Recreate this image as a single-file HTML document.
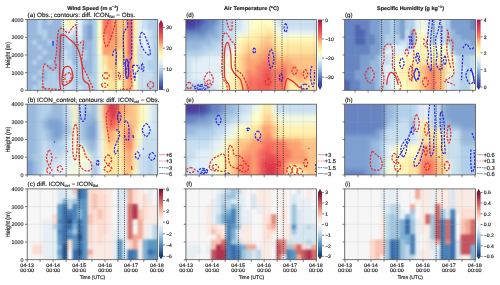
<!DOCTYPE html><html><head><meta charset="utf-8"><style>html,body{margin:0;padding:0;background:#fff;width:500px;height:285px;overflow:hidden}svg{position:absolute;left:0;top:0;font-family:"Liberation Sans",sans-serif}text{stroke:#222;stroke-width:0.16}svg{will-change:transform}text{text-rendering:geometricPrecision}</style></head><body>
<svg width="500" height="285" viewBox="0 0 500 285">
<defs>
<clipPath id="c00"><rect x="27.20" y="19.60" width="130.50" height="70.70"/></clipPath>
<clipPath id="c01"><rect x="27.20" y="104.20" width="130.50" height="70.70"/></clipPath>
<clipPath id="c02"><rect x="27.20" y="188.90" width="130.50" height="70.80"/></clipPath>
<clipPath id="c10"><rect x="185.90" y="19.60" width="130.60" height="70.70"/></clipPath>
<clipPath id="c11"><rect x="185.90" y="104.20" width="130.60" height="70.70"/></clipPath>
<clipPath id="c12"><rect x="185.90" y="188.90" width="130.60" height="70.80"/></clipPath>
<clipPath id="c20"><rect x="344.70" y="19.60" width="130.80" height="70.70"/></clipPath>
<clipPath id="c21"><rect x="344.70" y="104.20" width="130.80" height="70.70"/></clipPath>
<clipPath id="c22"><rect x="344.70" y="188.90" width="130.80" height="70.80"/></clipPath>
<linearGradient id="gRY" x1="0" y1="1" x2="0" y2="0"><stop offset="0.000" stop-color="#493b95"/><stop offset="0.050" stop-color="#4549a4"/><stop offset="0.100" stop-color="#5066b3"/><stop offset="0.150" stop-color="#6683c2"/><stop offset="0.200" stop-color="#7da0d1"/><stop offset="0.250" stop-color="#98b8dd"/><stop offset="0.300" stop-color="#b0cfe9"/><stop offset="0.350" stop-color="#c9dff0"/><stop offset="0.400" stop-color="#e2eff8"/><stop offset="0.450" stop-color="#f1f9de"/><stop offset="0.500" stop-color="#fffec5"/><stop offset="0.550" stop-color="#fff1b1"/><stop offset="0.600" stop-color="#fee39b"/><stop offset="0.650" stop-color="#fdc485"/><stop offset="0.700" stop-color="#fda170"/><stop offset="0.750" stop-color="#f87862"/><stop offset="0.800" stop-color="#f45b55"/><stop offset="0.850" stop-color="#e5464f"/><stop offset="0.900" stop-color="#d63851"/><stop offset="0.950" stop-color="#bd2753"/><stop offset="1.000" stop-color="#a51050"/></linearGradient>
<linearGradient id="gRB" x1="0" y1="1" x2="0" y2="0"><stop offset="0.000" stop-color="#163561"/><stop offset="0.050" stop-color="#274f84"/><stop offset="0.100" stop-color="#396cab"/><stop offset="0.150" stop-color="#4a81b7"/><stop offset="0.200" stop-color="#5a96c3"/><stop offset="0.250" stop-color="#7eafd1"/><stop offset="0.300" stop-color="#9ec5dd"/><stop offset="0.350" stop-color="#bbd6e7"/><stop offset="0.400" stop-color="#d7e6f0"/><stop offset="0.450" stop-color="#e7eff4"/><stop offset="0.500" stop-color="#f7f6f6"/><stop offset="0.550" stop-color="#faeae4"/><stop offset="0.600" stop-color="#fdddd1"/><stop offset="0.650" stop-color="#f8c3b3"/><stop offset="0.700" stop-color="#f3a996"/><stop offset="0.750" stop-color="#e4887d"/><stop offset="0.800" stop-color="#d66a66"/><stop offset="0.850" stop-color="#c4545f"/><stop offset="0.900" stop-color="#b1334f"/><stop offset="0.950" stop-color="#8a2241"/><stop offset="1.000" stop-color="#671334"/></linearGradient>
</defs>
<defs><filter id="bla" x="-10%" y="-10%" width="120%" height="120%" filterUnits="objectBoundingBox" color-interpolation-filters="sRGB"><feGaussianBlur stdDeviation="0.90"/></filter><filter id="blb" x="-10%" y="-10%" width="120%" height="120%" filterUnits="objectBoundingBox" color-interpolation-filters="sRGB"><feGaussianBlur stdDeviation="2.20"/></filter><filter id="blc" x="-10%" y="-10%" width="120%" height="120%" filterUnits="objectBoundingBox" color-interpolation-filters="sRGB"><feGaussianBlur stdDeviation="0.90"/></filter><filter id="bld" x="-10%" y="-10%" width="120%" height="120%" filterUnits="objectBoundingBox" color-interpolation-filters="sRGB"><feGaussianBlur stdDeviation="2.20"/></filter><filter id="ble" x="-10%" y="-10%" width="120%" height="120%" filterUnits="objectBoundingBox" color-interpolation-filters="sRGB"><feGaussianBlur stdDeviation="2.20"/></filter><filter id="blf" x="-10%" y="-10%" width="120%" height="120%" filterUnits="objectBoundingBox" color-interpolation-filters="sRGB"><feGaussianBlur stdDeviation="0.90"/></filter><filter id="blg" x="-10%" y="-10%" width="120%" height="120%" filterUnits="objectBoundingBox" color-interpolation-filters="sRGB"><feGaussianBlur stdDeviation="1.20"/></filter><filter id="blh" x="-10%" y="-10%" width="120%" height="120%" filterUnits="objectBoundingBox" color-interpolation-filters="sRGB"><feGaussianBlur stdDeviation="2.20"/></filter><filter id="bli" x="-10%" y="-10%" width="120%" height="120%" filterUnits="objectBoundingBox" color-interpolation-filters="sRGB"><feGaussianBlur stdDeviation="0.90"/></filter></defs>
<g clip-path="url(#c00)"><g filter="url(#bla)"><g transform="translate(27.20,19.60) scale(5.0192,5.0500)">
<rect x="-1" y="-1" width="3.10" height="1.1" fill="#98b8dd"/>
<rect x="2" y="-1" width="1.10" height="1.1" fill="#b0cfe9"/>
<rect x="3" y="-1" width="1.10" height="1.1" fill="#98b8dd"/>
<rect x="4" y="-1" width="1.10" height="1.1" fill="#b0cfe9"/>
<rect x="5" y="-1" width="2.10" height="1.1" fill="#98b8dd"/>
<rect x="7" y="-1" width="1.10" height="1.1" fill="#f1f9de"/>
<rect x="8" y="-1" width="1.10" height="1.1" fill="#fff1b1"/>
<rect x="9" y="-1" width="1.10" height="1.1" fill="#f1f9de"/>
<rect x="10" y="-1" width="1.10" height="1.1" fill="#e2eff8"/>
<rect x="11" y="-1" width="1.10" height="1.1" fill="#b0cfe9"/>
<rect x="12" y="-1" width="1.10" height="1.1" fill="#98b8dd"/>
<rect x="13" y="-1" width="1.10" height="1.1" fill="#b0cfe9"/>
<rect x="14" y="-1" width="1.10" height="1.1" fill="#fffec5"/>
<rect x="15" y="-1" width="2.10" height="1.1" fill="#f87862"/>
<rect x="17" y="-1" width="1.10" height="1.1" fill="#fda170"/>
<rect x="18" y="-1" width="2.10" height="1.1" fill="#fdc485"/>
<rect x="20" y="-1" width="1.10" height="1.1" fill="#f45b55"/>
<rect x="21" y="-1" width="1.10" height="1.1" fill="#fff1b1"/>
<rect x="22" y="-1" width="1.10" height="1.1" fill="#e2eff8"/>
<rect x="23" y="-1" width="1.10" height="1.1" fill="#c9dff0"/>
<rect x="24" y="-1" width="3.10" height="1.1" fill="#b0cfe9"/>
<rect x="-1" y="0" width="3.10" height="1.1" fill="#98b8dd"/>
<rect x="2" y="0" width="1.10" height="1.1" fill="#b0cfe9"/>
<rect x="3" y="0" width="1.10" height="1.1" fill="#98b8dd"/>
<rect x="4" y="0" width="1.10" height="1.1" fill="#b0cfe9"/>
<rect x="5" y="0" width="2.10" height="1.1" fill="#98b8dd"/>
<rect x="7" y="0" width="1.10" height="1.1" fill="#f1f9de"/>
<rect x="8" y="0" width="1.10" height="1.1" fill="#fff1b1"/>
<rect x="9" y="0" width="1.10" height="1.1" fill="#f1f9de"/>
<rect x="10" y="0" width="1.10" height="1.1" fill="#e2eff8"/>
<rect x="11" y="0" width="1.10" height="1.1" fill="#b0cfe9"/>
<rect x="12" y="0" width="1.10" height="1.1" fill="#98b8dd"/>
<rect x="13" y="0" width="1.10" height="1.1" fill="#b0cfe9"/>
<rect x="14" y="0" width="1.10" height="1.1" fill="#fffec5"/>
<rect x="15" y="0" width="2.10" height="1.1" fill="#f87862"/>
<rect x="17" y="0" width="1.10" height="1.1" fill="#fda170"/>
<rect x="18" y="0" width="2.10" height="1.1" fill="#fdc485"/>
<rect x="20" y="0" width="1.10" height="1.1" fill="#f45b55"/>
<rect x="21" y="0" width="1.10" height="1.1" fill="#fff1b1"/>
<rect x="22" y="0" width="1.10" height="1.1" fill="#e2eff8"/>
<rect x="23" y="0" width="1.10" height="1.1" fill="#c9dff0"/>
<rect x="24" y="0" width="3.10" height="1.1" fill="#b0cfe9"/>
<rect x="-1" y="1" width="3.10" height="1.1" fill="#98b8dd"/>
<rect x="2" y="1" width="1.10" height="1.1" fill="#b0cfe9"/>
<rect x="3" y="1" width="4.10" height="1.1" fill="#98b8dd"/>
<rect x="7" y="1" width="1.10" height="1.1" fill="#f1f9de"/>
<rect x="8" y="1" width="1.10" height="1.1" fill="#fffec5"/>
<rect x="9" y="1" width="2.10" height="1.1" fill="#e2eff8"/>
<rect x="11" y="1" width="1.10" height="1.1" fill="#98b8dd"/>
<rect x="12" y="1" width="1.10" height="1.1" fill="#7da0d1"/>
<rect x="13" y="1" width="1.10" height="1.1" fill="#b0cfe9"/>
<rect x="14" y="1" width="1.10" height="1.1" fill="#fffec5"/>
<rect x="15" y="1" width="2.10" height="1.1" fill="#f87862"/>
<rect x="17" y="1" width="1.10" height="1.1" fill="#fda170"/>
<rect x="18" y="1" width="2.10" height="1.1" fill="#fdc485"/>
<rect x="20" y="1" width="1.10" height="1.1" fill="#f45b55"/>
<rect x="21" y="1" width="1.10" height="1.1" fill="#fff1b1"/>
<rect x="22" y="1" width="1.10" height="1.1" fill="#e2eff8"/>
<rect x="23" y="1" width="1.10" height="1.1" fill="#c9dff0"/>
<rect x="24" y="1" width="3.10" height="1.1" fill="#b0cfe9"/>
<rect x="-1" y="2" width="3.10" height="1.1" fill="#98b8dd"/>
<rect x="2" y="2" width="2.10" height="1.1" fill="#b0cfe9"/>
<rect x="4" y="2" width="3.10" height="1.1" fill="#98b8dd"/>
<rect x="7" y="2" width="1.10" height="1.1" fill="#c9dff0"/>
<rect x="8" y="2" width="1.10" height="1.1" fill="#e2eff8"/>
<rect x="9" y="2" width="1.10" height="1.1" fill="#c9dff0"/>
<rect x="10" y="2" width="1.10" height="1.1" fill="#e2eff8"/>
<rect x="11" y="2" width="1.10" height="1.1" fill="#98b8dd"/>
<rect x="12" y="2" width="1.10" height="1.1" fill="#7da0d1"/>
<rect x="13" y="2" width="1.10" height="1.1" fill="#b0cfe9"/>
<rect x="14" y="2" width="1.10" height="1.1" fill="#fffec5"/>
<rect x="15" y="2" width="2.10" height="1.1" fill="#f87862"/>
<rect x="17" y="2" width="1.10" height="1.1" fill="#fda170"/>
<rect x="18" y="2" width="2.10" height="1.1" fill="#fdc485"/>
<rect x="20" y="2" width="1.10" height="1.1" fill="#f45b55"/>
<rect x="21" y="2" width="1.10" height="1.1" fill="#fff1b1"/>
<rect x="22" y="2" width="2.10" height="1.1" fill="#e2eff8"/>
<rect x="24" y="2" width="1.10" height="1.1" fill="#c9dff0"/>
<rect x="25" y="2" width="2.10" height="1.1" fill="#b0cfe9"/>
<rect x="-1" y="3" width="4.10" height="1.1" fill="#98b8dd"/>
<rect x="3" y="3" width="1.10" height="1.1" fill="#b0cfe9"/>
<rect x="4" y="3" width="2.10" height="1.1" fill="#98b8dd"/>
<rect x="6" y="3" width="1.10" height="1.1" fill="#7da0d1"/>
<rect x="7" y="3" width="1.10" height="1.1" fill="#b0cfe9"/>
<rect x="8" y="3" width="1.10" height="1.1" fill="#c9dff0"/>
<rect x="9" y="3" width="1.10" height="1.1" fill="#b0cfe9"/>
<rect x="10" y="3" width="1.10" height="1.1" fill="#e2eff8"/>
<rect x="11" y="3" width="1.10" height="1.1" fill="#98b8dd"/>
<rect x="12" y="3" width="1.10" height="1.1" fill="#7da0d1"/>
<rect x="13" y="3" width="1.10" height="1.1" fill="#b0cfe9"/>
<rect x="14" y="3" width="1.10" height="1.1" fill="#fffec5"/>
<rect x="15" y="3" width="1.10" height="1.1" fill="#fda170"/>
<rect x="16" y="3" width="1.10" height="1.1" fill="#f87862"/>
<rect x="17" y="3" width="1.10" height="1.1" fill="#fda170"/>
<rect x="18" y="3" width="2.10" height="1.1" fill="#fdc485"/>
<rect x="20" y="3" width="1.10" height="1.1" fill="#f45b55"/>
<rect x="21" y="3" width="1.10" height="1.1" fill="#fff1b1"/>
<rect x="22" y="3" width="2.10" height="1.1" fill="#e2eff8"/>
<rect x="24" y="3" width="1.10" height="1.1" fill="#c9dff0"/>
<rect x="25" y="3" width="2.10" height="1.1" fill="#b0cfe9"/>
<rect x="-1" y="4" width="2.10" height="1.1" fill="#98b8dd"/>
<rect x="1" y="4" width="1.10" height="1.1" fill="#b0cfe9"/>
<rect x="2" y="4" width="2.10" height="1.1" fill="#98b8dd"/>
<rect x="4" y="4" width="1.10" height="1.1" fill="#b0cfe9"/>
<rect x="5" y="4" width="1.10" height="1.1" fill="#98b8dd"/>
<rect x="6" y="4" width="1.10" height="1.1" fill="#7da0d1"/>
<rect x="7" y="4" width="1.10" height="1.1" fill="#b0cfe9"/>
<rect x="8" y="4" width="1.10" height="1.1" fill="#c9dff0"/>
<rect x="9" y="4" width="1.10" height="1.1" fill="#98b8dd"/>
<rect x="10" y="4" width="1.10" height="1.1" fill="#c9dff0"/>
<rect x="11" y="4" width="2.10" height="1.1" fill="#98b8dd"/>
<rect x="13" y="4" width="1.10" height="1.1" fill="#b0cfe9"/>
<rect x="14" y="4" width="1.10" height="1.1" fill="#fffec5"/>
<rect x="15" y="4" width="3.10" height="1.1" fill="#fda170"/>
<rect x="18" y="4" width="2.10" height="1.1" fill="#fdc485"/>
<rect x="20" y="4" width="1.10" height="1.1" fill="#f45b55"/>
<rect x="21" y="4" width="1.10" height="1.1" fill="#fff1b1"/>
<rect x="22" y="4" width="2.10" height="1.1" fill="#e2eff8"/>
<rect x="24" y="4" width="1.10" height="1.1" fill="#c9dff0"/>
<rect x="25" y="4" width="2.10" height="1.1" fill="#b0cfe9"/>
<rect x="-1" y="5" width="3.10" height="1.1" fill="#98b8dd"/>
<rect x="2" y="5" width="1.10" height="1.1" fill="#b0cfe9"/>
<rect x="3" y="5" width="3.10" height="1.1" fill="#98b8dd"/>
<rect x="6" y="5" width="1.10" height="1.1" fill="#7da0d1"/>
<rect x="7" y="5" width="2.10" height="1.1" fill="#b0cfe9"/>
<rect x="9" y="5" width="1.10" height="1.1" fill="#98b8dd"/>
<rect x="10" y="5" width="1.10" height="1.1" fill="#b0cfe9"/>
<rect x="11" y="5" width="2.10" height="1.1" fill="#98b8dd"/>
<rect x="13" y="5" width="1.10" height="1.1" fill="#b0cfe9"/>
<rect x="14" y="5" width="1.10" height="1.1" fill="#fffec5"/>
<rect x="15" y="5" width="3.10" height="1.1" fill="#fda170"/>
<rect x="18" y="5" width="2.10" height="1.1" fill="#fdc485"/>
<rect x="20" y="5" width="1.10" height="1.1" fill="#f45b55"/>
<rect x="21" y="5" width="1.10" height="1.1" fill="#fff1b1"/>
<rect x="22" y="5" width="1.10" height="1.1" fill="#c9dff0"/>
<rect x="23" y="5" width="1.10" height="1.1" fill="#e2eff8"/>
<rect x="24" y="5" width="1.10" height="1.1" fill="#c9dff0"/>
<rect x="25" y="5" width="2.10" height="1.1" fill="#b0cfe9"/>
<rect x="-1" y="6" width="4.10" height="1.1" fill="#98b8dd"/>
<rect x="3" y="6" width="1.10" height="1.1" fill="#b0cfe9"/>
<rect x="4" y="6" width="2.10" height="1.1" fill="#98b8dd"/>
<rect x="6" y="6" width="1.10" height="1.1" fill="#7da0d1"/>
<rect x="7" y="6" width="1.10" height="1.1" fill="#c9dff0"/>
<rect x="8" y="6" width="1.10" height="1.1" fill="#b0cfe9"/>
<rect x="9" y="6" width="1.10" height="1.1" fill="#98b8dd"/>
<rect x="10" y="6" width="2.10" height="1.1" fill="#b0cfe9"/>
<rect x="12" y="6" width="1.10" height="1.1" fill="#98b8dd"/>
<rect x="13" y="6" width="1.10" height="1.1" fill="#b0cfe9"/>
<rect x="14" y="6" width="1.10" height="1.1" fill="#fffec5"/>
<rect x="15" y="6" width="2.10" height="1.1" fill="#fda170"/>
<rect x="17" y="6" width="1.10" height="1.1" fill="#fdc485"/>
<rect x="18" y="6" width="1.10" height="1.1" fill="#fee39b"/>
<rect x="19" y="6" width="1.10" height="1.1" fill="#fdc485"/>
<rect x="20" y="6" width="1.10" height="1.1" fill="#f45b55"/>
<rect x="21" y="6" width="1.10" height="1.1" fill="#fff1b1"/>
<rect x="22" y="6" width="1.10" height="1.1" fill="#c9dff0"/>
<rect x="23" y="6" width="1.10" height="1.1" fill="#e2eff8"/>
<rect x="24" y="6" width="1.10" height="1.1" fill="#c9dff0"/>
<rect x="25" y="6" width="2.10" height="1.1" fill="#b0cfe9"/>
<rect x="-1" y="7" width="3.10" height="1.1" fill="#98b8dd"/>
<rect x="2" y="7" width="1.10" height="1.1" fill="#b0cfe9"/>
<rect x="3" y="7" width="3.10" height="1.1" fill="#98b8dd"/>
<rect x="6" y="7" width="1.10" height="1.1" fill="#7da0d1"/>
<rect x="7" y="7" width="1.10" height="1.1" fill="#c9dff0"/>
<rect x="8" y="7" width="1.10" height="1.1" fill="#b0cfe9"/>
<rect x="9" y="7" width="1.10" height="1.1" fill="#98b8dd"/>
<rect x="10" y="7" width="2.10" height="1.1" fill="#b0cfe9"/>
<rect x="12" y="7" width="1.10" height="1.1" fill="#98b8dd"/>
<rect x="13" y="7" width="1.10" height="1.1" fill="#b0cfe9"/>
<rect x="14" y="7" width="1.10" height="1.1" fill="#f1f9de"/>
<rect x="15" y="7" width="1.10" height="1.1" fill="#fee39b"/>
<rect x="16" y="7" width="2.10" height="1.1" fill="#fdc485"/>
<rect x="18" y="7" width="1.10" height="1.1" fill="#fee39b"/>
<rect x="19" y="7" width="1.10" height="1.1" fill="#fdc485"/>
<rect x="20" y="7" width="1.10" height="1.1" fill="#f87862"/>
<rect x="21" y="7" width="1.10" height="1.1" fill="#fff1b1"/>
<rect x="22" y="7" width="3.10" height="1.1" fill="#c9dff0"/>
<rect x="25" y="7" width="2.10" height="1.1" fill="#b0cfe9"/>
<rect x="-1" y="8" width="2.10" height="1.1" fill="#98b8dd"/>
<rect x="1" y="8" width="1.10" height="1.1" fill="#b0cfe9"/>
<rect x="2" y="8" width="2.10" height="1.1" fill="#98b8dd"/>
<rect x="4" y="8" width="1.10" height="1.1" fill="#b0cfe9"/>
<rect x="5" y="8" width="2.10" height="1.1" fill="#98b8dd"/>
<rect x="7" y="8" width="2.10" height="1.1" fill="#c9dff0"/>
<rect x="9" y="8" width="1.10" height="1.1" fill="#98b8dd"/>
<rect x="10" y="8" width="1.10" height="1.1" fill="#b0cfe9"/>
<rect x="11" y="8" width="2.10" height="1.1" fill="#98b8dd"/>
<rect x="13" y="8" width="1.10" height="1.1" fill="#b0cfe9"/>
<rect x="14" y="8" width="1.10" height="1.1" fill="#f1f9de"/>
<rect x="15" y="8" width="1.10" height="1.1" fill="#fee39b"/>
<rect x="16" y="8" width="2.10" height="1.1" fill="#fdc485"/>
<rect x="18" y="8" width="1.10" height="1.1" fill="#fff1b1"/>
<rect x="19" y="8" width="1.10" height="1.1" fill="#fdc485"/>
<rect x="20" y="8" width="1.10" height="1.1" fill="#f87862"/>
<rect x="21" y="8" width="1.10" height="1.1" fill="#fff1b1"/>
<rect x="22" y="8" width="2.10" height="1.1" fill="#c9dff0"/>
<rect x="24" y="8" width="3.10" height="1.1" fill="#b0cfe9"/>
<rect x="-1" y="9" width="4.10" height="1.1" fill="#98b8dd"/>
<rect x="3" y="9" width="1.10" height="1.1" fill="#b0cfe9"/>
<rect x="4" y="9" width="3.10" height="1.1" fill="#98b8dd"/>
<rect x="7" y="9" width="2.10" height="1.1" fill="#c9dff0"/>
<rect x="9" y="9" width="2.10" height="1.1" fill="#b0cfe9"/>
<rect x="11" y="9" width="2.10" height="1.1" fill="#98b8dd"/>
<rect x="13" y="9" width="1.10" height="1.1" fill="#b0cfe9"/>
<rect x="14" y="9" width="1.10" height="1.1" fill="#f1f9de"/>
<rect x="15" y="9" width="1.10" height="1.1" fill="#fff1b1"/>
<rect x="16" y="9" width="2.10" height="1.1" fill="#fdc485"/>
<rect x="18" y="9" width="1.10" height="1.1" fill="#fff1b1"/>
<rect x="19" y="9" width="1.10" height="1.1" fill="#fdc485"/>
<rect x="20" y="9" width="1.10" height="1.1" fill="#f87862"/>
<rect x="21" y="9" width="1.10" height="1.1" fill="#fff1b1"/>
<rect x="22" y="9" width="2.10" height="1.1" fill="#c9dff0"/>
<rect x="24" y="9" width="3.10" height="1.1" fill="#b0cfe9"/>
<rect x="-1" y="10" width="3.10" height="1.1" fill="#98b8dd"/>
<rect x="2" y="10" width="1.10" height="1.1" fill="#b0cfe9"/>
<rect x="3" y="10" width="1.10" height="1.1" fill="#98b8dd"/>
<rect x="4" y="10" width="2.10" height="1.1" fill="#b0cfe9"/>
<rect x="6" y="10" width="1.10" height="1.1" fill="#98b8dd"/>
<rect x="7" y="10" width="2.10" height="1.1" fill="#c9dff0"/>
<rect x="9" y="10" width="3.10" height="1.1" fill="#b0cfe9"/>
<rect x="12" y="10" width="1.10" height="1.1" fill="#98b8dd"/>
<rect x="13" y="10" width="1.10" height="1.1" fill="#b0cfe9"/>
<rect x="14" y="10" width="1.10" height="1.1" fill="#f1f9de"/>
<rect x="15" y="10" width="1.10" height="1.1" fill="#fff1b1"/>
<rect x="16" y="10" width="1.10" height="1.1" fill="#fee39b"/>
<rect x="17" y="10" width="1.10" height="1.1" fill="#fdc485"/>
<rect x="18" y="10" width="1.10" height="1.1" fill="#fff1b1"/>
<rect x="19" y="10" width="1.10" height="1.1" fill="#fdc485"/>
<rect x="20" y="10" width="1.10" height="1.1" fill="#f87862"/>
<rect x="21" y="10" width="1.10" height="1.1" fill="#fffec5"/>
<rect x="22" y="10" width="3.10" height="1.1" fill="#c9dff0"/>
<rect x="25" y="10" width="2.10" height="1.1" fill="#b0cfe9"/>
<rect x="-1" y="11" width="2.10" height="1.1" fill="#98b8dd"/>
<rect x="1" y="11" width="1.10" height="1.1" fill="#b0cfe9"/>
<rect x="2" y="11" width="2.10" height="1.1" fill="#98b8dd"/>
<rect x="4" y="11" width="2.10" height="1.1" fill="#b0cfe9"/>
<rect x="6" y="11" width="1.10" height="1.1" fill="#98b8dd"/>
<rect x="7" y="11" width="2.10" height="1.1" fill="#c9dff0"/>
<rect x="9" y="11" width="5.10" height="1.1" fill="#b0cfe9"/>
<rect x="14" y="11" width="1.10" height="1.1" fill="#f1f9de"/>
<rect x="15" y="11" width="1.10" height="1.1" fill="#fff1b1"/>
<rect x="16" y="11" width="1.10" height="1.1" fill="#fee39b"/>
<rect x="17" y="11" width="1.10" height="1.1" fill="#fdc485"/>
<rect x="18" y="11" width="1.10" height="1.1" fill="#fff1b1"/>
<rect x="19" y="11" width="1.10" height="1.1" fill="#fdc485"/>
<rect x="20" y="11" width="1.10" height="1.1" fill="#f87862"/>
<rect x="21" y="11" width="1.10" height="1.1" fill="#fffec5"/>
<rect x="22" y="11" width="3.10" height="1.1" fill="#c9dff0"/>
<rect x="25" y="11" width="2.10" height="1.1" fill="#b0cfe9"/>
<rect x="-1" y="12" width="3.10" height="1.1" fill="#98b8dd"/>
<rect x="2" y="12" width="5.10" height="1.1" fill="#b0cfe9"/>
<rect x="7" y="12" width="2.10" height="1.1" fill="#c9dff0"/>
<rect x="9" y="12" width="5.10" height="1.1" fill="#b0cfe9"/>
<rect x="14" y="12" width="1.10" height="1.1" fill="#f1f9de"/>
<rect x="15" y="12" width="1.10" height="1.1" fill="#fffec5"/>
<rect x="16" y="12" width="2.10" height="1.1" fill="#fee39b"/>
<rect x="18" y="12" width="1.10" height="1.1" fill="#fffec5"/>
<rect x="19" y="12" width="1.10" height="1.1" fill="#fdc485"/>
<rect x="20" y="12" width="1.10" height="1.1" fill="#fda170"/>
<rect x="21" y="12" width="1.10" height="1.1" fill="#fffec5"/>
<rect x="22" y="12" width="2.10" height="1.1" fill="#c9dff0"/>
<rect x="24" y="12" width="3.10" height="1.1" fill="#b0cfe9"/>
<rect x="-1" y="13" width="2.10" height="1.1" fill="#98b8dd"/>
<rect x="1" y="13" width="6.10" height="1.1" fill="#b0cfe9"/>
<rect x="7" y="13" width="2.10" height="1.1" fill="#c9dff0"/>
<rect x="9" y="13" width="1.10" height="1.1" fill="#b0cfe9"/>
<rect x="10" y="13" width="1.10" height="1.1" fill="#c9dff0"/>
<rect x="11" y="13" width="3.10" height="1.1" fill="#b0cfe9"/>
<rect x="14" y="13" width="1.10" height="1.1" fill="#f1f9de"/>
<rect x="15" y="13" width="1.10" height="1.1" fill="#fffec5"/>
<rect x="16" y="13" width="2.10" height="1.1" fill="#fee39b"/>
<rect x="18" y="13" width="1.10" height="1.1" fill="#fffec5"/>
<rect x="19" y="13" width="1.10" height="1.1" fill="#fdc485"/>
<rect x="20" y="13" width="1.10" height="1.1" fill="#fda170"/>
<rect x="21" y="13" width="1.10" height="1.1" fill="#fffec5"/>
<rect x="22" y="13" width="2.10" height="1.1" fill="#c9dff0"/>
<rect x="24" y="13" width="3.10" height="1.1" fill="#b0cfe9"/>
<rect x="-1" y="14" width="2.10" height="1.1" fill="#98b8dd"/>
<rect x="1" y="14" width="6.10" height="1.1" fill="#b0cfe9"/>
<rect x="7" y="14" width="2.10" height="1.1" fill="#c9dff0"/>
<rect x="9" y="14" width="1.10" height="1.1" fill="#b0cfe9"/>
<rect x="10" y="14" width="1.10" height="1.1" fill="#c9dff0"/>
<rect x="11" y="14" width="3.10" height="1.1" fill="#b0cfe9"/>
<rect x="14" y="14" width="1.10" height="1.1" fill="#f1f9de"/>
<rect x="15" y="14" width="1.10" height="1.1" fill="#fffec5"/>
<rect x="16" y="14" width="2.10" height="1.1" fill="#fee39b"/>
<rect x="18" y="14" width="1.10" height="1.1" fill="#fffec5"/>
<rect x="19" y="14" width="1.10" height="1.1" fill="#fdc485"/>
<rect x="20" y="14" width="1.10" height="1.1" fill="#fda170"/>
<rect x="21" y="14" width="1.10" height="1.1" fill="#fffec5"/>
<rect x="22" y="14" width="2.10" height="1.1" fill="#c9dff0"/>
<rect x="24" y="14" width="3.10" height="1.1" fill="#b0cfe9"/>
</g></g></g>
<g stroke="#a8a8a8" stroke-width="0.45" opacity="0.4">
<line x1="37.70" y1="19.60" x2="37.70" y2="90.30"/>
<line x1="50.79" y1="19.60" x2="50.79" y2="90.30"/>
<line x1="63.88" y1="19.60" x2="63.88" y2="90.30"/>
<line x1="76.97" y1="19.60" x2="76.97" y2="90.30"/>
<line x1="90.06" y1="19.60" x2="90.06" y2="90.30"/>
<line x1="103.14" y1="19.60" x2="103.14" y2="90.30"/>
<line x1="116.23" y1="19.60" x2="116.23" y2="90.30"/>
<line x1="129.32" y1="19.60" x2="129.32" y2="90.30"/>
<line x1="142.41" y1="19.60" x2="142.41" y2="90.30"/>
<line x1="155.50" y1="19.60" x2="155.50" y2="90.30"/>
<line x1="27.20" y1="72.62" x2="157.70" y2="72.62"/>
<line x1="27.20" y1="54.95" x2="157.70" y2="54.95"/>
<line x1="27.20" y1="37.28" x2="157.70" y2="37.28"/>
</g>
<g clip-path="url(#c00)" fill="none" stroke-width="1.25">
<path d="M44.00,88.40 C43.78,87.30 42.70,85.73 42.70,81.80 C42.70,77.87 42.90,67.20 44.00,64.80 C45.10,62.40 47.77,66.53 49.30,67.40 C50.83,68.27 52.03,70.23 53.20,70.00 C54.37,69.77 56.00,67.37 56.30,66.00 C56.60,64.63 55.00,63.80 55.00,61.80 C55.00,59.80 55.98,56.80 56.30,54.00 C56.62,51.20 56.58,48.67 56.90,45.00 C57.22,41.33 57.65,34.70 58.20,32.00 C58.75,29.30 59.43,29.40 60.20,28.80 C60.97,28.20 62.05,28.08 62.80,28.40 C63.55,28.72 63.73,29.98 64.70,30.70 C65.67,31.42 67.40,33.13 68.60,32.70 C69.80,32.27 70.82,29.40 71.90,28.10 C72.98,26.80 74.38,25.12 75.10,24.90 C75.82,24.68 75.98,25.18 76.20,26.80 C76.42,28.42 76.25,32.00 76.40,34.60 C76.55,37.20 76.77,40.67 77.10,42.40 C77.43,44.13 77.65,45.10 78.40,45.00 C79.15,44.90 80.73,42.33 81.60,41.80 C82.47,41.27 83.38,40.62 83.60,41.80 C83.82,42.98 83.17,45.28 82.90,48.90 C82.63,52.52 81.27,59.10 82.00,63.50 C82.73,67.90 85.98,72.25 87.30,75.30 C88.62,78.35 89.03,79.85 89.90,81.80 C90.77,83.75 91.98,85.47 92.50,87.00 C93.02,88.53 92.92,90.33 93.00,91.00" stroke="#e5322d" stroke-dasharray="2.2,1.2"/>
<path d="M61.10,91.00 C60.87,89.03 59.80,87.95 59.70,79.20 C59.60,70.45 60.10,45.82 60.50,38.50 C60.90,31.18 61.40,35.83 62.10,35.30 C62.80,34.77 63.62,34.77 64.70,35.30 C65.78,35.83 67.30,37.42 68.60,38.50 C69.90,39.58 71.20,40.50 72.50,41.80 C73.80,43.10 75.32,44.68 76.40,46.30 C77.48,47.92 78.07,48.42 79.00,51.50 C79.93,54.58 81.28,60.18 82.00,64.80 C82.72,69.42 82.20,75.93 83.30,79.20 C84.40,82.47 87.50,82.43 88.60,84.40 C89.70,86.37 89.68,89.90 89.90,91.00" stroke="#e5322d"/>
<path d="M62.40,84.40 C61.53,82.00 62.40,71.53 63.70,68.70 C65.00,65.87 68.68,66.08 70.20,67.40 C71.72,68.72 73.02,73.98 72.80,76.60 C72.58,79.22 70.63,81.80 68.90,83.10 C67.17,84.40 63.27,86.80 62.40,84.40 Z" stroke="#e5322d"/>
<path d="M65.00,75.30 C65.65,73.78 69.20,72.05 70.20,72.70 C71.20,73.35 71.65,77.68 71.00,79.20 C70.35,80.72 67.30,82.45 66.30,81.80 C65.30,81.15 64.35,76.82 65.00,75.30 Z" stroke="#e5322d" stroke-dasharray="2.2,1.2"/>
<path d="M42.00,86.50 C42.32,86.83 42.07,88.07 43.90,88.50 C45.73,88.93 50.18,88.88 53.00,89.10 C55.82,89.32 59.50,89.68 60.80,89.80" stroke="#e5322d" stroke-dasharray="2.2,1.2"/>
<path d="M53.00,41.00 L53.00,45.70" stroke="#2a2ae6"/>
<path d="M109.50,19.00 C108.67,21.00 105.42,27.50 104.50,31.00 C103.58,34.50 103.67,37.33 104.00,40.00 C104.33,42.67 105.50,47.00 106.50,47.00 C107.50,47.00 108.75,43.17 110.00,40.00 C111.25,36.83 113.08,31.50 114.00,28.00 C114.92,24.50 115.25,20.50 115.50,19.00" stroke="#e5322d" stroke-dasharray="2.2,1.2"/>
<path d="M127.00,19.00 C127.10,20.33 128.15,24.58 127.60,27.00 C127.05,29.42 124.35,28.67 123.70,33.50 C123.05,38.33 123.60,50.58 123.70,56.00 C123.80,61.42 124.20,64.33 124.30,66.00" stroke="#2a2ae6" stroke-dasharray="2.2,1.2"/>
<path d="M131.60,19.00 C131.60,25.17 131.82,49.28 131.60,56.00 C131.38,62.72 130.97,57.65 130.30,59.30 C129.63,60.95 128.38,63.27 127.60,65.90 C126.82,68.53 125.93,73.57 125.60,75.10" stroke="#2a2ae6" stroke-dasharray="2.2,1.2"/>
<path d="M126.00,60.00 C126.42,58.67 127.58,59.50 128.00,62.00 C128.42,64.50 128.75,72.33 128.50,75.00 C128.25,77.67 127.00,78.83 126.50,78.00 C126.00,77.17 125.58,73.00 125.50,70.00 C125.42,67.00 125.58,61.33 126.00,60.00 Z" stroke="#2a2ae6"/>
<path d="M140.80,33.50 C141.47,32.50 142.55,31.58 144.00,34.00 C145.45,36.42 148.50,44.50 149.50,48.00 C150.50,51.50 150.58,54.17 150.00,55.00 C149.42,55.83 147.42,54.50 146.00,53.00 C144.58,51.50 142.50,48.17 141.50,46.00 C140.50,43.83 140.12,42.08 140.00,40.00 C139.88,37.92 140.13,34.50 140.80,33.50 Z" stroke="#2a2ae6" stroke-dasharray="2.2,1.2"/>
<path d="M112.50,56.00 C112.75,55.00 113.35,50.67 114.00,50.00 C114.65,49.33 116.12,49.35 116.40,52.00 C116.68,54.65 115.82,63.58 115.70,65.90" stroke="#2a2ae6" stroke-dasharray="2.2,1.2"/>
<path d="M132.90,65.90 C133.67,64.58 137.22,65.25 138.20,65.90 C139.18,66.55 139.25,68.48 138.80,69.80 C138.35,71.12 136.15,72.03 135.50,73.80 C134.85,75.57 135.22,80.40 134.90,80.40 C134.58,80.40 133.93,76.22 133.60,73.80 C133.27,71.38 132.13,67.22 132.90,65.90 Z" stroke="#2a2ae6" stroke-dasharray="2.2,1.2"/>
<path d="M142.10,63.20 C142.53,63.42 143.98,67.18 144.10,68.50 C144.22,69.82 143.23,71.32 142.80,71.10 C142.37,70.88 141.62,68.52 141.50,67.20 C141.38,65.88 141.67,62.98 142.10,63.20 Z" stroke="#2a2ae6" stroke-dasharray="2.2,1.2"/>
<path d="M105.90,72.50 C107.00,72.50 109.20,74.70 109.20,75.80 C109.20,76.90 107.00,79.10 105.90,79.10 C104.80,79.10 102.60,76.90 102.60,75.80 C102.60,74.70 104.80,72.50 105.90,72.50 Z" stroke="#e5322d" stroke-dasharray="2.2,1.2"/>
<path d="M101.20,85.00 C101.20,84.25 103.40,83.00 104.50,83.00 C105.60,83.00 107.80,84.25 107.80,85.00 C107.80,85.75 105.60,87.50 104.50,87.50 C103.40,87.50 101.20,85.75 101.20,85.00 Z" stroke="#e5322d" stroke-dasharray="2.2,1.2"/>
<path d="M130.30,71.10 C130.52,72.58 131.38,77.35 131.60,80.00 C131.82,82.65 132.20,85.50 131.60,87.00 C131.00,88.50 129.93,88.58 128.00,89.00 C126.07,89.42 121.33,89.42 120.00,89.50" stroke="#e5322d" stroke-dasharray="2.2,1.2"/>
<path d="M147.40,85.00 C147.40,83.90 149.60,81.70 150.70,81.70 C151.80,81.70 154.00,83.90 154.00,85.00 C154.00,86.10 151.80,88.30 150.70,88.30 C149.60,88.30 147.40,86.10 147.40,85.00 Z" stroke="#e5322d" stroke-dasharray="2.2,1.2"/>
<path d="M118.40,72.50 C118.70,72.17 120.13,73.92 120.40,75.00 C120.67,76.08 120.30,78.67 120.00,79.00 C119.70,79.33 118.87,78.08 118.60,77.00 C118.33,75.92 118.10,72.83 118.40,72.50 Z" stroke="#e5322d" stroke-dasharray="2.2,1.2"/>
</g>
<line x1="63.40" y1="19.60" x2="63.40" y2="90.30" stroke="#222" stroke-width="0.7" stroke-dasharray="1.2,1"/>
<line x1="76.80" y1="19.60" x2="76.80" y2="90.30" stroke="#222" stroke-width="0.7" stroke-dasharray="1.2,1"/>
<line x1="116.00" y1="19.60" x2="116.00" y2="90.30" stroke="#222" stroke-width="0.7" stroke-dasharray="1.2,1"/>
<line x1="123.30" y1="19.60" x2="123.30" y2="90.30" stroke="#222" stroke-width="0.7" stroke-dasharray="1.2,1"/>
<rect x="27.20" y="19.60" width="130.50" height="70.70" fill="none" stroke="#555" stroke-width="0.8"/>
<line x1="37.70" y1="90.30" x2="37.70" y2="92.50" stroke="#444" stroke-width="0.7"/>
<line x1="50.79" y1="90.30" x2="50.79" y2="92.50" stroke="#444" stroke-width="0.7"/>
<line x1="63.88" y1="90.30" x2="63.88" y2="92.50" stroke="#444" stroke-width="0.7"/>
<line x1="76.97" y1="90.30" x2="76.97" y2="92.50" stroke="#444" stroke-width="0.7"/>
<line x1="90.06" y1="90.30" x2="90.06" y2="92.50" stroke="#444" stroke-width="0.7"/>
<line x1="103.14" y1="90.30" x2="103.14" y2="92.50" stroke="#444" stroke-width="0.7"/>
<line x1="116.23" y1="90.30" x2="116.23" y2="92.50" stroke="#444" stroke-width="0.7"/>
<line x1="129.32" y1="90.30" x2="129.32" y2="92.50" stroke="#444" stroke-width="0.7"/>
<line x1="142.41" y1="90.30" x2="142.41" y2="92.50" stroke="#444" stroke-width="0.7"/>
<line x1="155.50" y1="90.30" x2="155.50" y2="92.50" stroke="#444" stroke-width="0.7"/>
<line x1="25.00" y1="90.30" x2="27.20" y2="90.30" stroke="#444" stroke-width="0.7"/>
<text x="23.60" y="92.20" font-size="5.4" fill="#333" text-anchor="end">0</text>
<line x1="25.00" y1="72.62" x2="27.20" y2="72.62" stroke="#444" stroke-width="0.7"/>
<text x="23.60" y="74.53" font-size="5.4" fill="#333" text-anchor="end">1000</text>
<line x1="25.00" y1="54.95" x2="27.20" y2="54.95" stroke="#444" stroke-width="0.7"/>
<text x="23.60" y="56.85" font-size="5.4" fill="#333" text-anchor="end">2000</text>
<line x1="25.00" y1="37.28" x2="27.20" y2="37.28" stroke="#444" stroke-width="0.7"/>
<text x="23.60" y="39.18" font-size="5.4" fill="#333" text-anchor="end">3000</text>
<line x1="25.00" y1="19.60" x2="27.20" y2="19.60" stroke="#444" stroke-width="0.7"/>
<text x="23.60" y="21.50" font-size="5.4" fill="#333" text-anchor="end">4000</text>
<g clip-path="url(#c01)"><g filter="url(#blb)"><g transform="translate(27.20,104.20) scale(5.0192,5.0500)">
<rect x="-1" y="-1" width="3.10" height="1.1" fill="#98b8dd"/>
<rect x="2" y="-1" width="3.10" height="1.1" fill="#b0cfe9"/>
<rect x="5" y="-1" width="2.10" height="1.1" fill="#98b8dd"/>
<rect x="7" y="-1" width="1.10" height="1.1" fill="#b0cfe9"/>
<rect x="8" y="-1" width="1.10" height="1.1" fill="#e2eff8"/>
<rect x="9" y="-1" width="1.10" height="1.1" fill="#fff1b1"/>
<rect x="10" y="-1" width="1.10" height="1.1" fill="#c9dff0"/>
<rect x="11" y="-1" width="2.10" height="1.1" fill="#b0cfe9"/>
<rect x="13" y="-1" width="1.10" height="1.1" fill="#98b8dd"/>
<rect x="14" y="-1" width="1.10" height="1.1" fill="#f1f9de"/>
<rect x="15" y="-1" width="1.10" height="1.1" fill="#fda170"/>
<rect x="16" y="-1" width="2.10" height="1.1" fill="#d63851"/>
<rect x="18" y="-1" width="2.10" height="1.1" fill="#fda170"/>
<rect x="20" y="-1" width="2.10" height="1.1" fill="#fdc485"/>
<rect x="22" y="-1" width="1.10" height="1.1" fill="#fff1b1"/>
<rect x="23" y="-1" width="1.10" height="1.1" fill="#fffec5"/>
<rect x="24" y="-1" width="1.10" height="1.1" fill="#e2eff8"/>
<rect x="25" y="-1" width="2.10" height="1.1" fill="#c9dff0"/>
<rect x="-1" y="0" width="3.10" height="1.1" fill="#98b8dd"/>
<rect x="2" y="0" width="3.10" height="1.1" fill="#b0cfe9"/>
<rect x="5" y="0" width="2.10" height="1.1" fill="#98b8dd"/>
<rect x="7" y="0" width="1.10" height="1.1" fill="#b0cfe9"/>
<rect x="8" y="0" width="1.10" height="1.1" fill="#e2eff8"/>
<rect x="9" y="0" width="1.10" height="1.1" fill="#fff1b1"/>
<rect x="10" y="0" width="1.10" height="1.1" fill="#c9dff0"/>
<rect x="11" y="0" width="2.10" height="1.1" fill="#b0cfe9"/>
<rect x="13" y="0" width="1.10" height="1.1" fill="#98b8dd"/>
<rect x="14" y="0" width="1.10" height="1.1" fill="#f1f9de"/>
<rect x="15" y="0" width="1.10" height="1.1" fill="#fda170"/>
<rect x="16" y="0" width="2.10" height="1.1" fill="#d63851"/>
<rect x="18" y="0" width="2.10" height="1.1" fill="#fda170"/>
<rect x="20" y="0" width="2.10" height="1.1" fill="#fdc485"/>
<rect x="22" y="0" width="1.10" height="1.1" fill="#fff1b1"/>
<rect x="23" y="0" width="1.10" height="1.1" fill="#fffec5"/>
<rect x="24" y="0" width="1.10" height="1.1" fill="#e2eff8"/>
<rect x="25" y="0" width="2.10" height="1.1" fill="#c9dff0"/>
<rect x="-1" y="1" width="3.10" height="1.1" fill="#98b8dd"/>
<rect x="2" y="1" width="3.10" height="1.1" fill="#b0cfe9"/>
<rect x="5" y="1" width="2.10" height="1.1" fill="#98b8dd"/>
<rect x="7" y="1" width="1.10" height="1.1" fill="#b0cfe9"/>
<rect x="8" y="1" width="1.10" height="1.1" fill="#c9dff0"/>
<rect x="9" y="1" width="1.10" height="1.1" fill="#fff1b1"/>
<rect x="10" y="1" width="1.10" height="1.1" fill="#c9dff0"/>
<rect x="11" y="1" width="1.10" height="1.1" fill="#98b8dd"/>
<rect x="12" y="1" width="1.10" height="1.1" fill="#b0cfe9"/>
<rect x="13" y="1" width="1.10" height="1.1" fill="#98b8dd"/>
<rect x="14" y="1" width="1.10" height="1.1" fill="#f1f9de"/>
<rect x="15" y="1" width="1.10" height="1.1" fill="#fda170"/>
<rect x="16" y="1" width="2.10" height="1.1" fill="#d63851"/>
<rect x="18" y="1" width="2.10" height="1.1" fill="#fda170"/>
<rect x="20" y="1" width="2.10" height="1.1" fill="#fdc485"/>
<rect x="22" y="1" width="1.10" height="1.1" fill="#fff1b1"/>
<rect x="23" y="1" width="1.10" height="1.1" fill="#fffec5"/>
<rect x="24" y="1" width="1.10" height="1.1" fill="#e2eff8"/>
<rect x="25" y="1" width="2.10" height="1.1" fill="#c9dff0"/>
<rect x="-1" y="2" width="3.10" height="1.1" fill="#98b8dd"/>
<rect x="2" y="2" width="2.10" height="1.1" fill="#b0cfe9"/>
<rect x="4" y="2" width="3.10" height="1.1" fill="#98b8dd"/>
<rect x="7" y="2" width="1.10" height="1.1" fill="#b0cfe9"/>
<rect x="8" y="2" width="1.10" height="1.1" fill="#c9dff0"/>
<rect x="9" y="2" width="1.10" height="1.1" fill="#fff1b1"/>
<rect x="10" y="2" width="1.10" height="1.1" fill="#c9dff0"/>
<rect x="11" y="2" width="3.10" height="1.1" fill="#98b8dd"/>
<rect x="14" y="2" width="1.10" height="1.1" fill="#f1f9de"/>
<rect x="15" y="2" width="1.10" height="1.1" fill="#fda170"/>
<rect x="16" y="2" width="2.10" height="1.1" fill="#e5464f"/>
<rect x="18" y="2" width="1.10" height="1.1" fill="#fda170"/>
<rect x="19" y="2" width="3.10" height="1.1" fill="#fdc485"/>
<rect x="22" y="2" width="1.10" height="1.1" fill="#fff1b1"/>
<rect x="23" y="2" width="1.10" height="1.1" fill="#fffec5"/>
<rect x="24" y="2" width="1.10" height="1.1" fill="#e2eff8"/>
<rect x="25" y="2" width="2.10" height="1.1" fill="#c9dff0"/>
<rect x="-1" y="3" width="3.10" height="1.1" fill="#98b8dd"/>
<rect x="2" y="3" width="1.10" height="1.1" fill="#b0cfe9"/>
<rect x="3" y="3" width="1.10" height="1.1" fill="#98b8dd"/>
<rect x="4" y="3" width="3.10" height="1.1" fill="#7da0d1"/>
<rect x="7" y="3" width="1.10" height="1.1" fill="#b0cfe9"/>
<rect x="8" y="3" width="1.10" height="1.1" fill="#c9dff0"/>
<rect x="9" y="3" width="1.10" height="1.1" fill="#fffec5"/>
<rect x="10" y="3" width="1.10" height="1.1" fill="#b0cfe9"/>
<rect x="11" y="3" width="2.10" height="1.1" fill="#98b8dd"/>
<rect x="13" y="3" width="1.10" height="1.1" fill="#7da0d1"/>
<rect x="14" y="3" width="1.10" height="1.1" fill="#f1f9de"/>
<rect x="15" y="3" width="1.10" height="1.1" fill="#fdc485"/>
<rect x="16" y="3" width="2.10" height="1.1" fill="#f45b55"/>
<rect x="18" y="3" width="1.10" height="1.1" fill="#fda170"/>
<rect x="19" y="3" width="3.10" height="1.1" fill="#fdc485"/>
<rect x="22" y="3" width="1.10" height="1.1" fill="#fff1b1"/>
<rect x="23" y="3" width="1.10" height="1.1" fill="#fffec5"/>
<rect x="24" y="3" width="1.10" height="1.1" fill="#e2eff8"/>
<rect x="25" y="3" width="2.10" height="1.1" fill="#c9dff0"/>
<rect x="-1" y="4" width="3.10" height="1.1" fill="#98b8dd"/>
<rect x="2" y="4" width="1.10" height="1.1" fill="#b0cfe9"/>
<rect x="3" y="4" width="1.10" height="1.1" fill="#98b8dd"/>
<rect x="4" y="4" width="3.10" height="1.1" fill="#7da0d1"/>
<rect x="7" y="4" width="1.10" height="1.1" fill="#98b8dd"/>
<rect x="8" y="4" width="1.10" height="1.1" fill="#b0cfe9"/>
<rect x="9" y="4" width="1.10" height="1.1" fill="#fffec5"/>
<rect x="10" y="4" width="1.10" height="1.1" fill="#b0cfe9"/>
<rect x="11" y="4" width="1.10" height="1.1" fill="#98b8dd"/>
<rect x="12" y="4" width="2.10" height="1.1" fill="#7da0d1"/>
<rect x="14" y="4" width="1.10" height="1.1" fill="#e2eff8"/>
<rect x="15" y="4" width="1.10" height="1.1" fill="#fdc485"/>
<rect x="16" y="4" width="1.10" height="1.1" fill="#f45b55"/>
<rect x="17" y="4" width="1.10" height="1.1" fill="#f87862"/>
<rect x="18" y="4" width="2.10" height="1.1" fill="#fdc485"/>
<rect x="20" y="4" width="1.10" height="1.1" fill="#fda170"/>
<rect x="21" y="4" width="1.10" height="1.1" fill="#fdc485"/>
<rect x="22" y="4" width="1.10" height="1.1" fill="#fffec5"/>
<rect x="23" y="4" width="1.10" height="1.1" fill="#f1f9de"/>
<rect x="24" y="4" width="1.10" height="1.1" fill="#e2eff8"/>
<rect x="25" y="4" width="2.10" height="1.1" fill="#c9dff0"/>
<rect x="-1" y="5" width="3.10" height="1.1" fill="#98b8dd"/>
<rect x="2" y="5" width="2.10" height="1.1" fill="#b0cfe9"/>
<rect x="4" y="5" width="1.10" height="1.1" fill="#98b8dd"/>
<rect x="5" y="5" width="2.10" height="1.1" fill="#7da0d1"/>
<rect x="7" y="5" width="1.10" height="1.1" fill="#98b8dd"/>
<rect x="8" y="5" width="1.10" height="1.1" fill="#b0cfe9"/>
<rect x="9" y="5" width="1.10" height="1.1" fill="#fffec5"/>
<rect x="10" y="5" width="1.10" height="1.1" fill="#b0cfe9"/>
<rect x="11" y="5" width="1.10" height="1.1" fill="#98b8dd"/>
<rect x="12" y="5" width="2.10" height="1.1" fill="#7da0d1"/>
<rect x="14" y="5" width="1.10" height="1.1" fill="#e2eff8"/>
<rect x="15" y="5" width="1.10" height="1.1" fill="#fee39b"/>
<rect x="16" y="5" width="1.10" height="1.1" fill="#fda170"/>
<rect x="17" y="5" width="1.10" height="1.1" fill="#fdc485"/>
<rect x="18" y="5" width="1.10" height="1.1" fill="#fee39b"/>
<rect x="19" y="5" width="1.10" height="1.1" fill="#fda170"/>
<rect x="20" y="5" width="1.10" height="1.1" fill="#f87862"/>
<rect x="21" y="5" width="1.10" height="1.1" fill="#fee39b"/>
<rect x="22" y="5" width="1.10" height="1.1" fill="#fffec5"/>
<rect x="23" y="5" width="4.10" height="1.1" fill="#c9dff0"/>
<rect x="-1" y="6" width="3.10" height="1.1" fill="#98b8dd"/>
<rect x="2" y="6" width="2.10" height="1.1" fill="#b0cfe9"/>
<rect x="4" y="6" width="1.10" height="1.1" fill="#98b8dd"/>
<rect x="5" y="6" width="2.10" height="1.1" fill="#7da0d1"/>
<rect x="7" y="6" width="1.10" height="1.1" fill="#b0cfe9"/>
<rect x="8" y="6" width="1.10" height="1.1" fill="#c9dff0"/>
<rect x="9" y="6" width="1.10" height="1.1" fill="#fffec5"/>
<rect x="10" y="6" width="1.10" height="1.1" fill="#b0cfe9"/>
<rect x="11" y="6" width="1.10" height="1.1" fill="#98b8dd"/>
<rect x="12" y="6" width="2.10" height="1.1" fill="#7da0d1"/>
<rect x="14" y="6" width="1.10" height="1.1" fill="#e2eff8"/>
<rect x="15" y="6" width="1.10" height="1.1" fill="#fee39b"/>
<rect x="16" y="6" width="1.10" height="1.1" fill="#fda170"/>
<rect x="17" y="6" width="1.10" height="1.1" fill="#fdc485"/>
<rect x="18" y="6" width="1.10" height="1.1" fill="#fee39b"/>
<rect x="19" y="6" width="1.10" height="1.1" fill="#fda170"/>
<rect x="20" y="6" width="1.10" height="1.1" fill="#f87862"/>
<rect x="21" y="6" width="1.10" height="1.1" fill="#fee39b"/>
<rect x="22" y="6" width="1.10" height="1.1" fill="#fffec5"/>
<rect x="23" y="6" width="4.10" height="1.1" fill="#c9dff0"/>
<rect x="-1" y="7" width="3.10" height="1.1" fill="#98b8dd"/>
<rect x="2" y="7" width="1.10" height="1.1" fill="#b0cfe9"/>
<rect x="3" y="7" width="1.10" height="1.1" fill="#c9dff0"/>
<rect x="4" y="7" width="1.10" height="1.1" fill="#b0cfe9"/>
<rect x="5" y="7" width="1.10" height="1.1" fill="#98b8dd"/>
<rect x="6" y="7" width="1.10" height="1.1" fill="#b0cfe9"/>
<rect x="7" y="7" width="1.10" height="1.1" fill="#c9dff0"/>
<rect x="8" y="7" width="1.10" height="1.1" fill="#e2eff8"/>
<rect x="9" y="7" width="1.10" height="1.1" fill="#f1f9de"/>
<rect x="10" y="7" width="1.10" height="1.1" fill="#c9dff0"/>
<rect x="11" y="7" width="1.10" height="1.1" fill="#b0cfe9"/>
<rect x="12" y="7" width="2.10" height="1.1" fill="#98b8dd"/>
<rect x="14" y="7" width="1.10" height="1.1" fill="#e2eff8"/>
<rect x="15" y="7" width="1.10" height="1.1" fill="#fff1b1"/>
<rect x="16" y="7" width="2.10" height="1.1" fill="#fdc485"/>
<rect x="18" y="7" width="1.10" height="1.1" fill="#fff1b1"/>
<rect x="19" y="7" width="1.10" height="1.1" fill="#fda170"/>
<rect x="20" y="7" width="1.10" height="1.1" fill="#f87862"/>
<rect x="21" y="7" width="1.10" height="1.1" fill="#fee39b"/>
<rect x="22" y="7" width="1.10" height="1.1" fill="#f1f9de"/>
<rect x="23" y="7" width="4.10" height="1.1" fill="#c9dff0"/>
<rect x="-1" y="8" width="3.10" height="1.1" fill="#98b8dd"/>
<rect x="2" y="8" width="1.10" height="1.1" fill="#b0cfe9"/>
<rect x="3" y="8" width="1.10" height="1.1" fill="#c9dff0"/>
<rect x="4" y="8" width="4.10" height="1.1" fill="#b0cfe9"/>
<rect x="8" y="8" width="1.10" height="1.1" fill="#e2eff8"/>
<rect x="9" y="8" width="1.10" height="1.1" fill="#f1f9de"/>
<rect x="10" y="8" width="1.10" height="1.1" fill="#fffec5"/>
<rect x="11" y="8" width="1.10" height="1.1" fill="#c9dff0"/>
<rect x="12" y="8" width="2.10" height="1.1" fill="#98b8dd"/>
<rect x="14" y="8" width="1.10" height="1.1" fill="#e2eff8"/>
<rect x="15" y="8" width="1.10" height="1.1" fill="#fff1b1"/>
<rect x="16" y="8" width="1.10" height="1.1" fill="#fdc485"/>
<rect x="17" y="8" width="1.10" height="1.1" fill="#fee39b"/>
<rect x="18" y="8" width="1.10" height="1.1" fill="#fff1b1"/>
<rect x="19" y="8" width="1.10" height="1.1" fill="#fda170"/>
<rect x="20" y="8" width="1.10" height="1.1" fill="#f87862"/>
<rect x="21" y="8" width="1.10" height="1.1" fill="#fee39b"/>
<rect x="22" y="8" width="1.10" height="1.1" fill="#e2eff8"/>
<rect x="23" y="8" width="4.10" height="1.1" fill="#c9dff0"/>
<rect x="-1" y="9" width="3.10" height="1.1" fill="#98b8dd"/>
<rect x="2" y="9" width="1.10" height="1.1" fill="#b0cfe9"/>
<rect x="3" y="9" width="2.10" height="1.1" fill="#c9dff0"/>
<rect x="5" y="9" width="2.10" height="1.1" fill="#b0cfe9"/>
<rect x="7" y="9" width="1.10" height="1.1" fill="#c9dff0"/>
<rect x="8" y="9" width="1.10" height="1.1" fill="#e2eff8"/>
<rect x="9" y="9" width="2.10" height="1.1" fill="#f1f9de"/>
<rect x="11" y="9" width="1.10" height="1.1" fill="#fffec5"/>
<rect x="12" y="9" width="2.10" height="1.1" fill="#b0cfe9"/>
<rect x="14" y="9" width="1.10" height="1.1" fill="#e2eff8"/>
<rect x="15" y="9" width="1.10" height="1.1" fill="#fff1b1"/>
<rect x="16" y="9" width="2.10" height="1.1" fill="#fee39b"/>
<rect x="18" y="9" width="1.10" height="1.1" fill="#fff1b1"/>
<rect x="19" y="9" width="1.10" height="1.1" fill="#fdc485"/>
<rect x="20" y="9" width="1.10" height="1.1" fill="#fda170"/>
<rect x="21" y="9" width="1.10" height="1.1" fill="#fff1b1"/>
<rect x="22" y="9" width="1.10" height="1.1" fill="#e2eff8"/>
<rect x="23" y="9" width="4.10" height="1.1" fill="#c9dff0"/>
<rect x="-1" y="10" width="2.10" height="1.1" fill="#98b8dd"/>
<rect x="1" y="10" width="2.10" height="1.1" fill="#b0cfe9"/>
<rect x="3" y="10" width="4.10" height="1.1" fill="#c9dff0"/>
<rect x="7" y="10" width="2.10" height="1.1" fill="#e2eff8"/>
<rect x="9" y="10" width="2.10" height="1.1" fill="#f1f9de"/>
<rect x="11" y="10" width="1.10" height="1.1" fill="#fffec5"/>
<rect x="12" y="10" width="1.10" height="1.1" fill="#f1f9de"/>
<rect x="13" y="10" width="1.10" height="1.1" fill="#b0cfe9"/>
<rect x="14" y="10" width="1.10" height="1.1" fill="#e2eff8"/>
<rect x="15" y="10" width="1.10" height="1.1" fill="#fff1b1"/>
<rect x="16" y="10" width="2.10" height="1.1" fill="#fee39b"/>
<rect x="18" y="10" width="1.10" height="1.1" fill="#fff1b1"/>
<rect x="19" y="10" width="1.10" height="1.1" fill="#fdc485"/>
<rect x="20" y="10" width="1.10" height="1.1" fill="#fda170"/>
<rect x="21" y="10" width="1.10" height="1.1" fill="#fff1b1"/>
<rect x="22" y="10" width="2.10" height="1.1" fill="#c9dff0"/>
<rect x="24" y="10" width="1.10" height="1.1" fill="#b0cfe9"/>
<rect x="25" y="10" width="2.10" height="1.1" fill="#c9dff0"/>
<rect x="-1" y="11" width="2.10" height="1.1" fill="#7da0d1"/>
<rect x="1" y="11" width="1.10" height="1.1" fill="#98b8dd"/>
<rect x="2" y="11" width="1.10" height="1.1" fill="#b0cfe9"/>
<rect x="3" y="11" width="4.10" height="1.1" fill="#c9dff0"/>
<rect x="7" y="11" width="2.10" height="1.1" fill="#e2eff8"/>
<rect x="9" y="11" width="4.10" height="1.1" fill="#f1f9de"/>
<rect x="13" y="11" width="1.10" height="1.1" fill="#b0cfe9"/>
<rect x="14" y="11" width="1.10" height="1.1" fill="#e2eff8"/>
<rect x="15" y="11" width="1.10" height="1.1" fill="#fff1b1"/>
<rect x="16" y="11" width="2.10" height="1.1" fill="#fee39b"/>
<rect x="18" y="11" width="1.10" height="1.1" fill="#fff1b1"/>
<rect x="19" y="11" width="1.10" height="1.1" fill="#fdc485"/>
<rect x="20" y="11" width="1.10" height="1.1" fill="#fda170"/>
<rect x="21" y="11" width="1.10" height="1.1" fill="#fff1b1"/>
<rect x="22" y="11" width="2.10" height="1.1" fill="#c9dff0"/>
<rect x="24" y="11" width="1.10" height="1.1" fill="#b0cfe9"/>
<rect x="25" y="11" width="2.10" height="1.1" fill="#c9dff0"/>
<rect x="-1" y="12" width="2.10" height="1.1" fill="#7da0d1"/>
<rect x="1" y="12" width="1.10" height="1.1" fill="#98b8dd"/>
<rect x="2" y="12" width="1.10" height="1.1" fill="#b0cfe9"/>
<rect x="3" y="12" width="2.10" height="1.1" fill="#c9dff0"/>
<rect x="5" y="12" width="3.10" height="1.1" fill="#e2eff8"/>
<rect x="8" y="12" width="4.10" height="1.1" fill="#f1f9de"/>
<rect x="12" y="12" width="1.10" height="1.1" fill="#e2eff8"/>
<rect x="13" y="12" width="1.10" height="1.1" fill="#98b8dd"/>
<rect x="14" y="12" width="1.10" height="1.1" fill="#e2eff8"/>
<rect x="15" y="12" width="1.10" height="1.1" fill="#fffec5"/>
<rect x="16" y="12" width="2.10" height="1.1" fill="#fee39b"/>
<rect x="18" y="12" width="1.10" height="1.1" fill="#fff1b1"/>
<rect x="19" y="12" width="2.10" height="1.1" fill="#fdc485"/>
<rect x="21" y="12" width="1.10" height="1.1" fill="#fff1b1"/>
<rect x="22" y="12" width="2.10" height="1.1" fill="#c9dff0"/>
<rect x="24" y="12" width="1.10" height="1.1" fill="#b0cfe9"/>
<rect x="25" y="12" width="2.10" height="1.1" fill="#c9dff0"/>
<rect x="-1" y="13" width="2.10" height="1.1" fill="#7da0d1"/>
<rect x="1" y="13" width="1.10" height="1.1" fill="#98b8dd"/>
<rect x="2" y="13" width="1.10" height="1.1" fill="#b0cfe9"/>
<rect x="3" y="13" width="5.10" height="1.1" fill="#e2eff8"/>
<rect x="8" y="13" width="4.10" height="1.1" fill="#f1f9de"/>
<rect x="12" y="13" width="1.10" height="1.1" fill="#e2eff8"/>
<rect x="13" y="13" width="1.10" height="1.1" fill="#98b8dd"/>
<rect x="14" y="13" width="1.10" height="1.1" fill="#e2eff8"/>
<rect x="15" y="13" width="1.10" height="1.1" fill="#fffec5"/>
<rect x="16" y="13" width="2.10" height="1.1" fill="#fee39b"/>
<rect x="18" y="13" width="1.10" height="1.1" fill="#fffec5"/>
<rect x="19" y="13" width="2.10" height="1.1" fill="#fdc485"/>
<rect x="21" y="13" width="1.10" height="1.1" fill="#fffec5"/>
<rect x="22" y="13" width="2.10" height="1.1" fill="#c9dff0"/>
<rect x="24" y="13" width="1.10" height="1.1" fill="#b0cfe9"/>
<rect x="25" y="13" width="2.10" height="1.1" fill="#c9dff0"/>
<rect x="-1" y="14" width="2.10" height="1.1" fill="#7da0d1"/>
<rect x="1" y="14" width="1.10" height="1.1" fill="#98b8dd"/>
<rect x="2" y="14" width="1.10" height="1.1" fill="#b0cfe9"/>
<rect x="3" y="14" width="5.10" height="1.1" fill="#e2eff8"/>
<rect x="8" y="14" width="4.10" height="1.1" fill="#f1f9de"/>
<rect x="12" y="14" width="1.10" height="1.1" fill="#e2eff8"/>
<rect x="13" y="14" width="1.10" height="1.1" fill="#98b8dd"/>
<rect x="14" y="14" width="1.10" height="1.1" fill="#e2eff8"/>
<rect x="15" y="14" width="1.10" height="1.1" fill="#fffec5"/>
<rect x="16" y="14" width="2.10" height="1.1" fill="#fee39b"/>
<rect x="18" y="14" width="1.10" height="1.1" fill="#fffec5"/>
<rect x="19" y="14" width="2.10" height="1.1" fill="#fdc485"/>
<rect x="21" y="14" width="1.10" height="1.1" fill="#fffec5"/>
<rect x="22" y="14" width="2.10" height="1.1" fill="#c9dff0"/>
<rect x="24" y="14" width="1.10" height="1.1" fill="#b0cfe9"/>
<rect x="25" y="14" width="2.10" height="1.1" fill="#c9dff0"/>
</g></g></g>
<g stroke="#a8a8a8" stroke-width="0.45" opacity="0.4">
<line x1="40.15" y1="104.20" x2="40.15" y2="174.90"/>
<line x1="53.10" y1="104.20" x2="53.10" y2="174.90"/>
<line x1="66.05" y1="104.20" x2="66.05" y2="174.90"/>
<line x1="79.00" y1="104.20" x2="79.00" y2="174.90"/>
<line x1="91.95" y1="104.20" x2="91.95" y2="174.90"/>
<line x1="104.90" y1="104.20" x2="104.90" y2="174.90"/>
<line x1="117.85" y1="104.20" x2="117.85" y2="174.90"/>
<line x1="130.80" y1="104.20" x2="130.80" y2="174.90"/>
<line x1="143.75" y1="104.20" x2="143.75" y2="174.90"/>
<line x1="156.70" y1="104.20" x2="156.70" y2="174.90"/>
<line x1="27.20" y1="157.22" x2="157.70" y2="157.22"/>
<line x1="27.20" y1="139.55" x2="157.70" y2="139.55"/>
<line x1="27.20" y1="121.88" x2="157.70" y2="121.88"/>
</g>
<g clip-path="url(#c01)" fill="none" stroke-width="1.25">
<path d="M79.60,104.00 C79.78,106.18 80.15,114.22 80.70,117.10 C81.25,119.98 82.15,121.32 82.90,121.30 C83.65,121.28 84.77,119.88 85.20,117.00 C85.63,114.12 85.45,106.17 85.50,104.00" stroke="#2a2ae6" stroke-dasharray="2.2,1.2"/>
<path d="M75.50,124.40 C76.20,123.97 77.00,127.05 77.30,130.20 C77.60,133.35 77.47,138.93 77.30,143.30 C77.13,147.67 76.73,153.57 76.30,156.40 C75.87,159.23 75.28,161.17 74.70,160.30 C74.12,159.43 73.07,155.78 72.80,151.20 C72.53,146.62 72.65,137.27 73.10,132.80 C73.55,128.33 74.80,124.83 75.50,124.40 Z" stroke="#e5322d" stroke-dasharray="2.2,1.2"/>
<path d="M79.40,145.90 C80.05,144.15 82.22,146.75 83.30,148.50 C84.38,150.25 84.58,154.00 85.90,156.40 C87.22,158.80 90.32,160.72 91.20,162.90 C92.08,165.08 92.08,168.18 91.20,169.50 C90.32,170.82 87.65,171.23 85.90,170.80 C84.15,170.37 81.78,168.87 80.70,166.90 C79.62,164.93 79.62,162.50 79.40,159.00 C79.18,155.50 78.75,147.65 79.40,145.90 Z" stroke="#e5322d" stroke-dasharray="2.2,1.2"/>
<path d="M49.20,149.80 C50.08,149.80 51.90,155.08 51.90,157.70 C51.90,160.32 50.08,165.50 49.20,165.50 C48.32,165.50 46.60,160.32 46.60,157.70 C46.60,155.08 48.32,149.80 49.20,149.80 Z" stroke="#e5322d" stroke-dasharray="2.2,1.2"/>
<path d="M49.20,166.90 C50.08,166.90 51.90,169.12 51.90,170.20 C51.90,171.28 50.08,173.40 49.20,173.40 C48.32,173.40 46.60,171.28 46.60,170.20 C46.60,169.12 48.32,166.90 49.20,166.90 Z" stroke="#e5322d" stroke-dasharray="2.2,1.2"/>
<path d="M59.80,165.60 C60.68,165.60 62.40,167.72 62.40,168.80 C62.40,169.88 60.68,172.10 59.80,172.10 C58.92,172.10 57.10,169.88 57.10,168.80 C57.10,167.72 58.92,165.60 59.80,165.60 Z" stroke="#e5322d" stroke-dasharray="2.2,1.2"/>
<path d="M67.20,151.00 L68.00,151.80" stroke="#e5322d"/>
<path d="M55.50,157.50 L56.20,158.00" stroke="#e5322d"/>
<path d="M111.80,104.00 C111.43,104.92 110.43,107.98 109.60,109.50 C108.77,111.02 107.33,111.28 106.80,113.10 C106.27,114.92 106.32,117.82 106.40,120.40 C106.48,122.98 106.93,125.82 107.30,128.60 C107.67,131.38 108.30,134.70 108.60,137.10 C108.90,139.50 109.02,142.02 109.10,143.00" stroke="#e5322d" stroke-dasharray="2.2,1.2"/>
<path d="M116.90,104.00 C116.58,105.52 115.92,110.52 115.00,113.10 C114.08,115.68 112.00,117.52 111.40,119.50 C110.80,121.48 111.40,124.08 111.40,125.00" stroke="#e5322d" stroke-dasharray="2.2,1.2"/>
<path d="M108.20,154.80 C109.42,154.80 111.80,158.08 111.80,159.70 C111.80,161.32 109.42,164.50 108.20,164.50 C106.98,164.50 104.50,161.32 104.50,159.70 C104.50,158.08 106.98,154.80 108.20,154.80 Z" stroke="#e5322d" stroke-dasharray="2.2,1.2"/>
<path d="M107.80,165.40 C109.12,165.40 111.80,167.60 111.80,168.70 C111.80,169.80 109.12,172.00 107.80,172.00 C106.48,172.00 103.90,169.80 103.90,168.70 C103.90,167.60 106.48,165.40 107.80,165.40 Z" stroke="#e5322d" stroke-dasharray="2.2,1.2"/>
<path d="M119.20,112.20 C119.82,112.20 121.00,115.53 121.00,117.20 C121.00,118.87 119.82,122.20 119.20,122.20 C118.58,122.20 117.30,118.87 117.30,117.20 C117.30,115.53 118.58,112.20 119.20,112.20 Z" stroke="#2a2ae6" stroke-dasharray="2.2,1.2"/>
<path d="M124.60,122.20 C124.92,122.00 125.82,120.37 126.50,121.00 C127.18,121.63 128.33,123.00 128.70,126.00 C129.07,129.00 129.07,136.67 128.70,139.00 C128.33,141.33 127.25,140.67 126.50,140.00 C125.75,139.33 124.58,135.83 124.20,135.00" stroke="#2a2ae6" stroke-dasharray="2.2,1.2"/>
<path d="M116.00,129.80 C116.45,129.92 118.10,129.47 118.70,130.50 C119.30,131.53 119.78,134.42 119.60,136.00 C119.42,137.58 118.43,138.00 117.60,140.00 C116.77,142.00 115.03,145.67 114.60,148.00 C114.17,150.33 114.43,153.67 115.00,154.00 C115.57,154.33 117.50,150.67 118.00,150.00" stroke="#2a2ae6" stroke-dasharray="2.2,1.2"/>
<path d="M146.20,123.60 C147.50,123.60 150.10,127.92 150.10,130.10 C150.10,132.28 147.50,136.70 146.20,136.70 C144.90,136.70 142.30,132.28 142.30,130.10 C142.30,127.92 144.90,123.60 146.20,123.60 Z" stroke="#2a2ae6" stroke-dasharray="2.2,1.2"/>
<path d="M137.40,151.80 C138.17,151.80 139.70,154.18 139.70,155.40 C139.70,156.62 138.17,159.10 137.40,159.10 C136.63,159.10 135.10,156.62 135.10,155.40 C135.10,154.18 136.63,151.80 137.40,151.80 Z" stroke="#2a2ae6" stroke-dasharray="2.2,1.2"/>
<path d="M152.10,152.50 C153.20,152.50 155.40,155.10 155.40,156.40 C155.40,157.70 153.20,160.30 152.10,160.30 C151.00,160.30 148.80,157.70 148.80,156.40 C148.80,155.10 151.00,152.50 152.10,152.50 Z" stroke="#2a2ae6" stroke-dasharray="2.2,1.2"/>
<path d="M97.70,160.30 C98.13,160.30 99.00,162.02 99.00,162.90 C99.00,163.78 98.13,165.60 97.70,165.60 C97.27,165.60 96.40,163.78 96.40,162.90 C96.40,162.02 97.27,160.30 97.70,160.30 Z" stroke="#2a2ae6" stroke-dasharray="2.2,1.2"/>
<path d="M132.80,134.80 L133.60,138.00" stroke="#2a2ae6"/>
<path d="M143.00,148.60 L143.60,149.40" stroke="#2a2ae6"/>
<path d="M54.20,141.60 L54.80,142.40" stroke="#2a2ae6"/>
<path d="M131.50,166.00 L132.00,170.00" stroke="#e5322d"/>
<path d="M124.00,174.50 L128.00,174.00" stroke="#e5322d" stroke-dasharray="2.2,1.2"/>
</g>
<line x1="66.20" y1="104.20" x2="66.20" y2="174.90" stroke="#222" stroke-width="0.7" stroke-dasharray="1.2,1"/>
<line x1="79.20" y1="104.20" x2="79.20" y2="174.90" stroke="#222" stroke-width="0.7" stroke-dasharray="1.2,1"/>
<line x1="118.30" y1="104.20" x2="118.30" y2="174.90" stroke="#222" stroke-width="0.7" stroke-dasharray="1.2,1"/>
<line x1="124.50" y1="104.20" x2="124.50" y2="174.90" stroke="#222" stroke-width="0.7" stroke-dasharray="1.2,1"/>
<rect x="27.20" y="104.20" width="130.50" height="70.70" fill="none" stroke="#555" stroke-width="0.8"/>
<line x1="27.20" y1="174.90" x2="27.20" y2="177.10" stroke="#444" stroke-width="0.7"/>
<line x1="40.15" y1="174.90" x2="40.15" y2="177.10" stroke="#444" stroke-width="0.7"/>
<line x1="53.10" y1="174.90" x2="53.10" y2="177.10" stroke="#444" stroke-width="0.7"/>
<line x1="66.05" y1="174.90" x2="66.05" y2="177.10" stroke="#444" stroke-width="0.7"/>
<line x1="79.00" y1="174.90" x2="79.00" y2="177.10" stroke="#444" stroke-width="0.7"/>
<line x1="91.95" y1="174.90" x2="91.95" y2="177.10" stroke="#444" stroke-width="0.7"/>
<line x1="104.90" y1="174.90" x2="104.90" y2="177.10" stroke="#444" stroke-width="0.7"/>
<line x1="117.85" y1="174.90" x2="117.85" y2="177.10" stroke="#444" stroke-width="0.7"/>
<line x1="130.80" y1="174.90" x2="130.80" y2="177.10" stroke="#444" stroke-width="0.7"/>
<line x1="143.75" y1="174.90" x2="143.75" y2="177.10" stroke="#444" stroke-width="0.7"/>
<line x1="156.70" y1="174.90" x2="156.70" y2="177.10" stroke="#444" stroke-width="0.7"/>
<line x1="25.00" y1="174.90" x2="27.20" y2="174.90" stroke="#444" stroke-width="0.7"/>
<text x="23.60" y="176.80" font-size="5.4" fill="#333" text-anchor="end">0</text>
<line x1="25.00" y1="157.22" x2="27.20" y2="157.22" stroke="#444" stroke-width="0.7"/>
<text x="23.60" y="159.12" font-size="5.4" fill="#333" text-anchor="end">1000</text>
<line x1="25.00" y1="139.55" x2="27.20" y2="139.55" stroke="#444" stroke-width="0.7"/>
<text x="23.60" y="141.45" font-size="5.4" fill="#333" text-anchor="end">2000</text>
<line x1="25.00" y1="121.88" x2="27.20" y2="121.88" stroke="#444" stroke-width="0.7"/>
<text x="23.60" y="123.78" font-size="5.4" fill="#333" text-anchor="end">3000</text>
<line x1="25.00" y1="104.20" x2="27.20" y2="104.20" stroke="#444" stroke-width="0.7"/>
<text x="23.60" y="106.10" font-size="5.4" fill="#333" text-anchor="end">4000</text>
<g clip-path="url(#c02)"><g filter="url(#blc)"><g transform="translate(27.20,188.90) scale(5.0192,5.0571)">
<rect x="-1" y="-1" width="7.10" height="1.1" fill="#f7f6f6"/>
<rect x="6" y="-1" width="2.10" height="1.1" fill="#d7e6f0"/>
<rect x="8" y="-1" width="1.10" height="1.1" fill="#e7eff4"/>
<rect x="9" y="-1" width="1.10" height="1.1" fill="#f8c3b3"/>
<rect x="10" y="-1" width="1.10" height="1.1" fill="#396cab"/>
<rect x="11" y="-1" width="1.10" height="1.1" fill="#4a81b7"/>
<rect x="12" y="-1" width="3.10" height="1.1" fill="#fdddd1"/>
<rect x="15" y="-1" width="2.10" height="1.1" fill="#faeae4"/>
<rect x="17" y="-1" width="1.10" height="1.1" fill="#f7f6f6"/>
<rect x="18" y="-1" width="2.10" height="1.1" fill="#d7e6f0"/>
<rect x="20" y="-1" width="1.10" height="1.1" fill="#f3a996"/>
<rect x="21" y="-1" width="1.10" height="1.1" fill="#fdddd1"/>
<rect x="22" y="-1" width="1.10" height="1.1" fill="#faeae4"/>
<rect x="23" y="-1" width="1.10" height="1.1" fill="#f7f6f6"/>
<rect x="24" y="-1" width="1.10" height="1.1" fill="#e7eff4"/>
<rect x="25" y="-1" width="2.10" height="1.1" fill="#f7f6f6"/>
<rect x="-1" y="0" width="7.10" height="1.1" fill="#f7f6f6"/>
<rect x="6" y="0" width="2.10" height="1.1" fill="#d7e6f0"/>
<rect x="8" y="0" width="1.10" height="1.1" fill="#e7eff4"/>
<rect x="9" y="0" width="1.10" height="1.1" fill="#f8c3b3"/>
<rect x="10" y="0" width="1.10" height="1.1" fill="#396cab"/>
<rect x="11" y="0" width="1.10" height="1.1" fill="#4a81b7"/>
<rect x="12" y="0" width="3.10" height="1.1" fill="#fdddd1"/>
<rect x="15" y="0" width="2.10" height="1.1" fill="#faeae4"/>
<rect x="17" y="0" width="1.10" height="1.1" fill="#f7f6f6"/>
<rect x="18" y="0" width="2.10" height="1.1" fill="#d7e6f0"/>
<rect x="20" y="0" width="1.10" height="1.1" fill="#f3a996"/>
<rect x="21" y="0" width="1.10" height="1.1" fill="#fdddd1"/>
<rect x="22" y="0" width="1.10" height="1.1" fill="#faeae4"/>
<rect x="23" y="0" width="1.10" height="1.1" fill="#f7f6f6"/>
<rect x="24" y="0" width="1.10" height="1.1" fill="#e7eff4"/>
<rect x="25" y="0" width="2.10" height="1.1" fill="#f7f6f6"/>
<rect x="-1" y="1" width="7.10" height="1.1" fill="#f7f6f6"/>
<rect x="6" y="1" width="2.10" height="1.1" fill="#d7e6f0"/>
<rect x="8" y="1" width="1.10" height="1.1" fill="#e7eff4"/>
<rect x="9" y="1" width="1.10" height="1.1" fill="#d7e6f0"/>
<rect x="10" y="1" width="1.10" height="1.1" fill="#396cab"/>
<rect x="11" y="1" width="1.10" height="1.1" fill="#4a81b7"/>
<rect x="12" y="1" width="1.10" height="1.1" fill="#fdddd1"/>
<rect x="13" y="1" width="1.10" height="1.1" fill="#f8c3b3"/>
<rect x="14" y="1" width="2.10" height="1.1" fill="#fdddd1"/>
<rect x="16" y="1" width="1.10" height="1.1" fill="#faeae4"/>
<rect x="17" y="1" width="1.10" height="1.1" fill="#f7f6f6"/>
<rect x="18" y="1" width="2.10" height="1.1" fill="#d7e6f0"/>
<rect x="20" y="1" width="1.10" height="1.1" fill="#f3a996"/>
<rect x="21" y="1" width="1.10" height="1.1" fill="#fdddd1"/>
<rect x="22" y="1" width="1.10" height="1.1" fill="#faeae4"/>
<rect x="23" y="1" width="1.10" height="1.1" fill="#fdddd1"/>
<rect x="24" y="1" width="1.10" height="1.1" fill="#e7eff4"/>
<rect x="25" y="1" width="2.10" height="1.1" fill="#f7f6f6"/>
<rect x="-1" y="2" width="7.10" height="1.1" fill="#f7f6f6"/>
<rect x="6" y="2" width="1.10" height="1.1" fill="#d7e6f0"/>
<rect x="7" y="2" width="1.10" height="1.1" fill="#7eafd1"/>
<rect x="8" y="2" width="1.10" height="1.1" fill="#bbd6e7"/>
<rect x="9" y="2" width="1.10" height="1.1" fill="#9ec5dd"/>
<rect x="10" y="2" width="2.10" height="1.1" fill="#5a96c3"/>
<rect x="12" y="2" width="1.10" height="1.1" fill="#fdddd1"/>
<rect x="13" y="2" width="1.10" height="1.1" fill="#f8c3b3"/>
<rect x="14" y="2" width="2.10" height="1.1" fill="#fdddd1"/>
<rect x="16" y="2" width="1.10" height="1.1" fill="#faeae4"/>
<rect x="17" y="2" width="1.10" height="1.1" fill="#f7f6f6"/>
<rect x="18" y="2" width="1.10" height="1.1" fill="#d7e6f0"/>
<rect x="19" y="2" width="1.10" height="1.1" fill="#e7eff4"/>
<rect x="20" y="2" width="1.10" height="1.1" fill="#f3a996"/>
<rect x="21" y="2" width="1.10" height="1.1" fill="#fdddd1"/>
<rect x="22" y="2" width="1.10" height="1.1" fill="#faeae4"/>
<rect x="23" y="2" width="1.10" height="1.1" fill="#fdddd1"/>
<rect x="24" y="2" width="1.10" height="1.1" fill="#e7eff4"/>
<rect x="25" y="2" width="2.10" height="1.1" fill="#f7f6f6"/>
<rect x="-1" y="3" width="7.10" height="1.1" fill="#f7f6f6"/>
<rect x="6" y="3" width="1.10" height="1.1" fill="#5a96c3"/>
<rect x="7" y="3" width="1.10" height="1.1" fill="#396cab"/>
<rect x="8" y="3" width="1.10" height="1.1" fill="#bbd6e7"/>
<rect x="9" y="3" width="1.10" height="1.1" fill="#4a81b7"/>
<rect x="10" y="3" width="2.10" height="1.1" fill="#5a96c3"/>
<rect x="12" y="3" width="1.10" height="1.1" fill="#fdddd1"/>
<rect x="13" y="3" width="1.10" height="1.1" fill="#f8c3b3"/>
<rect x="14" y="3" width="2.10" height="1.1" fill="#fdddd1"/>
<rect x="16" y="3" width="1.10" height="1.1" fill="#faeae4"/>
<rect x="17" y="3" width="1.10" height="1.1" fill="#f7f6f6"/>
<rect x="18" y="3" width="1.10" height="1.1" fill="#d7e6f0"/>
<rect x="19" y="3" width="1.10" height="1.1" fill="#e7eff4"/>
<rect x="20" y="3" width="1.10" height="1.1" fill="#d66a66"/>
<rect x="21" y="3" width="1.10" height="1.1" fill="#b1334f"/>
<rect x="22" y="3" width="1.10" height="1.1" fill="#faeae4"/>
<rect x="23" y="3" width="1.10" height="1.1" fill="#fdddd1"/>
<rect x="24" y="3" width="3.10" height="1.1" fill="#faeae4"/>
<rect x="-1" y="4" width="7.10" height="1.1" fill="#f7f6f6"/>
<rect x="6" y="4" width="1.10" height="1.1" fill="#5a96c3"/>
<rect x="7" y="4" width="1.10" height="1.1" fill="#396cab"/>
<rect x="8" y="4" width="2.10" height="1.1" fill="#4a81b7"/>
<rect x="10" y="4" width="1.10" height="1.1" fill="#7eafd1"/>
<rect x="11" y="4" width="1.10" height="1.1" fill="#5a96c3"/>
<rect x="12" y="4" width="2.10" height="1.1" fill="#fdddd1"/>
<rect x="14" y="4" width="1.10" height="1.1" fill="#f8c3b3"/>
<rect x="15" y="4" width="1.10" height="1.1" fill="#fdddd1"/>
<rect x="16" y="4" width="1.10" height="1.1" fill="#faeae4"/>
<rect x="17" y="4" width="1.10" height="1.1" fill="#f7f6f6"/>
<rect x="18" y="4" width="1.10" height="1.1" fill="#d7e6f0"/>
<rect x="19" y="4" width="1.10" height="1.1" fill="#e7eff4"/>
<rect x="20" y="4" width="1.10" height="1.1" fill="#d66a66"/>
<rect x="21" y="4" width="1.10" height="1.1" fill="#b1334f"/>
<rect x="22" y="4" width="1.10" height="1.1" fill="#f8c3b3"/>
<rect x="23" y="4" width="1.10" height="1.1" fill="#fdddd1"/>
<rect x="24" y="4" width="3.10" height="1.1" fill="#faeae4"/>
<rect x="-1" y="5" width="6.10" height="1.1" fill="#f7f6f6"/>
<rect x="5" y="5" width="1.10" height="1.1" fill="#fdddd1"/>
<rect x="6" y="5" width="1.10" height="1.1" fill="#5a96c3"/>
<rect x="7" y="5" width="2.10" height="1.1" fill="#396cab"/>
<rect x="9" y="5" width="1.10" height="1.1" fill="#4a81b7"/>
<rect x="10" y="5" width="1.10" height="1.1" fill="#7eafd1"/>
<rect x="11" y="5" width="1.10" height="1.1" fill="#5a96c3"/>
<rect x="12" y="5" width="1.10" height="1.1" fill="#f8c3b3"/>
<rect x="13" y="5" width="1.10" height="1.1" fill="#fdddd1"/>
<rect x="14" y="5" width="1.10" height="1.1" fill="#f8c3b3"/>
<rect x="15" y="5" width="1.10" height="1.1" fill="#fdddd1"/>
<rect x="16" y="5" width="1.10" height="1.1" fill="#faeae4"/>
<rect x="17" y="5" width="1.10" height="1.1" fill="#f7f6f6"/>
<rect x="18" y="5" width="1.10" height="1.1" fill="#d7e6f0"/>
<rect x="19" y="5" width="1.10" height="1.1" fill="#e7eff4"/>
<rect x="20" y="5" width="1.10" height="1.1" fill="#d66a66"/>
<rect x="21" y="5" width="1.10" height="1.1" fill="#b1334f"/>
<rect x="22" y="5" width="1.10" height="1.1" fill="#f8c3b3"/>
<rect x="23" y="5" width="1.10" height="1.1" fill="#fdddd1"/>
<rect x="24" y="5" width="3.10" height="1.1" fill="#faeae4"/>
<rect x="-1" y="6" width="4.10" height="1.1" fill="#f7f6f6"/>
<rect x="3" y="6" width="2.10" height="1.1" fill="#e7eff4"/>
<rect x="5" y="6" width="1.10" height="1.1" fill="#fdddd1"/>
<rect x="6" y="6" width="1.10" height="1.1" fill="#4a81b7"/>
<rect x="7" y="6" width="1.10" height="1.1" fill="#396cab"/>
<rect x="8" y="6" width="1.10" height="1.1" fill="#274f84"/>
<rect x="9" y="6" width="1.10" height="1.1" fill="#5a96c3"/>
<rect x="10" y="6" width="1.10" height="1.1" fill="#396cab"/>
<rect x="11" y="6" width="1.10" height="1.1" fill="#5a96c3"/>
<rect x="12" y="6" width="1.10" height="1.1" fill="#f8c3b3"/>
<rect x="13" y="6" width="3.10" height="1.1" fill="#fdddd1"/>
<rect x="16" y="6" width="1.10" height="1.1" fill="#faeae4"/>
<rect x="17" y="6" width="1.10" height="1.1" fill="#f7f6f6"/>
<rect x="18" y="6" width="1.10" height="1.1" fill="#d7e6f0"/>
<rect x="19" y="6" width="1.10" height="1.1" fill="#e7eff4"/>
<rect x="20" y="6" width="1.10" height="1.1" fill="#d66a66"/>
<rect x="21" y="6" width="1.10" height="1.1" fill="#f7f6f6"/>
<rect x="22" y="6" width="1.10" height="1.1" fill="#f3a996"/>
<rect x="23" y="6" width="4.10" height="1.1" fill="#faeae4"/>
<rect x="-1" y="7" width="4.10" height="1.1" fill="#f7f6f6"/>
<rect x="3" y="7" width="2.10" height="1.1" fill="#e7eff4"/>
<rect x="5" y="7" width="1.10" height="1.1" fill="#bbd6e7"/>
<rect x="6" y="7" width="1.10" height="1.1" fill="#5a96c3"/>
<rect x="7" y="7" width="2.10" height="1.1" fill="#396cab"/>
<rect x="9" y="7" width="1.10" height="1.1" fill="#7eafd1"/>
<rect x="10" y="7" width="1.10" height="1.1" fill="#396cab"/>
<rect x="11" y="7" width="1.10" height="1.1" fill="#5a96c3"/>
<rect x="12" y="7" width="1.10" height="1.1" fill="#fdddd1"/>
<rect x="13" y="7" width="1.10" height="1.1" fill="#faeae4"/>
<rect x="14" y="7" width="2.10" height="1.1" fill="#fdddd1"/>
<rect x="16" y="7" width="1.10" height="1.1" fill="#faeae4"/>
<rect x="17" y="7" width="1.10" height="1.1" fill="#f7f6f6"/>
<rect x="18" y="7" width="1.10" height="1.1" fill="#d7e6f0"/>
<rect x="19" y="7" width="1.10" height="1.1" fill="#e7eff4"/>
<rect x="20" y="7" width="1.10" height="1.1" fill="#d66a66"/>
<rect x="21" y="7" width="1.10" height="1.1" fill="#f7f6f6"/>
<rect x="22" y="7" width="1.10" height="1.1" fill="#f3a996"/>
<rect x="23" y="7" width="1.10" height="1.1" fill="#faeae4"/>
<rect x="24" y="7" width="1.10" height="1.1" fill="#e7eff4"/>
<rect x="25" y="7" width="2.10" height="1.1" fill="#bbd6e7"/>
<rect x="-1" y="8" width="4.10" height="1.1" fill="#f7f6f6"/>
<rect x="3" y="8" width="3.10" height="1.1" fill="#e7eff4"/>
<rect x="6" y="8" width="1.10" height="1.1" fill="#4a81b7"/>
<rect x="7" y="8" width="1.10" height="1.1" fill="#396cab"/>
<rect x="8" y="8" width="1.10" height="1.1" fill="#5a96c3"/>
<rect x="9" y="8" width="1.10" height="1.1" fill="#9ec5dd"/>
<rect x="10" y="8" width="1.10" height="1.1" fill="#396cab"/>
<rect x="11" y="8" width="1.10" height="1.1" fill="#5a96c3"/>
<rect x="12" y="8" width="1.10" height="1.1" fill="#fdddd1"/>
<rect x="13" y="8" width="1.10" height="1.1" fill="#faeae4"/>
<rect x="14" y="8" width="2.10" height="1.1" fill="#fdddd1"/>
<rect x="16" y="8" width="1.10" height="1.1" fill="#faeae4"/>
<rect x="17" y="8" width="1.10" height="1.1" fill="#e7eff4"/>
<rect x="18" y="8" width="1.10" height="1.1" fill="#d7e6f0"/>
<rect x="19" y="8" width="1.10" height="1.1" fill="#e7eff4"/>
<rect x="20" y="8" width="1.10" height="1.1" fill="#d66a66"/>
<rect x="21" y="8" width="1.10" height="1.1" fill="#f7f6f6"/>
<rect x="22" y="8" width="1.10" height="1.1" fill="#f3a996"/>
<rect x="23" y="8" width="1.10" height="1.1" fill="#faeae4"/>
<rect x="24" y="8" width="1.10" height="1.1" fill="#e7eff4"/>
<rect x="25" y="8" width="2.10" height="1.1" fill="#bbd6e7"/>
<rect x="-1" y="9" width="4.10" height="1.1" fill="#f7f6f6"/>
<rect x="3" y="9" width="3.10" height="1.1" fill="#e7eff4"/>
<rect x="6" y="9" width="1.10" height="1.1" fill="#5a96c3"/>
<rect x="7" y="9" width="1.10" height="1.1" fill="#396cab"/>
<rect x="8" y="9" width="1.10" height="1.1" fill="#4a81b7"/>
<rect x="9" y="9" width="1.10" height="1.1" fill="#5a96c3"/>
<rect x="10" y="9" width="1.10" height="1.1" fill="#274f84"/>
<rect x="11" y="9" width="1.10" height="1.1" fill="#5a96c3"/>
<rect x="12" y="9" width="1.10" height="1.1" fill="#fdddd1"/>
<rect x="13" y="9" width="1.10" height="1.1" fill="#faeae4"/>
<rect x="14" y="9" width="1.10" height="1.1" fill="#fdddd1"/>
<rect x="15" y="9" width="2.10" height="1.1" fill="#faeae4"/>
<rect x="17" y="9" width="1.10" height="1.1" fill="#e7eff4"/>
<rect x="18" y="9" width="1.10" height="1.1" fill="#d7e6f0"/>
<rect x="19" y="9" width="1.10" height="1.1" fill="#e7eff4"/>
<rect x="20" y="9" width="1.10" height="1.1" fill="#d66a66"/>
<rect x="21" y="9" width="2.10" height="1.1" fill="#f3a996"/>
<rect x="23" y="9" width="1.10" height="1.1" fill="#faeae4"/>
<rect x="24" y="9" width="1.10" height="1.1" fill="#e7eff4"/>
<rect x="25" y="9" width="2.10" height="1.1" fill="#bbd6e7"/>
<rect x="-1" y="10" width="4.10" height="1.1" fill="#f7f6f6"/>
<rect x="3" y="10" width="3.10" height="1.1" fill="#e7eff4"/>
<rect x="6" y="10" width="1.10" height="1.1" fill="#5a96c3"/>
<rect x="7" y="10" width="1.10" height="1.1" fill="#396cab"/>
<rect x="8" y="10" width="1.10" height="1.1" fill="#fdddd1"/>
<rect x="9" y="10" width="1.10" height="1.1" fill="#5a96c3"/>
<rect x="10" y="10" width="1.10" height="1.1" fill="#396cab"/>
<rect x="11" y="10" width="1.10" height="1.1" fill="#5a96c3"/>
<rect x="12" y="10" width="1.10" height="1.1" fill="#fdddd1"/>
<rect x="13" y="10" width="1.10" height="1.1" fill="#faeae4"/>
<rect x="14" y="10" width="1.10" height="1.1" fill="#fdddd1"/>
<rect x="15" y="10" width="2.10" height="1.1" fill="#faeae4"/>
<rect x="17" y="10" width="1.10" height="1.1" fill="#e7eff4"/>
<rect x="18" y="10" width="1.10" height="1.1" fill="#5a96c3"/>
<rect x="19" y="10" width="1.10" height="1.1" fill="#e7eff4"/>
<rect x="20" y="10" width="1.10" height="1.1" fill="#fdddd1"/>
<rect x="21" y="10" width="1.10" height="1.1" fill="#f3a996"/>
<rect x="22" y="10" width="1.10" height="1.1" fill="#faeae4"/>
<rect x="23" y="10" width="1.10" height="1.1" fill="#7eafd1"/>
<rect x="24" y="10" width="3.10" height="1.1" fill="#5a96c3"/>
<rect x="-1" y="11" width="2.10" height="1.1" fill="#f7f6f6"/>
<rect x="1" y="11" width="2.10" height="1.1" fill="#fdddd1"/>
<rect x="3" y="11" width="3.10" height="1.1" fill="#e7eff4"/>
<rect x="6" y="11" width="1.10" height="1.1" fill="#7eafd1"/>
<rect x="7" y="11" width="1.10" height="1.1" fill="#274f84"/>
<rect x="8" y="11" width="1.10" height="1.1" fill="#fdddd1"/>
<rect x="9" y="11" width="1.10" height="1.1" fill="#5a96c3"/>
<rect x="10" y="11" width="1.10" height="1.1" fill="#396cab"/>
<rect x="11" y="11" width="1.10" height="1.1" fill="#5a96c3"/>
<rect x="12" y="11" width="5.10" height="1.1" fill="#faeae4"/>
<rect x="17" y="11" width="1.10" height="1.1" fill="#e7eff4"/>
<rect x="18" y="11" width="1.10" height="1.1" fill="#5a96c3"/>
<rect x="19" y="11" width="1.10" height="1.1" fill="#e7eff4"/>
<rect x="20" y="11" width="1.10" height="1.1" fill="#fdddd1"/>
<rect x="21" y="11" width="1.10" height="1.1" fill="#f3a996"/>
<rect x="22" y="11" width="1.10" height="1.1" fill="#faeae4"/>
<rect x="23" y="11" width="1.10" height="1.1" fill="#7eafd1"/>
<rect x="24" y="11" width="3.10" height="1.1" fill="#5a96c3"/>
<rect x="-1" y="12" width="2.10" height="1.1" fill="#f7f6f6"/>
<rect x="1" y="12" width="2.10" height="1.1" fill="#fdddd1"/>
<rect x="3" y="12" width="3.10" height="1.1" fill="#e7eff4"/>
<rect x="6" y="12" width="1.10" height="1.1" fill="#5a96c3"/>
<rect x="7" y="12" width="1.10" height="1.1" fill="#274f84"/>
<rect x="8" y="12" width="1.10" height="1.1" fill="#f7f6f6"/>
<rect x="9" y="12" width="1.10" height="1.1" fill="#396cab"/>
<rect x="10" y="12" width="1.10" height="1.1" fill="#274f84"/>
<rect x="11" y="12" width="1.10" height="1.1" fill="#5a96c3"/>
<rect x="12" y="12" width="1.10" height="1.1" fill="#f3a996"/>
<rect x="13" y="12" width="4.10" height="1.1" fill="#faeae4"/>
<rect x="17" y="12" width="1.10" height="1.1" fill="#e7eff4"/>
<rect x="18" y="12" width="1.10" height="1.1" fill="#5a96c3"/>
<rect x="19" y="12" width="1.10" height="1.1" fill="#d7e6f0"/>
<rect x="20" y="12" width="1.10" height="1.1" fill="#396cab"/>
<rect x="21" y="12" width="1.10" height="1.1" fill="#4a81b7"/>
<rect x="22" y="12" width="1.10" height="1.1" fill="#faeae4"/>
<rect x="23" y="12" width="1.10" height="1.1" fill="#7eafd1"/>
<rect x="24" y="12" width="1.10" height="1.1" fill="#396cab"/>
<rect x="25" y="12" width="2.10" height="1.1" fill="#4a81b7"/>
<rect x="-1" y="13" width="4.10" height="1.1" fill="#f7f6f6"/>
<rect x="3" y="13" width="3.10" height="1.1" fill="#e7eff4"/>
<rect x="6" y="13" width="1.10" height="1.1" fill="#7eafd1"/>
<rect x="7" y="13" width="1.10" height="1.1" fill="#274f84"/>
<rect x="8" y="13" width="1.10" height="1.1" fill="#f7f6f6"/>
<rect x="9" y="13" width="2.10" height="1.1" fill="#396cab"/>
<rect x="11" y="13" width="1.10" height="1.1" fill="#5a96c3"/>
<rect x="12" y="13" width="1.10" height="1.1" fill="#fdddd1"/>
<rect x="13" y="13" width="4.10" height="1.1" fill="#faeae4"/>
<rect x="17" y="13" width="1.10" height="1.1" fill="#e7eff4"/>
<rect x="18" y="13" width="1.10" height="1.1" fill="#5a96c3"/>
<rect x="19" y="13" width="1.10" height="1.1" fill="#d7e6f0"/>
<rect x="20" y="13" width="1.10" height="1.1" fill="#396cab"/>
<rect x="21" y="13" width="1.10" height="1.1" fill="#4a81b7"/>
<rect x="22" y="13" width="1.10" height="1.1" fill="#faeae4"/>
<rect x="23" y="13" width="1.10" height="1.1" fill="#7eafd1"/>
<rect x="24" y="13" width="3.10" height="1.1" fill="#5a96c3"/>
<rect x="-1" y="14" width="4.10" height="1.1" fill="#f7f6f6"/>
<rect x="3" y="14" width="3.10" height="1.1" fill="#e7eff4"/>
<rect x="6" y="14" width="1.10" height="1.1" fill="#7eafd1"/>
<rect x="7" y="14" width="1.10" height="1.1" fill="#274f84"/>
<rect x="8" y="14" width="1.10" height="1.1" fill="#f7f6f6"/>
<rect x="9" y="14" width="2.10" height="1.1" fill="#396cab"/>
<rect x="11" y="14" width="1.10" height="1.1" fill="#5a96c3"/>
<rect x="12" y="14" width="1.10" height="1.1" fill="#fdddd1"/>
<rect x="13" y="14" width="4.10" height="1.1" fill="#faeae4"/>
<rect x="17" y="14" width="1.10" height="1.1" fill="#e7eff4"/>
<rect x="18" y="14" width="1.10" height="1.1" fill="#5a96c3"/>
<rect x="19" y="14" width="1.10" height="1.1" fill="#d7e6f0"/>
<rect x="20" y="14" width="1.10" height="1.1" fill="#396cab"/>
<rect x="21" y="14" width="1.10" height="1.1" fill="#4a81b7"/>
<rect x="22" y="14" width="1.10" height="1.1" fill="#faeae4"/>
<rect x="23" y="14" width="1.10" height="1.1" fill="#7eafd1"/>
<rect x="24" y="14" width="3.10" height="1.1" fill="#5a96c3"/>
</g></g></g>
<g stroke="#a8a8a8" stroke-width="0.45" opacity="0.4">
<line x1="40.15" y1="188.90" x2="40.15" y2="259.70"/>
<line x1="53.10" y1="188.90" x2="53.10" y2="259.70"/>
<line x1="66.05" y1="188.90" x2="66.05" y2="259.70"/>
<line x1="79.00" y1="188.90" x2="79.00" y2="259.70"/>
<line x1="91.95" y1="188.90" x2="91.95" y2="259.70"/>
<line x1="104.90" y1="188.90" x2="104.90" y2="259.70"/>
<line x1="117.85" y1="188.90" x2="117.85" y2="259.70"/>
<line x1="130.80" y1="188.90" x2="130.80" y2="259.70"/>
<line x1="143.75" y1="188.90" x2="143.75" y2="259.70"/>
<line x1="156.70" y1="188.90" x2="156.70" y2="259.70"/>
<line x1="27.20" y1="242.00" x2="157.70" y2="242.00"/>
<line x1="27.20" y1="224.30" x2="157.70" y2="224.30"/>
<line x1="27.20" y1="206.60" x2="157.70" y2="206.60"/>
</g>
<g clip-path="url(#c02)" fill="none" stroke-width="1.25">
</g>
<line x1="66.20" y1="188.90" x2="66.20" y2="259.70" stroke="#222" stroke-width="0.7" stroke-dasharray="1.2,1"/>
<line x1="79.20" y1="188.90" x2="79.20" y2="259.70" stroke="#222" stroke-width="0.7" stroke-dasharray="1.2,1"/>
<line x1="118.30" y1="188.90" x2="118.30" y2="259.70" stroke="#222" stroke-width="0.7" stroke-dasharray="1.2,1"/>
<line x1="124.50" y1="188.90" x2="124.50" y2="259.70" stroke="#222" stroke-width="0.7" stroke-dasharray="1.2,1"/>
<rect x="27.20" y="188.90" width="130.50" height="70.80" fill="none" stroke="#555" stroke-width="0.8"/>
<line x1="27.20" y1="259.70" x2="27.20" y2="261.90" stroke="#444" stroke-width="0.7"/>
<line x1="40.15" y1="259.70" x2="40.15" y2="261.90" stroke="#444" stroke-width="0.7"/>
<line x1="53.10" y1="259.70" x2="53.10" y2="261.90" stroke="#444" stroke-width="0.7"/>
<line x1="66.05" y1="259.70" x2="66.05" y2="261.90" stroke="#444" stroke-width="0.7"/>
<line x1="79.00" y1="259.70" x2="79.00" y2="261.90" stroke="#444" stroke-width="0.7"/>
<line x1="91.95" y1="259.70" x2="91.95" y2="261.90" stroke="#444" stroke-width="0.7"/>
<line x1="104.90" y1="259.70" x2="104.90" y2="261.90" stroke="#444" stroke-width="0.7"/>
<line x1="117.85" y1="259.70" x2="117.85" y2="261.90" stroke="#444" stroke-width="0.7"/>
<line x1="130.80" y1="259.70" x2="130.80" y2="261.90" stroke="#444" stroke-width="0.7"/>
<line x1="143.75" y1="259.70" x2="143.75" y2="261.90" stroke="#444" stroke-width="0.7"/>
<line x1="156.70" y1="259.70" x2="156.70" y2="261.90" stroke="#444" stroke-width="0.7"/>
<line x1="25.00" y1="259.70" x2="27.20" y2="259.70" stroke="#444" stroke-width="0.7"/>
<text x="23.60" y="261.60" font-size="5.4" fill="#333" text-anchor="end">0</text>
<line x1="25.00" y1="242.00" x2="27.20" y2="242.00" stroke="#444" stroke-width="0.7"/>
<text x="23.60" y="243.90" font-size="5.4" fill="#333" text-anchor="end">1000</text>
<line x1="25.00" y1="224.30" x2="27.20" y2="224.30" stroke="#444" stroke-width="0.7"/>
<text x="23.60" y="226.20" font-size="5.4" fill="#333" text-anchor="end">2000</text>
<line x1="25.00" y1="206.60" x2="27.20" y2="206.60" stroke="#444" stroke-width="0.7"/>
<text x="23.60" y="208.50" font-size="5.4" fill="#333" text-anchor="end">3000</text>
<line x1="25.00" y1="188.90" x2="27.20" y2="188.90" stroke="#444" stroke-width="0.7"/>
<text x="23.60" y="190.80" font-size="5.4" fill="#333" text-anchor="end">4000</text>
<g clip-path="url(#c10)"><g filter="url(#bld)"><g transform="translate(185.90,19.60) scale(5.0231,5.0500)">
<rect x="-1" y="-1" width="3.10" height="1.1" fill="#493b95"/>
<rect x="2" y="-1" width="1.10" height="1.1" fill="#4549a4"/>
<rect x="3" y="-1" width="1.10" height="1.1" fill="#5066b3"/>
<rect x="4" y="-1" width="2.10" height="1.1" fill="#6683c2"/>
<rect x="6" y="-1" width="1.10" height="1.1" fill="#7da0d1"/>
<rect x="7" y="-1" width="2.10" height="1.1" fill="#b0cfe9"/>
<rect x="9" y="-1" width="2.10" height="1.1" fill="#c9dff0"/>
<rect x="11" y="-1" width="1.10" height="1.1" fill="#e2eff8"/>
<rect x="12" y="-1" width="1.10" height="1.1" fill="#f1f9de"/>
<rect x="13" y="-1" width="4.10" height="1.1" fill="#fffec5"/>
<rect x="17" y="-1" width="1.10" height="1.1" fill="#f1f9de"/>
<rect x="18" y="-1" width="9.10" height="1.1" fill="#c9dff0"/>
<rect x="-1" y="0" width="3.10" height="1.1" fill="#493b95"/>
<rect x="2" y="0" width="1.10" height="1.1" fill="#4549a4"/>
<rect x="3" y="0" width="1.10" height="1.1" fill="#5066b3"/>
<rect x="4" y="0" width="2.10" height="1.1" fill="#6683c2"/>
<rect x="6" y="0" width="1.10" height="1.1" fill="#7da0d1"/>
<rect x="7" y="0" width="2.10" height="1.1" fill="#b0cfe9"/>
<rect x="9" y="0" width="2.10" height="1.1" fill="#c9dff0"/>
<rect x="11" y="0" width="1.10" height="1.1" fill="#e2eff8"/>
<rect x="12" y="0" width="1.10" height="1.1" fill="#f1f9de"/>
<rect x="13" y="0" width="4.10" height="1.1" fill="#fffec5"/>
<rect x="17" y="0" width="1.10" height="1.1" fill="#f1f9de"/>
<rect x="18" y="0" width="9.10" height="1.1" fill="#c9dff0"/>
<rect x="-1" y="1" width="3.10" height="1.1" fill="#4549a4"/>
<rect x="2" y="1" width="1.10" height="1.1" fill="#5066b3"/>
<rect x="3" y="1" width="2.10" height="1.1" fill="#6683c2"/>
<rect x="5" y="1" width="1.10" height="1.1" fill="#7da0d1"/>
<rect x="6" y="1" width="1.10" height="1.1" fill="#98b8dd"/>
<rect x="7" y="1" width="2.10" height="1.1" fill="#b0cfe9"/>
<rect x="9" y="1" width="2.10" height="1.1" fill="#c9dff0"/>
<rect x="11" y="1" width="1.10" height="1.1" fill="#e2eff8"/>
<rect x="12" y="1" width="1.10" height="1.1" fill="#f1f9de"/>
<rect x="13" y="1" width="2.10" height="1.1" fill="#fffec5"/>
<rect x="15" y="1" width="2.10" height="1.1" fill="#fff1b1"/>
<rect x="17" y="1" width="1.10" height="1.1" fill="#fffec5"/>
<rect x="18" y="1" width="1.10" height="1.1" fill="#e2eff8"/>
<rect x="19" y="1" width="8.10" height="1.1" fill="#c9dff0"/>
<rect x="-1" y="2" width="5.10" height="1.1" fill="#6683c2"/>
<rect x="4" y="2" width="2.10" height="1.1" fill="#7da0d1"/>
<rect x="6" y="2" width="1.10" height="1.1" fill="#98b8dd"/>
<rect x="7" y="2" width="1.10" height="1.1" fill="#b0cfe9"/>
<rect x="8" y="2" width="2.10" height="1.1" fill="#c9dff0"/>
<rect x="10" y="2" width="2.10" height="1.1" fill="#e2eff8"/>
<rect x="12" y="2" width="1.10" height="1.1" fill="#f1f9de"/>
<rect x="13" y="2" width="3.10" height="1.1" fill="#fff1b1"/>
<rect x="16" y="2" width="1.10" height="1.1" fill="#fee39b"/>
<rect x="17" y="2" width="1.10" height="1.1" fill="#fff1b1"/>
<rect x="18" y="2" width="1.10" height="1.1" fill="#f1f9de"/>
<rect x="19" y="2" width="8.10" height="1.1" fill="#e2eff8"/>
<rect x="-1" y="3" width="5.10" height="1.1" fill="#7da0d1"/>
<rect x="4" y="3" width="3.10" height="1.1" fill="#98b8dd"/>
<rect x="7" y="3" width="3.10" height="1.1" fill="#c9dff0"/>
<rect x="10" y="3" width="1.10" height="1.1" fill="#fffec5"/>
<rect x="11" y="3" width="3.10" height="1.1" fill="#fff1b1"/>
<rect x="14" y="3" width="2.10" height="1.1" fill="#fee39b"/>
<rect x="16" y="3" width="1.10" height="1.1" fill="#fdc485"/>
<rect x="17" y="3" width="1.10" height="1.1" fill="#fee39b"/>
<rect x="18" y="3" width="1.10" height="1.1" fill="#fffec5"/>
<rect x="19" y="3" width="1.10" height="1.1" fill="#f1f9de"/>
<rect x="20" y="3" width="7.10" height="1.1" fill="#fffec5"/>
<rect x="-1" y="4" width="6.10" height="1.1" fill="#98b8dd"/>
<rect x="5" y="4" width="2.10" height="1.1" fill="#b0cfe9"/>
<rect x="7" y="4" width="3.10" height="1.1" fill="#c9dff0"/>
<rect x="10" y="4" width="1.10" height="1.1" fill="#fffec5"/>
<rect x="11" y="4" width="1.10" height="1.1" fill="#fff1b1"/>
<rect x="12" y="4" width="3.10" height="1.1" fill="#fee39b"/>
<rect x="15" y="4" width="2.10" height="1.1" fill="#fdc485"/>
<rect x="17" y="4" width="1.10" height="1.1" fill="#fee39b"/>
<rect x="18" y="4" width="9.10" height="1.1" fill="#fff1b1"/>
<rect x="-1" y="5" width="4.10" height="1.1" fill="#98b8dd"/>
<rect x="3" y="5" width="3.10" height="1.1" fill="#b0cfe9"/>
<rect x="6" y="5" width="3.10" height="1.1" fill="#c9dff0"/>
<rect x="9" y="5" width="1.10" height="1.1" fill="#e2eff8"/>
<rect x="10" y="5" width="1.10" height="1.1" fill="#fff1b1"/>
<rect x="11" y="5" width="1.10" height="1.1" fill="#fee39b"/>
<rect x="12" y="5" width="1.10" height="1.1" fill="#fdc485"/>
<rect x="13" y="5" width="1.10" height="1.1" fill="#fee39b"/>
<rect x="14" y="5" width="2.10" height="1.1" fill="#fdc485"/>
<rect x="16" y="5" width="1.10" height="1.1" fill="#fda170"/>
<rect x="17" y="5" width="1.10" height="1.1" fill="#fdc485"/>
<rect x="18" y="5" width="1.10" height="1.1" fill="#fff1b1"/>
<rect x="19" y="5" width="8.10" height="1.1" fill="#fee39b"/>
<rect x="-1" y="6" width="5.10" height="1.1" fill="#b0cfe9"/>
<rect x="4" y="6" width="4.10" height="1.1" fill="#c9dff0"/>
<rect x="8" y="6" width="1.10" height="1.1" fill="#e2eff8"/>
<rect x="9" y="6" width="1.10" height="1.1" fill="#f1f9de"/>
<rect x="10" y="6" width="1.10" height="1.1" fill="#fff1b1"/>
<rect x="11" y="6" width="1.10" height="1.1" fill="#fee39b"/>
<rect x="12" y="6" width="3.10" height="1.1" fill="#fdc485"/>
<rect x="15" y="6" width="2.10" height="1.1" fill="#fda170"/>
<rect x="17" y="6" width="1.10" height="1.1" fill="#fdc485"/>
<rect x="18" y="6" width="9.10" height="1.1" fill="#fee39b"/>
<rect x="-1" y="7" width="4.10" height="1.1" fill="#c9dff0"/>
<rect x="3" y="7" width="4.10" height="1.1" fill="#e2eff8"/>
<rect x="7" y="7" width="2.10" height="1.1" fill="#f1f9de"/>
<rect x="9" y="7" width="1.10" height="1.1" fill="#fffec5"/>
<rect x="10" y="7" width="1.10" height="1.1" fill="#fee39b"/>
<rect x="11" y="7" width="1.10" height="1.1" fill="#fdc485"/>
<rect x="12" y="7" width="1.10" height="1.1" fill="#fda170"/>
<rect x="13" y="7" width="1.10" height="1.1" fill="#fdc485"/>
<rect x="14" y="7" width="2.10" height="1.1" fill="#fda170"/>
<rect x="16" y="7" width="1.10" height="1.1" fill="#f87862"/>
<rect x="17" y="7" width="1.10" height="1.1" fill="#fda170"/>
<rect x="18" y="7" width="9.10" height="1.1" fill="#fdc485"/>
<rect x="-1" y="8" width="2.10" height="1.1" fill="#c9dff0"/>
<rect x="1" y="8" width="6.10" height="1.1" fill="#e2eff8"/>
<rect x="7" y="8" width="2.10" height="1.1" fill="#f1f9de"/>
<rect x="9" y="8" width="1.10" height="1.1" fill="#fff1b1"/>
<rect x="10" y="8" width="1.10" height="1.1" fill="#fee39b"/>
<rect x="11" y="8" width="1.10" height="1.1" fill="#fdc485"/>
<rect x="12" y="8" width="3.10" height="1.1" fill="#fda170"/>
<rect x="15" y="8" width="2.10" height="1.1" fill="#f87862"/>
<rect x="17" y="8" width="4.10" height="1.1" fill="#fda170"/>
<rect x="21" y="8" width="6.10" height="1.1" fill="#fdc485"/>
<rect x="-1" y="9" width="2.10" height="1.1" fill="#c9dff0"/>
<rect x="1" y="9" width="6.10" height="1.1" fill="#e2eff8"/>
<rect x="7" y="9" width="2.10" height="1.1" fill="#f1f9de"/>
<rect x="9" y="9" width="1.10" height="1.1" fill="#fff1b1"/>
<rect x="10" y="9" width="1.10" height="1.1" fill="#fee39b"/>
<rect x="11" y="9" width="1.10" height="1.1" fill="#fdc485"/>
<rect x="12" y="9" width="2.10" height="1.1" fill="#fda170"/>
<rect x="14" y="9" width="2.10" height="1.1" fill="#f87862"/>
<rect x="16" y="9" width="1.10" height="1.1" fill="#f45b55"/>
<rect x="17" y="9" width="2.10" height="1.1" fill="#fda170"/>
<rect x="19" y="9" width="1.10" height="1.1" fill="#f87862"/>
<rect x="20" y="9" width="2.10" height="1.1" fill="#fda170"/>
<rect x="22" y="9" width="5.10" height="1.1" fill="#fdc485"/>
<rect x="-1" y="10" width="2.10" height="1.1" fill="#c9dff0"/>
<rect x="1" y="10" width="6.10" height="1.1" fill="#e2eff8"/>
<rect x="7" y="10" width="2.10" height="1.1" fill="#f1f9de"/>
<rect x="9" y="10" width="1.10" height="1.1" fill="#fff1b1"/>
<rect x="10" y="10" width="1.10" height="1.1" fill="#fee39b"/>
<rect x="11" y="10" width="1.10" height="1.1" fill="#fdc485"/>
<rect x="12" y="10" width="1.10" height="1.1" fill="#f87862"/>
<rect x="13" y="10" width="1.10" height="1.1" fill="#fda170"/>
<rect x="14" y="10" width="1.10" height="1.1" fill="#f87862"/>
<rect x="15" y="10" width="1.10" height="1.1" fill="#f45b55"/>
<rect x="16" y="10" width="1.10" height="1.1" fill="#e5464f"/>
<rect x="17" y="10" width="2.10" height="1.1" fill="#f87862"/>
<rect x="19" y="10" width="1.10" height="1.1" fill="#f45b55"/>
<rect x="20" y="10" width="4.10" height="1.1" fill="#fda170"/>
<rect x="24" y="10" width="3.10" height="1.1" fill="#fdc485"/>
<rect x="-1" y="11" width="2.10" height="1.1" fill="#c9dff0"/>
<rect x="1" y="11" width="6.10" height="1.1" fill="#e2eff8"/>
<rect x="7" y="11" width="2.10" height="1.1" fill="#f1f9de"/>
<rect x="9" y="11" width="1.10" height="1.1" fill="#fff1b1"/>
<rect x="10" y="11" width="1.10" height="1.1" fill="#fee39b"/>
<rect x="11" y="11" width="1.10" height="1.1" fill="#fdc485"/>
<rect x="12" y="11" width="3.10" height="1.1" fill="#f87862"/>
<rect x="15" y="11" width="1.10" height="1.1" fill="#f45b55"/>
<rect x="16" y="11" width="1.10" height="1.1" fill="#e5464f"/>
<rect x="17" y="11" width="2.10" height="1.1" fill="#f87862"/>
<rect x="19" y="11" width="1.10" height="1.1" fill="#f45b55"/>
<rect x="20" y="11" width="2.10" height="1.1" fill="#fdc485"/>
<rect x="22" y="11" width="1.10" height="1.1" fill="#fda170"/>
<rect x="23" y="11" width="4.10" height="1.1" fill="#fdc485"/>
<rect x="-1" y="12" width="5.10" height="1.1" fill="#c9dff0"/>
<rect x="4" y="12" width="3.10" height="1.1" fill="#e2eff8"/>
<rect x="7" y="12" width="1.10" height="1.1" fill="#fffec5"/>
<rect x="8" y="12" width="2.10" height="1.1" fill="#fff1b1"/>
<rect x="10" y="12" width="1.10" height="1.1" fill="#fee39b"/>
<rect x="11" y="12" width="1.10" height="1.1" fill="#fdc485"/>
<rect x="12" y="12" width="1.10" height="1.1" fill="#f45b55"/>
<rect x="13" y="12" width="1.10" height="1.1" fill="#f87862"/>
<rect x="14" y="12" width="2.10" height="1.1" fill="#f45b55"/>
<rect x="16" y="12" width="1.10" height="1.1" fill="#e5464f"/>
<rect x="17" y="12" width="2.10" height="1.1" fill="#f87862"/>
<rect x="19" y="12" width="1.10" height="1.1" fill="#f45b55"/>
<rect x="20" y="12" width="2.10" height="1.1" fill="#fee39b"/>
<rect x="22" y="12" width="2.10" height="1.1" fill="#fdc485"/>
<rect x="24" y="12" width="3.10" height="1.1" fill="#fee39b"/>
<rect x="-1" y="13" width="5.10" height="1.1" fill="#b0cfe9"/>
<rect x="4" y="13" width="2.10" height="1.1" fill="#c9dff0"/>
<rect x="6" y="13" width="1.10" height="1.1" fill="#e2eff8"/>
<rect x="7" y="13" width="1.10" height="1.1" fill="#fffec5"/>
<rect x="8" y="13" width="2.10" height="1.1" fill="#fff1b1"/>
<rect x="10" y="13" width="1.10" height="1.1" fill="#fee39b"/>
<rect x="11" y="13" width="1.10" height="1.1" fill="#fdc485"/>
<rect x="12" y="13" width="1.10" height="1.1" fill="#f45b55"/>
<rect x="13" y="13" width="1.10" height="1.1" fill="#f87862"/>
<rect x="14" y="13" width="3.10" height="1.1" fill="#f45b55"/>
<rect x="17" y="13" width="3.10" height="1.1" fill="#f87862"/>
<rect x="20" y="13" width="1.10" height="1.1" fill="#fee39b"/>
<rect x="21" y="13" width="2.10" height="1.1" fill="#fff1b1"/>
<rect x="23" y="13" width="4.10" height="1.1" fill="#fee39b"/>
<rect x="-1" y="14" width="5.10" height="1.1" fill="#b0cfe9"/>
<rect x="4" y="14" width="2.10" height="1.1" fill="#c9dff0"/>
<rect x="6" y="14" width="1.10" height="1.1" fill="#e2eff8"/>
<rect x="7" y="14" width="1.10" height="1.1" fill="#fffec5"/>
<rect x="8" y="14" width="2.10" height="1.1" fill="#fff1b1"/>
<rect x="10" y="14" width="1.10" height="1.1" fill="#fee39b"/>
<rect x="11" y="14" width="1.10" height="1.1" fill="#fdc485"/>
<rect x="12" y="14" width="1.10" height="1.1" fill="#f45b55"/>
<rect x="13" y="14" width="1.10" height="1.1" fill="#f87862"/>
<rect x="14" y="14" width="3.10" height="1.1" fill="#f45b55"/>
<rect x="17" y="14" width="3.10" height="1.1" fill="#f87862"/>
<rect x="20" y="14" width="1.10" height="1.1" fill="#fee39b"/>
<rect x="21" y="14" width="2.10" height="1.1" fill="#fff1b1"/>
<rect x="23" y="14" width="4.10" height="1.1" fill="#fee39b"/>
</g></g></g>
<g stroke="#a8a8a8" stroke-width="0.45" opacity="0.4">
<line x1="196.20" y1="19.60" x2="196.20" y2="90.30"/>
<line x1="209.29" y1="19.60" x2="209.29" y2="90.30"/>
<line x1="222.38" y1="19.60" x2="222.38" y2="90.30"/>
<line x1="235.47" y1="19.60" x2="235.47" y2="90.30"/>
<line x1="248.56" y1="19.60" x2="248.56" y2="90.30"/>
<line x1="261.64" y1="19.60" x2="261.64" y2="90.30"/>
<line x1="274.73" y1="19.60" x2="274.73" y2="90.30"/>
<line x1="287.82" y1="19.60" x2="287.82" y2="90.30"/>
<line x1="300.91" y1="19.60" x2="300.91" y2="90.30"/>
<line x1="314.00" y1="19.60" x2="314.00" y2="90.30"/>
<line x1="185.90" y1="72.62" x2="316.50" y2="72.62"/>
<line x1="185.90" y1="54.95" x2="316.50" y2="54.95"/>
<line x1="185.90" y1="37.28" x2="316.50" y2="37.28"/>
</g>
<g clip-path="url(#c10)" fill="none" stroke-width="1.25">
<path d="M226.30,19.00 C226.63,20.30 227.43,24.85 228.30,26.80 C229.17,28.75 230.85,31.67 231.50,30.70 C232.15,29.73 232.12,22.95 232.20,21.00 C232.28,19.05 232.03,19.33 232.00,19.00" stroke="#e5322d" stroke-dasharray="2.2,1.2"/>
<path d="M227.60,91.00 C227.38,89.77 227.05,85.70 226.30,83.60 C225.55,81.50 223.85,81.00 223.10,78.40 C222.35,75.80 221.92,72.73 221.80,68.00 C221.68,63.27 222.30,54.92 222.40,50.00 C222.50,45.08 221.97,41.38 222.40,38.50 C222.83,35.62 224.13,33.35 225.00,32.70 C225.87,32.05 226.52,33.20 227.60,34.60 C228.68,36.00 230.30,39.37 231.50,41.10 C232.70,42.83 234.15,42.68 234.80,45.00 C235.45,47.32 235.30,51.17 235.40,55.00 C235.50,58.83 234.32,64.75 235.40,68.00 C236.48,71.25 239.95,71.68 241.90,74.50 C243.85,77.32 246.02,82.15 247.10,84.90 C248.18,87.65 248.18,89.98 248.40,91.00" stroke="#e5322d" stroke-dasharray="2.2,1.2"/>
<path d="M229.60,91.00 C229.48,89.98 229.67,87.00 228.90,84.90 C228.13,82.80 225.75,81.22 225.00,78.40 C224.25,75.58 224.50,71.90 224.40,68.00 C224.30,64.10 224.30,58.33 224.40,55.00 C224.50,51.67 224.57,50.10 225.00,48.00 C225.43,45.90 226.33,42.90 227.00,42.40 C227.67,41.90 228.35,42.90 229.00,45.00 C229.65,47.10 230.48,51.17 230.90,55.00 C231.32,58.83 230.75,64.75 231.50,68.00 C232.25,71.25 233.88,72.55 235.40,74.50 C236.92,76.45 239.30,76.95 240.60,79.70 C241.90,82.45 242.77,89.12 243.20,91.00" stroke="#e5322d"/>
<path d="M208.80,71.90 C210.32,71.90 213.30,77.10 213.30,79.70 C213.30,82.30 210.32,87.50 208.80,87.50 C207.28,87.50 204.20,82.30 204.20,79.70 C204.20,77.10 207.28,71.90 208.80,71.90 Z" stroke="#e5322d" stroke-dasharray="2.2,1.2"/>
<path d="M208.80,79.70 C209.45,79.70 210.70,81.43 210.70,82.30 C210.70,83.17 209.45,84.90 208.80,84.90 C208.15,84.90 206.80,83.17 206.80,82.30 C206.80,81.43 208.15,79.70 208.80,79.70 Z" stroke="#e5322d" stroke-dasharray="2.2,1.2"/>
<path d="M189.20,82.30 C190.28,82.30 192.50,84.42 192.50,85.50 C192.50,86.58 190.28,88.80 189.20,88.80 C188.12,88.80 186.00,86.58 186.00,85.50 C186.00,84.42 188.12,82.30 189.20,82.30 Z" stroke="#e5322d" stroke-dasharray="2.2,1.2"/>
<path d="M200.90,84.60 C203.28,84.60 208.10,86.38 208.10,87.30 C208.10,88.22 203.28,90.10 200.90,90.10 C198.52,90.10 193.80,88.22 193.80,87.30 C193.80,86.38 198.52,84.60 200.90,84.60 Z" stroke="#2a2ae6" stroke-dasharray="2.2,1.2"/>
<path d="M200.50,86.00 C201.67,86.00 204.00,87.00 204.00,87.50 C204.00,88.00 201.67,89.00 200.50,89.00 C199.33,89.00 197.00,88.00 197.00,87.50 C197.00,87.00 199.33,86.00 200.50,86.00 Z" stroke="#2a2ae6" stroke-dasharray="2.2,1.2"/>
<path d="M271.10,49.10 C271.98,49.10 273.80,55.63 273.80,58.90 C273.80,62.17 271.98,68.70 271.10,68.70 C270.22,68.70 268.50,62.17 268.50,58.90 C268.50,55.63 270.22,49.10 271.10,49.10 Z" stroke="#2a2ae6" stroke-dasharray="2.2,1.2"/>
<path d="M254.20,48.00 C254.67,48.00 255.60,49.72 255.60,50.60 C255.60,51.48 254.67,53.30 254.20,53.30 C253.73,53.30 252.80,51.48 252.80,50.60 C252.80,49.72 253.73,48.00 254.20,48.00 Z" stroke="#2a2ae6" stroke-dasharray="2.2,1.2"/>
<path d="M285.60,23.60 C286.15,23.60 287.30,26.47 287.30,27.90 C287.30,29.33 286.15,32.20 285.60,32.20 C285.05,32.20 284.00,29.33 284.00,27.90 C284.00,26.47 285.05,23.60 285.60,23.60 Z" stroke="#2a2ae6" stroke-dasharray="2.2,1.2"/>
<path d="M267.90,78.70 C268.88,78.70 270.80,80.90 270.80,82.00 C270.80,83.10 268.88,85.30 267.90,85.30 C266.92,85.30 264.90,83.10 264.90,82.00 C264.90,80.90 266.92,78.70 267.90,78.70 Z" stroke="#e5322d" stroke-dasharray="2.2,1.2"/>
<path d="M281.00,73.50 C281.55,73.50 282.70,76.18 282.70,77.50 C282.70,78.82 281.55,81.40 281.00,81.40 C280.45,81.40 279.40,78.82 279.40,77.50 C279.40,76.18 280.45,73.50 281.00,73.50 Z" stroke="#2a2ae6" stroke-dasharray="2.2,1.2"/>
<path d="M282.00,91.00 C282.33,90.93 283.23,92.53 284.00,90.60 C284.77,88.67 285.72,81.27 286.60,79.40 C287.48,77.53 287.98,78.85 289.30,79.40 C290.62,79.95 292.97,81.48 294.50,82.70 C296.03,83.92 297.40,85.82 298.50,86.70 C299.60,87.58 300.35,87.28 301.10,88.00 C301.85,88.72 302.68,90.50 303.00,91.00" stroke="#e5322d"/>
<path d="M294.50,66.90 C295.38,66.90 297.20,69.48 297.20,70.80 C297.20,72.12 295.38,74.80 294.50,74.80 C293.62,74.80 291.90,72.12 291.90,70.80 C291.90,69.48 293.62,66.90 294.50,66.90 Z" stroke="#e5322d" stroke-dasharray="2.2,1.2"/>
<path d="M305.40,69.50 C306.17,69.50 307.70,72.57 307.70,74.10 C307.70,75.63 306.17,78.70 305.40,78.70 C304.63,78.70 303.10,75.63 303.10,74.10 C303.10,72.57 304.63,69.50 305.40,69.50 Z" stroke="#e5322d" stroke-dasharray="2.2,1.2"/>
<path d="M312.00,66.00 C311.73,67.00 310.57,69.67 310.40,72.00 C310.23,74.33 310.57,77.55 311.00,80.00 C311.43,82.45 312.45,86.70 313.00,86.70 C313.55,86.70 314.05,82.78 314.30,80.00 C314.55,77.22 314.47,71.67 314.50,70.00" stroke="#2a2ae6" stroke-dasharray="2.2,1.2"/>
<path d="M305.10,84.00 C306.42,84.00 309.00,85.82 309.00,86.70 C309.00,87.58 306.42,89.30 305.10,89.30 C303.78,89.30 301.10,87.58 301.10,86.70 C301.10,85.82 303.78,84.00 305.10,84.00 Z" stroke="#2a2ae6" stroke-dasharray="2.2,1.2"/>
</g>
<line x1="222.80" y1="19.60" x2="222.80" y2="90.30" stroke="#222" stroke-width="0.7" stroke-dasharray="1.2,1"/>
<line x1="235.60" y1="19.60" x2="235.60" y2="90.30" stroke="#222" stroke-width="0.7" stroke-dasharray="1.2,1"/>
<line x1="275.10" y1="19.60" x2="275.10" y2="90.30" stroke="#222" stroke-width="0.7" stroke-dasharray="1.2,1"/>
<line x1="282.00" y1="19.60" x2="282.00" y2="90.30" stroke="#222" stroke-width="0.7" stroke-dasharray="1.2,1"/>
<rect x="185.90" y="19.60" width="130.60" height="70.70" fill="none" stroke="#555" stroke-width="0.8"/>
<line x1="196.20" y1="90.30" x2="196.20" y2="92.50" stroke="#444" stroke-width="0.7"/>
<line x1="209.29" y1="90.30" x2="209.29" y2="92.50" stroke="#444" stroke-width="0.7"/>
<line x1="222.38" y1="90.30" x2="222.38" y2="92.50" stroke="#444" stroke-width="0.7"/>
<line x1="235.47" y1="90.30" x2="235.47" y2="92.50" stroke="#444" stroke-width="0.7"/>
<line x1="248.56" y1="90.30" x2="248.56" y2="92.50" stroke="#444" stroke-width="0.7"/>
<line x1="261.64" y1="90.30" x2="261.64" y2="92.50" stroke="#444" stroke-width="0.7"/>
<line x1="274.73" y1="90.30" x2="274.73" y2="92.50" stroke="#444" stroke-width="0.7"/>
<line x1="287.82" y1="90.30" x2="287.82" y2="92.50" stroke="#444" stroke-width="0.7"/>
<line x1="300.91" y1="90.30" x2="300.91" y2="92.50" stroke="#444" stroke-width="0.7"/>
<line x1="314.00" y1="90.30" x2="314.00" y2="92.50" stroke="#444" stroke-width="0.7"/>
<line x1="183.70" y1="90.30" x2="185.90" y2="90.30" stroke="#444" stroke-width="0.7"/>
<line x1="183.70" y1="72.62" x2="185.90" y2="72.62" stroke="#444" stroke-width="0.7"/>
<line x1="183.70" y1="54.95" x2="185.90" y2="54.95" stroke="#444" stroke-width="0.7"/>
<line x1="183.70" y1="37.28" x2="185.90" y2="37.28" stroke="#444" stroke-width="0.7"/>
<line x1="183.70" y1="19.60" x2="185.90" y2="19.60" stroke="#444" stroke-width="0.7"/>
<g clip-path="url(#c11)"><g filter="url(#ble)"><g transform="translate(185.90,104.20) scale(5.0231,5.0500)">
<rect x="-1" y="-1" width="4.10" height="1.1" fill="#493b95"/>
<rect x="3" y="-1" width="1.10" height="1.1" fill="#4549a4"/>
<rect x="4" y="-1" width="1.10" height="1.1" fill="#5066b3"/>
<rect x="5" y="-1" width="2.10" height="1.1" fill="#6683c2"/>
<rect x="7" y="-1" width="1.10" height="1.1" fill="#7da0d1"/>
<rect x="8" y="-1" width="2.10" height="1.1" fill="#98b8dd"/>
<rect x="10" y="-1" width="1.10" height="1.1" fill="#b0cfe9"/>
<rect x="11" y="-1" width="2.10" height="1.1" fill="#c9dff0"/>
<rect x="13" y="-1" width="1.10" height="1.1" fill="#e2eff8"/>
<rect x="14" y="-1" width="1.10" height="1.1" fill="#f1f9de"/>
<rect x="15" y="-1" width="1.10" height="1.1" fill="#fff1b1"/>
<rect x="16" y="-1" width="1.10" height="1.1" fill="#fee39b"/>
<rect x="17" y="-1" width="1.10" height="1.1" fill="#f1f9de"/>
<rect x="18" y="-1" width="9.10" height="1.1" fill="#c9dff0"/>
<rect x="-1" y="0" width="4.10" height="1.1" fill="#493b95"/>
<rect x="3" y="0" width="1.10" height="1.1" fill="#4549a4"/>
<rect x="4" y="0" width="1.10" height="1.1" fill="#5066b3"/>
<rect x="5" y="0" width="2.10" height="1.1" fill="#6683c2"/>
<rect x="7" y="0" width="1.10" height="1.1" fill="#7da0d1"/>
<rect x="8" y="0" width="2.10" height="1.1" fill="#98b8dd"/>
<rect x="10" y="0" width="1.10" height="1.1" fill="#b0cfe9"/>
<rect x="11" y="0" width="2.10" height="1.1" fill="#c9dff0"/>
<rect x="13" y="0" width="1.10" height="1.1" fill="#e2eff8"/>
<rect x="14" y="0" width="1.10" height="1.1" fill="#f1f9de"/>
<rect x="15" y="0" width="1.10" height="1.1" fill="#fff1b1"/>
<rect x="16" y="0" width="1.10" height="1.1" fill="#fee39b"/>
<rect x="17" y="0" width="1.10" height="1.1" fill="#f1f9de"/>
<rect x="18" y="0" width="9.10" height="1.1" fill="#c9dff0"/>
<rect x="-1" y="1" width="3.10" height="1.1" fill="#493b95"/>
<rect x="2" y="1" width="2.10" height="1.1" fill="#4549a4"/>
<rect x="4" y="1" width="1.10" height="1.1" fill="#5066b3"/>
<rect x="5" y="1" width="2.10" height="1.1" fill="#6683c2"/>
<rect x="7" y="1" width="1.10" height="1.1" fill="#7da0d1"/>
<rect x="8" y="1" width="2.10" height="1.1" fill="#98b8dd"/>
<rect x="10" y="1" width="1.10" height="1.1" fill="#b0cfe9"/>
<rect x="11" y="1" width="2.10" height="1.1" fill="#c9dff0"/>
<rect x="13" y="1" width="2.10" height="1.1" fill="#f1f9de"/>
<rect x="15" y="1" width="1.10" height="1.1" fill="#fff1b1"/>
<rect x="16" y="1" width="1.10" height="1.1" fill="#fee39b"/>
<rect x="17" y="1" width="1.10" height="1.1" fill="#f1f9de"/>
<rect x="18" y="1" width="9.10" height="1.1" fill="#c9dff0"/>
<rect x="-1" y="2" width="5.10" height="1.1" fill="#6683c2"/>
<rect x="4" y="2" width="2.10" height="1.1" fill="#7da0d1"/>
<rect x="6" y="2" width="2.10" height="1.1" fill="#98b8dd"/>
<rect x="8" y="2" width="2.10" height="1.1" fill="#b0cfe9"/>
<rect x="10" y="2" width="1.10" height="1.1" fill="#c9dff0"/>
<rect x="11" y="2" width="2.10" height="1.1" fill="#e2eff8"/>
<rect x="13" y="2" width="2.10" height="1.1" fill="#fffec5"/>
<rect x="15" y="2" width="1.10" height="1.1" fill="#fee39b"/>
<rect x="16" y="2" width="1.10" height="1.1" fill="#fdc485"/>
<rect x="17" y="2" width="1.10" height="1.1" fill="#fff1b1"/>
<rect x="18" y="2" width="9.10" height="1.1" fill="#f1f9de"/>
<rect x="-1" y="3" width="3.10" height="1.1" fill="#6683c2"/>
<rect x="2" y="3" width="3.10" height="1.1" fill="#7da0d1"/>
<rect x="5" y="3" width="3.10" height="1.1" fill="#98b8dd"/>
<rect x="8" y="3" width="1.10" height="1.1" fill="#b0cfe9"/>
<rect x="9" y="3" width="2.10" height="1.1" fill="#c9dff0"/>
<rect x="11" y="3" width="2.10" height="1.1" fill="#e2eff8"/>
<rect x="13" y="3" width="2.10" height="1.1" fill="#fffec5"/>
<rect x="15" y="3" width="1.10" height="1.1" fill="#fee39b"/>
<rect x="16" y="3" width="1.10" height="1.1" fill="#fdc485"/>
<rect x="17" y="3" width="1.10" height="1.1" fill="#fff1b1"/>
<rect x="18" y="3" width="9.10" height="1.1" fill="#f1f9de"/>
<rect x="-1" y="4" width="6.10" height="1.1" fill="#98b8dd"/>
<rect x="5" y="4" width="2.10" height="1.1" fill="#b0cfe9"/>
<rect x="7" y="4" width="1.10" height="1.1" fill="#c9dff0"/>
<rect x="8" y="4" width="2.10" height="1.1" fill="#e2eff8"/>
<rect x="10" y="4" width="2.10" height="1.1" fill="#fffec5"/>
<rect x="12" y="4" width="1.10" height="1.1" fill="#fff1b1"/>
<rect x="13" y="4" width="2.10" height="1.1" fill="#fee39b"/>
<rect x="15" y="4" width="2.10" height="1.1" fill="#fda170"/>
<rect x="17" y="4" width="1.10" height="1.1" fill="#fdc485"/>
<rect x="18" y="4" width="1.10" height="1.1" fill="#fee39b"/>
<rect x="19" y="4" width="8.10" height="1.1" fill="#fff1b1"/>
<rect x="-1" y="5" width="3.10" height="1.1" fill="#98b8dd"/>
<rect x="2" y="5" width="4.10" height="1.1" fill="#b0cfe9"/>
<rect x="6" y="5" width="2.10" height="1.1" fill="#c9dff0"/>
<rect x="8" y="5" width="1.10" height="1.1" fill="#e2eff8"/>
<rect x="9" y="5" width="1.10" height="1.1" fill="#f1f9de"/>
<rect x="10" y="5" width="1.10" height="1.1" fill="#fffec5"/>
<rect x="11" y="5" width="2.10" height="1.1" fill="#fff1b1"/>
<rect x="13" y="5" width="2.10" height="1.1" fill="#fee39b"/>
<rect x="15" y="5" width="2.10" height="1.1" fill="#fda170"/>
<rect x="17" y="5" width="1.10" height="1.1" fill="#fdc485"/>
<rect x="18" y="5" width="1.10" height="1.1" fill="#fee39b"/>
<rect x="19" y="5" width="8.10" height="1.1" fill="#fff1b1"/>
<rect x="-1" y="6" width="6.10" height="1.1" fill="#b0cfe9"/>
<rect x="5" y="6" width="2.10" height="1.1" fill="#c9dff0"/>
<rect x="7" y="6" width="1.10" height="1.1" fill="#e2eff8"/>
<rect x="8" y="6" width="2.10" height="1.1" fill="#f1f9de"/>
<rect x="10" y="6" width="2.10" height="1.1" fill="#fff1b1"/>
<rect x="12" y="6" width="1.10" height="1.1" fill="#fee39b"/>
<rect x="13" y="6" width="2.10" height="1.1" fill="#fdc485"/>
<rect x="15" y="6" width="1.10" height="1.1" fill="#fda170"/>
<rect x="16" y="6" width="1.10" height="1.1" fill="#f87862"/>
<rect x="17" y="6" width="1.10" height="1.1" fill="#fdc485"/>
<rect x="18" y="6" width="9.10" height="1.1" fill="#fee39b"/>
<rect x="-1" y="7" width="6.10" height="1.1" fill="#c9dff0"/>
<rect x="5" y="7" width="2.10" height="1.1" fill="#e2eff8"/>
<rect x="7" y="7" width="1.10" height="1.1" fill="#f1f9de"/>
<rect x="8" y="7" width="2.10" height="1.1" fill="#fff1b1"/>
<rect x="10" y="7" width="3.10" height="1.1" fill="#fdc485"/>
<rect x="13" y="7" width="2.10" height="1.1" fill="#fda170"/>
<rect x="15" y="7" width="5.10" height="1.1" fill="#f87862"/>
<rect x="20" y="7" width="3.10" height="1.1" fill="#fda170"/>
<rect x="23" y="7" width="4.10" height="1.1" fill="#fdc485"/>
<rect x="-1" y="8" width="6.10" height="1.1" fill="#c9dff0"/>
<rect x="5" y="8" width="2.10" height="1.1" fill="#e2eff8"/>
<rect x="7" y="8" width="1.10" height="1.1" fill="#f1f9de"/>
<rect x="8" y="8" width="1.10" height="1.1" fill="#fff1b1"/>
<rect x="9" y="8" width="1.10" height="1.1" fill="#fee39b"/>
<rect x="10" y="8" width="2.10" height="1.1" fill="#fdc485"/>
<rect x="12" y="8" width="3.10" height="1.1" fill="#fda170"/>
<rect x="15" y="8" width="1.10" height="1.1" fill="#f87862"/>
<rect x="16" y="8" width="1.10" height="1.1" fill="#f45b55"/>
<rect x="17" y="8" width="3.10" height="1.1" fill="#f87862"/>
<rect x="20" y="8" width="3.10" height="1.1" fill="#fda170"/>
<rect x="23" y="8" width="4.10" height="1.1" fill="#fdc485"/>
<rect x="-1" y="9" width="3.10" height="1.1" fill="#c9dff0"/>
<rect x="2" y="9" width="4.10" height="1.1" fill="#e2eff8"/>
<rect x="6" y="9" width="1.10" height="1.1" fill="#f1f9de"/>
<rect x="7" y="9" width="1.10" height="1.1" fill="#fffec5"/>
<rect x="8" y="9" width="1.10" height="1.1" fill="#fff1b1"/>
<rect x="9" y="9" width="1.10" height="1.1" fill="#fee39b"/>
<rect x="10" y="9" width="1.10" height="1.1" fill="#fdc485"/>
<rect x="11" y="9" width="3.10" height="1.1" fill="#fda170"/>
<rect x="14" y="9" width="1.10" height="1.1" fill="#f87862"/>
<rect x="15" y="9" width="2.10" height="1.1" fill="#f45b55"/>
<rect x="17" y="9" width="4.10" height="1.1" fill="#f87862"/>
<rect x="21" y="9" width="3.10" height="1.1" fill="#fda170"/>
<rect x="24" y="9" width="3.10" height="1.1" fill="#fdc485"/>
<rect x="-1" y="10" width="3.10" height="1.1" fill="#c9dff0"/>
<rect x="2" y="10" width="3.10" height="1.1" fill="#e2eff8"/>
<rect x="5" y="10" width="1.10" height="1.1" fill="#f1f9de"/>
<rect x="6" y="10" width="2.10" height="1.1" fill="#fffec5"/>
<rect x="8" y="10" width="2.10" height="1.1" fill="#fee39b"/>
<rect x="10" y="10" width="2.10" height="1.1" fill="#fda170"/>
<rect x="12" y="10" width="1.10" height="1.1" fill="#f87862"/>
<rect x="13" y="10" width="1.10" height="1.1" fill="#fda170"/>
<rect x="14" y="10" width="1.10" height="1.1" fill="#f87862"/>
<rect x="15" y="10" width="1.10" height="1.1" fill="#f45b55"/>
<rect x="16" y="10" width="2.10" height="1.1" fill="#e5464f"/>
<rect x="18" y="10" width="1.10" height="1.1" fill="#f45b55"/>
<rect x="19" y="10" width="2.10" height="1.1" fill="#f87862"/>
<rect x="21" y="10" width="3.10" height="1.1" fill="#fda170"/>
<rect x="24" y="10" width="3.10" height="1.1" fill="#fdc485"/>
<rect x="-1" y="11" width="2.10" height="1.1" fill="#c9dff0"/>
<rect x="1" y="11" width="4.10" height="1.1" fill="#e2eff8"/>
<rect x="5" y="11" width="1.10" height="1.1" fill="#f1f9de"/>
<rect x="6" y="11" width="1.10" height="1.1" fill="#fffec5"/>
<rect x="7" y="11" width="1.10" height="1.1" fill="#fff1b1"/>
<rect x="8" y="11" width="2.10" height="1.1" fill="#fee39b"/>
<rect x="10" y="11" width="1.10" height="1.1" fill="#fda170"/>
<rect x="11" y="11" width="2.10" height="1.1" fill="#f87862"/>
<rect x="13" y="11" width="1.10" height="1.1" fill="#fda170"/>
<rect x="14" y="11" width="1.10" height="1.1" fill="#f87862"/>
<rect x="15" y="11" width="3.10" height="1.1" fill="#e5464f"/>
<rect x="18" y="11" width="1.10" height="1.1" fill="#f45b55"/>
<rect x="19" y="11" width="1.10" height="1.1" fill="#f87862"/>
<rect x="20" y="11" width="4.10" height="1.1" fill="#fda170"/>
<rect x="24" y="11" width="3.10" height="1.1" fill="#fdc485"/>
<rect x="-1" y="12" width="2.10" height="1.1" fill="#c9dff0"/>
<rect x="1" y="12" width="4.10" height="1.1" fill="#e2eff8"/>
<rect x="5" y="12" width="1.10" height="1.1" fill="#f1f9de"/>
<rect x="6" y="12" width="1.10" height="1.1" fill="#fffec5"/>
<rect x="7" y="12" width="1.10" height="1.1" fill="#fff1b1"/>
<rect x="8" y="12" width="1.10" height="1.1" fill="#fee39b"/>
<rect x="9" y="12" width="1.10" height="1.1" fill="#fdc485"/>
<rect x="10" y="12" width="1.10" height="1.1" fill="#fda170"/>
<rect x="11" y="12" width="2.10" height="1.1" fill="#f87862"/>
<rect x="13" y="12" width="1.10" height="1.1" fill="#fda170"/>
<rect x="14" y="12" width="1.10" height="1.1" fill="#f87862"/>
<rect x="15" y="12" width="1.10" height="1.1" fill="#e5464f"/>
<rect x="16" y="12" width="2.10" height="1.1" fill="#d63851"/>
<rect x="18" y="12" width="1.10" height="1.1" fill="#f45b55"/>
<rect x="19" y="12" width="1.10" height="1.1" fill="#f87862"/>
<rect x="20" y="12" width="1.10" height="1.1" fill="#fee39b"/>
<rect x="21" y="12" width="2.10" height="1.1" fill="#fff1b1"/>
<rect x="23" y="12" width="4.10" height="1.1" fill="#fdc485"/>
<rect x="-1" y="13" width="5.10" height="1.1" fill="#c9dff0"/>
<rect x="4" y="13" width="1.10" height="1.1" fill="#e2eff8"/>
<rect x="5" y="13" width="1.10" height="1.1" fill="#f1f9de"/>
<rect x="6" y="13" width="1.10" height="1.1" fill="#fffec5"/>
<rect x="7" y="13" width="1.10" height="1.1" fill="#fff1b1"/>
<rect x="8" y="13" width="1.10" height="1.1" fill="#fee39b"/>
<rect x="9" y="13" width="1.10" height="1.1" fill="#fdc485"/>
<rect x="10" y="13" width="1.10" height="1.1" fill="#fda170"/>
<rect x="11" y="13" width="2.10" height="1.1" fill="#f87862"/>
<rect x="13" y="13" width="1.10" height="1.1" fill="#fda170"/>
<rect x="14" y="13" width="1.10" height="1.1" fill="#f87862"/>
<rect x="15" y="13" width="1.10" height="1.1" fill="#e5464f"/>
<rect x="16" y="13" width="2.10" height="1.1" fill="#d63851"/>
<rect x="18" y="13" width="1.10" height="1.1" fill="#f45b55"/>
<rect x="19" y="13" width="1.10" height="1.1" fill="#f87862"/>
<rect x="20" y="13" width="1.10" height="1.1" fill="#fff1b1"/>
<rect x="21" y="13" width="2.10" height="1.1" fill="#fffec5"/>
<rect x="23" y="13" width="1.10" height="1.1" fill="#fee39b"/>
<rect x="24" y="13" width="3.10" height="1.1" fill="#fdc485"/>
<rect x="-1" y="14" width="5.10" height="1.1" fill="#c9dff0"/>
<rect x="4" y="14" width="1.10" height="1.1" fill="#e2eff8"/>
<rect x="5" y="14" width="1.10" height="1.1" fill="#f1f9de"/>
<rect x="6" y="14" width="1.10" height="1.1" fill="#fffec5"/>
<rect x="7" y="14" width="1.10" height="1.1" fill="#fff1b1"/>
<rect x="8" y="14" width="1.10" height="1.1" fill="#fee39b"/>
<rect x="9" y="14" width="1.10" height="1.1" fill="#fdc485"/>
<rect x="10" y="14" width="1.10" height="1.1" fill="#fda170"/>
<rect x="11" y="14" width="2.10" height="1.1" fill="#f87862"/>
<rect x="13" y="14" width="1.10" height="1.1" fill="#fda170"/>
<rect x="14" y="14" width="1.10" height="1.1" fill="#f87862"/>
<rect x="15" y="14" width="1.10" height="1.1" fill="#e5464f"/>
<rect x="16" y="14" width="2.10" height="1.1" fill="#d63851"/>
<rect x="18" y="14" width="1.10" height="1.1" fill="#f45b55"/>
<rect x="19" y="14" width="1.10" height="1.1" fill="#f87862"/>
<rect x="20" y="14" width="1.10" height="1.1" fill="#fff1b1"/>
<rect x="21" y="14" width="2.10" height="1.1" fill="#fffec5"/>
<rect x="23" y="14" width="1.10" height="1.1" fill="#fee39b"/>
<rect x="24" y="14" width="3.10" height="1.1" fill="#fdc485"/>
</g></g></g>
<g stroke="#a8a8a8" stroke-width="0.45" opacity="0.4">
<line x1="186.20" y1="104.20" x2="186.20" y2="174.90"/>
<line x1="199.20" y1="104.20" x2="199.20" y2="174.90"/>
<line x1="212.20" y1="104.20" x2="212.20" y2="174.90"/>
<line x1="225.20" y1="104.20" x2="225.20" y2="174.90"/>
<line x1="238.20" y1="104.20" x2="238.20" y2="174.90"/>
<line x1="251.20" y1="104.20" x2="251.20" y2="174.90"/>
<line x1="264.20" y1="104.20" x2="264.20" y2="174.90"/>
<line x1="277.20" y1="104.20" x2="277.20" y2="174.90"/>
<line x1="290.20" y1="104.20" x2="290.20" y2="174.90"/>
<line x1="303.20" y1="104.20" x2="303.20" y2="174.90"/>
<line x1="316.20" y1="104.20" x2="316.20" y2="174.90"/>
<line x1="185.90" y1="157.22" x2="316.50" y2="157.22"/>
<line x1="185.90" y1="139.55" x2="316.50" y2="139.55"/>
<line x1="185.90" y1="121.88" x2="316.50" y2="121.88"/>
</g>
<g clip-path="url(#c11)" fill="none" stroke-width="1.25">
<path d="M218.50,115.00 C219.37,115.00 221.10,118.27 221.10,119.90 C221.10,121.53 219.37,124.80 218.50,124.80 C217.63,124.80 215.90,121.53 215.90,119.90 C215.90,118.27 217.63,115.00 218.50,115.00 Z" stroke="#2a2ae6" stroke-dasharray="2.2,1.2"/>
<path d="M248.10,128.00 C248.63,128.00 249.70,128.85 249.70,129.30 C249.70,129.75 248.63,130.70 248.10,130.70 C247.57,130.70 246.50,129.75 246.50,129.30 C246.50,128.85 247.57,128.00 248.10,128.00 Z" stroke="#2a2ae6" stroke-dasharray="2.2,1.2"/>
<path d="M257.90,131.00 C258.88,131.00 260.90,134.00 260.90,135.50 C260.90,137.00 258.88,140.00 257.90,140.00 C256.92,140.00 255.00,137.00 255.00,135.50 C255.00,134.00 256.92,131.00 257.90,131.00 Z" stroke="#2a2ae6" stroke-dasharray="2.2,1.2"/>
<path d="M247.30,128.60 L247.90,129.20" stroke="#2a2ae6"/>
<path d="M308.70,148.00 L309.30,148.60" stroke="#2a2ae6"/>
<path d="M209.40,167.00 C209.40,165.27 210.48,161.65 212.00,159.80 C213.52,157.95 216.87,156.87 218.50,155.90 C220.13,154.93 220.72,154.00 221.80,154.00 C222.88,154.00 224.35,154.07 225.00,155.90 C225.65,157.73 225.70,162.50 225.70,165.00 C225.70,167.50 226.20,169.92 225.00,170.90 C223.80,171.88 220.67,171.02 218.50,170.90 C216.33,170.78 213.52,170.85 212.00,170.20 C210.48,169.55 209.40,168.73 209.40,167.00 Z" stroke="#e5322d" stroke-dasharray="2.2,1.2"/>
<path d="M215.20,164.40 C216.28,164.40 218.50,166.13 218.50,167.00 C218.50,167.87 216.28,169.60 215.20,169.60 C214.12,169.60 212.00,167.87 212.00,167.00 C212.00,166.13 214.12,164.40 215.20,164.40 Z" stroke="#e5322d" stroke-dasharray="2.2,1.2"/>
<path d="M228.90,146.80 C229.33,145.72 230.25,145.07 230.90,145.50 C231.55,145.93 232.27,147.88 232.80,149.40 C233.33,150.92 233.23,153.52 234.10,154.60 C234.97,155.68 236.70,155.47 238.00,155.90 C239.30,156.33 240.82,156.12 241.90,157.20 C242.98,158.28 243.42,160.88 244.50,162.40 C245.58,163.92 247.97,164.88 248.40,166.30 C248.83,167.72 248.40,170.03 247.10,170.90 C245.80,171.77 242.12,171.83 240.60,171.50 C239.08,171.17 239.52,169.77 238.00,168.90 C236.48,168.03 233.02,167.60 231.50,166.30 C229.98,165.00 229.43,163.48 228.90,161.10 C228.37,158.72 228.30,154.38 228.30,152.00 C228.30,149.62 228.47,147.88 228.90,146.80 Z" stroke="#e5322d" stroke-dasharray="2.2,1.2"/>
<path d="M240.60,165.00 C241.47,165.00 243.20,166.73 243.20,167.60 C243.20,168.47 241.47,170.20 240.60,170.20 C239.73,170.20 238.00,168.47 238.00,167.60 C238.00,166.73 239.73,165.00 240.60,165.00 Z" stroke="#e5322d" stroke-dasharray="2.2,1.2"/>
<path d="M190.60,167.60 C192.12,167.60 195.10,169.33 195.10,170.20 C195.10,171.07 192.12,172.80 190.60,172.80 C189.08,172.80 186.00,171.07 186.00,170.20 C186.00,169.33 189.08,167.60 190.60,167.60 Z" stroke="#e5322d" stroke-dasharray="2.2,1.2"/>
<path d="M202.90,168.30 C204.63,168.30 208.10,170.23 208.10,171.20 C208.10,172.17 204.63,174.10 202.90,174.10 C201.17,174.10 197.70,172.17 197.70,171.20 C197.70,170.23 201.17,168.30 202.90,168.30 Z" stroke="#2a2ae6" stroke-dasharray="2.2,1.2"/>
<path d="M203.50,170.00 C204.33,170.00 206.00,171.00 206.00,171.50 C206.00,172.00 204.33,173.00 203.50,173.00 C202.67,173.00 201.00,172.00 201.00,171.50 C201.00,171.00 202.67,170.00 203.50,170.00 Z" stroke="#2a2ae6" stroke-dasharray="2.2,1.2"/>
<path d="M227.60,172.80 C228.47,172.80 230.20,174.20 230.20,174.90 C230.20,175.60 228.47,177.00 227.60,177.00 C226.73,177.00 225.00,175.60 225.00,174.90 C225.00,174.20 226.73,172.80 227.60,172.80 Z" stroke="#2a2ae6" stroke-dasharray="2.2,1.2"/>
<path d="M257.60,139.00 C257.83,139.25 258.45,140.07 259.00,140.50 C259.55,140.93 260.58,141.42 260.90,141.60" stroke="#2a2ae6" stroke-dasharray="2.2,1.2"/>
<path d="M270.00,165.00 C268.50,165.00 266.17,163.07 265.50,163.40 C264.83,163.73 265.25,165.90 266.00,167.00 C266.75,168.10 268.55,170.00 270.00,170.00 C271.45,170.00 273.95,168.10 274.70,167.00 C275.45,165.90 275.28,163.73 274.50,163.40 C273.72,163.07 271.50,165.00 270.00,165.00 Z" stroke="#e5322d" stroke-dasharray="2.2,1.2"/>
<path d="M279.40,161.40 C279.85,161.40 280.70,163.22 280.70,164.10 C280.70,164.98 279.85,166.70 279.40,166.70 C278.95,166.70 278.00,164.98 278.00,164.10 C278.00,163.22 278.95,161.40 279.40,161.40 Z" stroke="#e5322d" stroke-dasharray="2.2,1.2"/>
<path d="M289.30,166.00 C290.20,166.00 292.00,168.87 292.00,170.30 C292.00,171.73 290.20,174.60 289.30,174.60 C288.40,174.60 286.60,171.73 286.60,170.30 C286.60,168.87 288.40,166.00 289.30,166.00 Z" stroke="#e5322d" stroke-dasharray="2.2,1.2"/>
<path d="M294.80,165.40 C295.72,165.40 297.50,168.47 297.50,170.00 C297.50,171.53 295.72,174.60 294.80,174.60 C293.88,174.60 292.00,171.53 292.00,170.00 C292.00,168.47 293.88,165.40 294.80,165.40 Z" stroke="#e5322d" stroke-dasharray="2.2,1.2"/>
<path d="M299.80,168.00 C300.72,168.00 302.50,170.33 302.50,171.50 C302.50,172.67 300.72,175.00 299.80,175.00 C298.88,175.00 297.00,172.67 297.00,171.50 C297.00,170.33 298.88,168.00 299.80,168.00 Z" stroke="#e5322d" stroke-dasharray="2.2,1.2"/>
<path d="M305.80,158.80 C306.45,158.80 307.70,161.67 307.70,163.10 C307.70,164.53 306.45,167.40 305.80,167.40 C305.15,167.40 303.80,164.53 303.80,163.10 C303.80,161.67 305.15,158.80 305.80,158.80 Z" stroke="#e5322d" stroke-dasharray="2.2,1.2"/>
<path d="M315.50,164.00 C315.58,164.67 316.00,166.67 316.00,168.00 C316.00,169.33 315.58,171.33 315.50,172.00" stroke="#2a2ae6" stroke-dasharray="2.2,1.2"/>
</g>
<line x1="225.30" y1="104.20" x2="225.30" y2="174.90" stroke="#222" stroke-width="0.7" stroke-dasharray="1.2,1"/>
<line x1="238.40" y1="104.20" x2="238.40" y2="174.90" stroke="#222" stroke-width="0.7" stroke-dasharray="1.2,1"/>
<line x1="277.40" y1="104.20" x2="277.40" y2="174.90" stroke="#222" stroke-width="0.7" stroke-dasharray="1.2,1"/>
<line x1="283.30" y1="104.20" x2="283.30" y2="174.90" stroke="#222" stroke-width="0.7" stroke-dasharray="1.2,1"/>
<rect x="185.90" y="104.20" width="130.60" height="70.70" fill="none" stroke="#555" stroke-width="0.8"/>
<line x1="186.20" y1="174.90" x2="186.20" y2="177.10" stroke="#444" stroke-width="0.7"/>
<line x1="199.20" y1="174.90" x2="199.20" y2="177.10" stroke="#444" stroke-width="0.7"/>
<line x1="212.20" y1="174.90" x2="212.20" y2="177.10" stroke="#444" stroke-width="0.7"/>
<line x1="225.20" y1="174.90" x2="225.20" y2="177.10" stroke="#444" stroke-width="0.7"/>
<line x1="238.20" y1="174.90" x2="238.20" y2="177.10" stroke="#444" stroke-width="0.7"/>
<line x1="251.20" y1="174.90" x2="251.20" y2="177.10" stroke="#444" stroke-width="0.7"/>
<line x1="264.20" y1="174.90" x2="264.20" y2="177.10" stroke="#444" stroke-width="0.7"/>
<line x1="277.20" y1="174.90" x2="277.20" y2="177.10" stroke="#444" stroke-width="0.7"/>
<line x1="290.20" y1="174.90" x2="290.20" y2="177.10" stroke="#444" stroke-width="0.7"/>
<line x1="303.20" y1="174.90" x2="303.20" y2="177.10" stroke="#444" stroke-width="0.7"/>
<line x1="316.20" y1="174.90" x2="316.20" y2="177.10" stroke="#444" stroke-width="0.7"/>
<line x1="183.70" y1="174.90" x2="185.90" y2="174.90" stroke="#444" stroke-width="0.7"/>
<line x1="183.70" y1="157.22" x2="185.90" y2="157.22" stroke="#444" stroke-width="0.7"/>
<line x1="183.70" y1="139.55" x2="185.90" y2="139.55" stroke="#444" stroke-width="0.7"/>
<line x1="183.70" y1="121.88" x2="185.90" y2="121.88" stroke="#444" stroke-width="0.7"/>
<line x1="183.70" y1="104.20" x2="185.90" y2="104.20" stroke="#444" stroke-width="0.7"/>
<g clip-path="url(#c12)"><g filter="url(#blf)"><g transform="translate(185.90,188.90) scale(5.0231,5.0571)">
<rect x="-1" y="-1" width="7.10" height="1.1" fill="#f7f6f6"/>
<rect x="6" y="-1" width="1.10" height="1.1" fill="#e7eff4"/>
<rect x="7" y="-1" width="1.10" height="1.1" fill="#d7e6f0"/>
<rect x="8" y="-1" width="1.10" height="1.1" fill="#bbd6e7"/>
<rect x="9" y="-1" width="1.10" height="1.1" fill="#9ec5dd"/>
<rect x="10" y="-1" width="1.10" height="1.1" fill="#bbd6e7"/>
<rect x="11" y="-1" width="1.10" height="1.1" fill="#faeae4"/>
<rect x="12" y="-1" width="2.10" height="1.1" fill="#f7f6f6"/>
<rect x="14" y="-1" width="3.10" height="1.1" fill="#faeae4"/>
<rect x="17" y="-1" width="2.10" height="1.1" fill="#f7f6f6"/>
<rect x="19" y="-1" width="1.10" height="1.1" fill="#faeae4"/>
<rect x="20" y="-1" width="2.10" height="1.1" fill="#f7f6f6"/>
<rect x="22" y="-1" width="1.10" height="1.1" fill="#d7e6f0"/>
<rect x="23" y="-1" width="1.10" height="1.1" fill="#f7f6f6"/>
<rect x="24" y="-1" width="1.10" height="1.1" fill="#faeae4"/>
<rect x="25" y="-1" width="2.10" height="1.1" fill="#f7f6f6"/>
<rect x="-1" y="0" width="7.10" height="1.1" fill="#f7f6f6"/>
<rect x="6" y="0" width="1.10" height="1.1" fill="#e7eff4"/>
<rect x="7" y="0" width="1.10" height="1.1" fill="#d7e6f0"/>
<rect x="8" y="0" width="1.10" height="1.1" fill="#bbd6e7"/>
<rect x="9" y="0" width="1.10" height="1.1" fill="#9ec5dd"/>
<rect x="10" y="0" width="1.10" height="1.1" fill="#bbd6e7"/>
<rect x="11" y="0" width="1.10" height="1.1" fill="#faeae4"/>
<rect x="12" y="0" width="2.10" height="1.1" fill="#f7f6f6"/>
<rect x="14" y="0" width="3.10" height="1.1" fill="#faeae4"/>
<rect x="17" y="0" width="2.10" height="1.1" fill="#f7f6f6"/>
<rect x="19" y="0" width="1.10" height="1.1" fill="#faeae4"/>
<rect x="20" y="0" width="2.10" height="1.1" fill="#f7f6f6"/>
<rect x="22" y="0" width="1.10" height="1.1" fill="#d7e6f0"/>
<rect x="23" y="0" width="1.10" height="1.1" fill="#f7f6f6"/>
<rect x="24" y="0" width="1.10" height="1.1" fill="#faeae4"/>
<rect x="25" y="0" width="2.10" height="1.1" fill="#f7f6f6"/>
<rect x="-1" y="1" width="7.10" height="1.1" fill="#f7f6f6"/>
<rect x="6" y="1" width="1.10" height="1.1" fill="#d7e6f0"/>
<rect x="7" y="1" width="1.10" height="1.1" fill="#bbd6e7"/>
<rect x="8" y="1" width="2.10" height="1.1" fill="#9ec5dd"/>
<rect x="10" y="1" width="1.10" height="1.1" fill="#d7e6f0"/>
<rect x="11" y="1" width="1.10" height="1.1" fill="#e7eff4"/>
<rect x="12" y="1" width="1.10" height="1.1" fill="#f7f6f6"/>
<rect x="13" y="1" width="1.10" height="1.1" fill="#d7e6f0"/>
<rect x="14" y="1" width="3.10" height="1.1" fill="#faeae4"/>
<rect x="17" y="1" width="2.10" height="1.1" fill="#f7f6f6"/>
<rect x="19" y="1" width="1.10" height="1.1" fill="#faeae4"/>
<rect x="20" y="1" width="1.10" height="1.1" fill="#f7f6f6"/>
<rect x="21" y="1" width="1.10" height="1.1" fill="#d7e6f0"/>
<rect x="22" y="1" width="1.10" height="1.1" fill="#e7eff4"/>
<rect x="23" y="1" width="1.10" height="1.1" fill="#f7f6f6"/>
<rect x="24" y="1" width="1.10" height="1.1" fill="#faeae4"/>
<rect x="25" y="1" width="2.10" height="1.1" fill="#f7f6f6"/>
<rect x="-1" y="2" width="6.10" height="1.1" fill="#f7f6f6"/>
<rect x="5" y="2" width="1.10" height="1.1" fill="#e7eff4"/>
<rect x="6" y="2" width="1.10" height="1.1" fill="#d7e6f0"/>
<rect x="7" y="2" width="2.10" height="1.1" fill="#bbd6e7"/>
<rect x="9" y="2" width="2.10" height="1.1" fill="#d7e6f0"/>
<rect x="11" y="2" width="1.10" height="1.1" fill="#e7eff4"/>
<rect x="12" y="2" width="1.10" height="1.1" fill="#f7f6f6"/>
<rect x="13" y="2" width="1.10" height="1.1" fill="#d7e6f0"/>
<rect x="14" y="2" width="3.10" height="1.1" fill="#faeae4"/>
<rect x="17" y="2" width="2.10" height="1.1" fill="#f7f6f6"/>
<rect x="19" y="2" width="1.10" height="1.1" fill="#faeae4"/>
<rect x="20" y="2" width="1.10" height="1.1" fill="#f7f6f6"/>
<rect x="21" y="2" width="1.10" height="1.1" fill="#d7e6f0"/>
<rect x="22" y="2" width="3.10" height="1.1" fill="#e7eff4"/>
<rect x="25" y="2" width="2.10" height="1.1" fill="#f7f6f6"/>
<rect x="-1" y="3" width="5.10" height="1.1" fill="#f7f6f6"/>
<rect x="4" y="3" width="1.10" height="1.1" fill="#faeae4"/>
<rect x="5" y="3" width="1.10" height="1.1" fill="#e7eff4"/>
<rect x="6" y="3" width="1.10" height="1.1" fill="#d7e6f0"/>
<rect x="7" y="3" width="1.10" height="1.1" fill="#9ec5dd"/>
<rect x="8" y="3" width="1.10" height="1.1" fill="#bbd6e7"/>
<rect x="9" y="3" width="1.10" height="1.1" fill="#7eafd1"/>
<rect x="10" y="3" width="1.10" height="1.1" fill="#bbd6e7"/>
<rect x="11" y="3" width="1.10" height="1.1" fill="#e7eff4"/>
<rect x="12" y="3" width="1.10" height="1.1" fill="#f7f6f6"/>
<rect x="13" y="3" width="1.10" height="1.1" fill="#d7e6f0"/>
<rect x="14" y="3" width="1.10" height="1.1" fill="#e7eff4"/>
<rect x="15" y="3" width="2.10" height="1.1" fill="#faeae4"/>
<rect x="17" y="3" width="2.10" height="1.1" fill="#f7f6f6"/>
<rect x="19" y="3" width="1.10" height="1.1" fill="#faeae4"/>
<rect x="20" y="3" width="1.10" height="1.1" fill="#f7f6f6"/>
<rect x="21" y="3" width="1.10" height="1.1" fill="#9ec5dd"/>
<rect x="22" y="3" width="3.10" height="1.1" fill="#e7eff4"/>
<rect x="25" y="3" width="2.10" height="1.1" fill="#f7f6f6"/>
<rect x="-1" y="4" width="5.10" height="1.1" fill="#f7f6f6"/>
<rect x="4" y="4" width="1.10" height="1.1" fill="#faeae4"/>
<rect x="5" y="4" width="1.10" height="1.1" fill="#e7eff4"/>
<rect x="6" y="4" width="1.10" height="1.1" fill="#d7e6f0"/>
<rect x="7" y="4" width="1.10" height="1.1" fill="#9ec5dd"/>
<rect x="8" y="4" width="1.10" height="1.1" fill="#7eafd1"/>
<rect x="9" y="4" width="1.10" height="1.1" fill="#4a81b7"/>
<rect x="10" y="4" width="1.10" height="1.1" fill="#bbd6e7"/>
<rect x="11" y="4" width="2.10" height="1.1" fill="#e7eff4"/>
<rect x="13" y="4" width="1.10" height="1.1" fill="#f7f6f6"/>
<rect x="14" y="4" width="1.10" height="1.1" fill="#e7eff4"/>
<rect x="15" y="4" width="2.10" height="1.1" fill="#faeae4"/>
<rect x="17" y="4" width="2.10" height="1.1" fill="#f7f6f6"/>
<rect x="19" y="4" width="1.10" height="1.1" fill="#fdddd1"/>
<rect x="20" y="4" width="1.10" height="1.1" fill="#f7f6f6"/>
<rect x="21" y="4" width="1.10" height="1.1" fill="#9ec5dd"/>
<rect x="22" y="4" width="1.10" height="1.1" fill="#d7e6f0"/>
<rect x="23" y="4" width="4.10" height="1.1" fill="#e7eff4"/>
<rect x="-1" y="5" width="5.10" height="1.1" fill="#f7f6f6"/>
<rect x="4" y="5" width="1.10" height="1.1" fill="#faeae4"/>
<rect x="5" y="5" width="1.10" height="1.1" fill="#e7eff4"/>
<rect x="6" y="5" width="1.10" height="1.1" fill="#bbd6e7"/>
<rect x="7" y="5" width="1.10" height="1.1" fill="#7eafd1"/>
<rect x="8" y="5" width="1.10" height="1.1" fill="#5a96c3"/>
<rect x="9" y="5" width="1.10" height="1.1" fill="#4a81b7"/>
<rect x="10" y="5" width="1.10" height="1.1" fill="#bbd6e7"/>
<rect x="11" y="5" width="2.10" height="1.1" fill="#e7eff4"/>
<rect x="13" y="5" width="2.10" height="1.1" fill="#f7f6f6"/>
<rect x="15" y="5" width="1.10" height="1.1" fill="#faeae4"/>
<rect x="16" y="5" width="1.10" height="1.1" fill="#fdddd1"/>
<rect x="17" y="5" width="1.10" height="1.1" fill="#e4887d"/>
<rect x="18" y="5" width="1.10" height="1.1" fill="#f7f6f6"/>
<rect x="19" y="5" width="1.10" height="1.1" fill="#fdddd1"/>
<rect x="20" y="5" width="1.10" height="1.1" fill="#f7f6f6"/>
<rect x="21" y="5" width="1.10" height="1.1" fill="#9ec5dd"/>
<rect x="22" y="5" width="1.10" height="1.1" fill="#d7e6f0"/>
<rect x="23" y="5" width="4.10" height="1.1" fill="#e7eff4"/>
<rect x="-1" y="6" width="5.10" height="1.1" fill="#f7f6f6"/>
<rect x="4" y="6" width="1.10" height="1.1" fill="#faeae4"/>
<rect x="5" y="6" width="1.10" height="1.1" fill="#e7eff4"/>
<rect x="6" y="6" width="1.10" height="1.1" fill="#bbd6e7"/>
<rect x="7" y="6" width="1.10" height="1.1" fill="#7eafd1"/>
<rect x="8" y="6" width="2.10" height="1.1" fill="#4a81b7"/>
<rect x="10" y="6" width="1.10" height="1.1" fill="#bbd6e7"/>
<rect x="11" y="6" width="2.10" height="1.1" fill="#e7eff4"/>
<rect x="13" y="6" width="2.10" height="1.1" fill="#f7f6f6"/>
<rect x="15" y="6" width="1.10" height="1.1" fill="#faeae4"/>
<rect x="16" y="6" width="1.10" height="1.1" fill="#fdddd1"/>
<rect x="17" y="6" width="1.10" height="1.1" fill="#e4887d"/>
<rect x="18" y="6" width="1.10" height="1.1" fill="#f7f6f6"/>
<rect x="19" y="6" width="1.10" height="1.1" fill="#faeae4"/>
<rect x="20" y="6" width="1.10" height="1.1" fill="#f7f6f6"/>
<rect x="21" y="6" width="1.10" height="1.1" fill="#9ec5dd"/>
<rect x="22" y="6" width="1.10" height="1.1" fill="#d7e6f0"/>
<rect x="23" y="6" width="4.10" height="1.1" fill="#e7eff4"/>
<rect x="-1" y="7" width="5.10" height="1.1" fill="#f7f6f6"/>
<rect x="4" y="7" width="1.10" height="1.1" fill="#faeae4"/>
<rect x="5" y="7" width="1.10" height="1.1" fill="#fdddd1"/>
<rect x="6" y="7" width="2.10" height="1.1" fill="#faeae4"/>
<rect x="8" y="7" width="1.10" height="1.1" fill="#4a81b7"/>
<rect x="9" y="7" width="1.10" height="1.1" fill="#5a96c3"/>
<rect x="10" y="7" width="1.10" height="1.1" fill="#9ec5dd"/>
<rect x="11" y="7" width="2.10" height="1.1" fill="#faeae4"/>
<rect x="13" y="7" width="2.10" height="1.1" fill="#f7f6f6"/>
<rect x="15" y="7" width="1.10" height="1.1" fill="#faeae4"/>
<rect x="16" y="7" width="1.10" height="1.1" fill="#f8c3b3"/>
<rect x="17" y="7" width="1.10" height="1.1" fill="#f3a996"/>
<rect x="18" y="7" width="1.10" height="1.1" fill="#f7f6f6"/>
<rect x="19" y="7" width="2.10" height="1.1" fill="#faeae4"/>
<rect x="21" y="7" width="1.10" height="1.1" fill="#5a96c3"/>
<rect x="22" y="7" width="2.10" height="1.1" fill="#d7e6f0"/>
<rect x="24" y="7" width="1.10" height="1.1" fill="#bbd6e7"/>
<rect x="25" y="7" width="2.10" height="1.1" fill="#d7e6f0"/>
<rect x="-1" y="8" width="5.10" height="1.1" fill="#f7f6f6"/>
<rect x="4" y="8" width="1.10" height="1.1" fill="#faeae4"/>
<rect x="5" y="8" width="1.10" height="1.1" fill="#f8c3b3"/>
<rect x="6" y="8" width="1.10" height="1.1" fill="#fdddd1"/>
<rect x="7" y="8" width="1.10" height="1.1" fill="#faeae4"/>
<rect x="8" y="8" width="1.10" height="1.1" fill="#4a81b7"/>
<rect x="9" y="8" width="1.10" height="1.1" fill="#7eafd1"/>
<rect x="10" y="8" width="1.10" height="1.1" fill="#e7eff4"/>
<rect x="11" y="8" width="2.10" height="1.1" fill="#faeae4"/>
<rect x="13" y="8" width="2.10" height="1.1" fill="#f7f6f6"/>
<rect x="15" y="8" width="1.10" height="1.1" fill="#faeae4"/>
<rect x="16" y="8" width="2.10" height="1.1" fill="#fdddd1"/>
<rect x="18" y="8" width="1.10" height="1.1" fill="#f7f6f6"/>
<rect x="19" y="8" width="2.10" height="1.1" fill="#faeae4"/>
<rect x="21" y="8" width="1.10" height="1.1" fill="#9ec5dd"/>
<rect x="22" y="8" width="5.10" height="1.1" fill="#d7e6f0"/>
<rect x="-1" y="9" width="7.10" height="1.1" fill="#f7f6f6"/>
<rect x="6" y="9" width="1.10" height="1.1" fill="#f8c3b3"/>
<rect x="7" y="9" width="1.10" height="1.1" fill="#fdddd1"/>
<rect x="8" y="9" width="1.10" height="1.1" fill="#4a81b7"/>
<rect x="9" y="9" width="1.10" height="1.1" fill="#7eafd1"/>
<rect x="10" y="9" width="1.10" height="1.1" fill="#e7eff4"/>
<rect x="11" y="9" width="2.10" height="1.1" fill="#faeae4"/>
<rect x="13" y="9" width="2.10" height="1.1" fill="#f7f6f6"/>
<rect x="15" y="9" width="1.10" height="1.1" fill="#faeae4"/>
<rect x="16" y="9" width="1.10" height="1.1" fill="#fdddd1"/>
<rect x="17" y="9" width="2.10" height="1.1" fill="#f7f6f6"/>
<rect x="19" y="9" width="2.10" height="1.1" fill="#faeae4"/>
<rect x="21" y="9" width="6.10" height="1.1" fill="#d7e6f0"/>
<rect x="-1" y="10" width="6.10" height="1.1" fill="#f7f6f6"/>
<rect x="5" y="10" width="2.10" height="1.1" fill="#f8c3b3"/>
<rect x="7" y="10" width="1.10" height="1.1" fill="#d66a66"/>
<rect x="8" y="10" width="1.10" height="1.1" fill="#4a81b7"/>
<rect x="9" y="10" width="1.10" height="1.1" fill="#9ec5dd"/>
<rect x="10" y="10" width="1.10" height="1.1" fill="#bbd6e7"/>
<rect x="11" y="10" width="2.10" height="1.1" fill="#faeae4"/>
<rect x="13" y="10" width="2.10" height="1.1" fill="#f7f6f6"/>
<rect x="15" y="10" width="2.10" height="1.1" fill="#faeae4"/>
<rect x="17" y="10" width="1.10" height="1.1" fill="#f7f6f6"/>
<rect x="18" y="10" width="1.10" height="1.1" fill="#d66a66"/>
<rect x="19" y="10" width="1.10" height="1.1" fill="#e4887d"/>
<rect x="20" y="10" width="4.10" height="1.1" fill="#d7e6f0"/>
<rect x="24" y="10" width="1.10" height="1.1" fill="#bbd6e7"/>
<rect x="25" y="10" width="2.10" height="1.1" fill="#d7e6f0"/>
<rect x="-1" y="11" width="4.10" height="1.1" fill="#e7eff4"/>
<rect x="3" y="11" width="1.10" height="1.1" fill="#f7f6f6"/>
<rect x="4" y="11" width="1.10" height="1.1" fill="#e7eff4"/>
<rect x="5" y="11" width="1.10" height="1.1" fill="#f8c3b3"/>
<rect x="6" y="11" width="1.10" height="1.1" fill="#b1334f"/>
<rect x="7" y="11" width="1.10" height="1.1" fill="#c4545f"/>
<rect x="8" y="11" width="1.10" height="1.1" fill="#4a81b7"/>
<rect x="9" y="11" width="1.10" height="1.1" fill="#396cab"/>
<rect x="10" y="11" width="1.10" height="1.1" fill="#5a96c3"/>
<rect x="11" y="11" width="1.10" height="1.1" fill="#7eafd1"/>
<rect x="12" y="11" width="2.10" height="1.1" fill="#f3a996"/>
<rect x="14" y="11" width="1.10" height="1.1" fill="#e7eff4"/>
<rect x="15" y="11" width="2.10" height="1.1" fill="#faeae4"/>
<rect x="17" y="11" width="1.10" height="1.1" fill="#f7f6f6"/>
<rect x="18" y="11" width="1.10" height="1.1" fill="#c4545f"/>
<rect x="19" y="11" width="1.10" height="1.1" fill="#e4887d"/>
<rect x="20" y="11" width="1.10" height="1.1" fill="#9ec5dd"/>
<rect x="21" y="11" width="1.10" height="1.1" fill="#f3a996"/>
<rect x="22" y="11" width="1.10" height="1.1" fill="#d66a66"/>
<rect x="23" y="11" width="1.10" height="1.1" fill="#fdddd1"/>
<rect x="24" y="11" width="1.10" height="1.1" fill="#d7e6f0"/>
<rect x="25" y="11" width="2.10" height="1.1" fill="#f3a996"/>
<rect x="-1" y="12" width="4.10" height="1.1" fill="#e7eff4"/>
<rect x="3" y="12" width="1.10" height="1.1" fill="#f7f6f6"/>
<rect x="4" y="12" width="1.10" height="1.1" fill="#e7eff4"/>
<rect x="5" y="12" width="1.10" height="1.1" fill="#c4545f"/>
<rect x="6" y="12" width="2.10" height="1.1" fill="#b1334f"/>
<rect x="8" y="12" width="1.10" height="1.1" fill="#4a81b7"/>
<rect x="9" y="12" width="1.10" height="1.1" fill="#396cab"/>
<rect x="10" y="12" width="1.10" height="1.1" fill="#4a81b7"/>
<rect x="11" y="12" width="1.10" height="1.1" fill="#9ec5dd"/>
<rect x="12" y="12" width="1.10" height="1.1" fill="#bbd6e7"/>
<rect x="13" y="12" width="1.10" height="1.1" fill="#d7e6f0"/>
<rect x="14" y="12" width="1.10" height="1.1" fill="#bbd6e7"/>
<rect x="15" y="12" width="2.10" height="1.1" fill="#faeae4"/>
<rect x="17" y="12" width="1.10" height="1.1" fill="#f7f6f6"/>
<rect x="18" y="12" width="1.10" height="1.1" fill="#c4545f"/>
<rect x="19" y="12" width="1.10" height="1.1" fill="#e4887d"/>
<rect x="20" y="12" width="1.10" height="1.1" fill="#4a81b7"/>
<rect x="21" y="12" width="1.10" height="1.1" fill="#5a96c3"/>
<rect x="22" y="12" width="1.10" height="1.1" fill="#d66a66"/>
<rect x="23" y="12" width="1.10" height="1.1" fill="#c4545f"/>
<rect x="24" y="12" width="1.10" height="1.1" fill="#b1334f"/>
<rect x="25" y="12" width="2.10" height="1.1" fill="#d66a66"/>
<rect x="-1" y="13" width="3.10" height="1.1" fill="#e7eff4"/>
<rect x="2" y="13" width="3.10" height="1.1" fill="#f7f6f6"/>
<rect x="5" y="13" width="1.10" height="1.1" fill="#c4545f"/>
<rect x="6" y="13" width="2.10" height="1.1" fill="#b1334f"/>
<rect x="8" y="13" width="1.10" height="1.1" fill="#4a81b7"/>
<rect x="9" y="13" width="1.10" height="1.1" fill="#396cab"/>
<rect x="10" y="13" width="1.10" height="1.1" fill="#4a81b7"/>
<rect x="11" y="13" width="1.10" height="1.1" fill="#9ec5dd"/>
<rect x="12" y="13" width="1.10" height="1.1" fill="#bbd6e7"/>
<rect x="13" y="13" width="1.10" height="1.1" fill="#d7e6f0"/>
<rect x="14" y="13" width="1.10" height="1.1" fill="#bbd6e7"/>
<rect x="15" y="13" width="2.10" height="1.1" fill="#faeae4"/>
<rect x="17" y="13" width="1.10" height="1.1" fill="#f7f6f6"/>
<rect x="18" y="13" width="1.10" height="1.1" fill="#d66a66"/>
<rect x="19" y="13" width="1.10" height="1.1" fill="#e7eff4"/>
<rect x="20" y="13" width="1.10" height="1.1" fill="#4a81b7"/>
<rect x="21" y="13" width="1.10" height="1.1" fill="#5a96c3"/>
<rect x="22" y="13" width="1.10" height="1.1" fill="#f3a996"/>
<rect x="23" y="13" width="1.10" height="1.1" fill="#c4545f"/>
<rect x="24" y="13" width="1.10" height="1.1" fill="#b1334f"/>
<rect x="25" y="13" width="2.10" height="1.1" fill="#d66a66"/>
<rect x="-1" y="14" width="3.10" height="1.1" fill="#e7eff4"/>
<rect x="2" y="14" width="3.10" height="1.1" fill="#f7f6f6"/>
<rect x="5" y="14" width="1.10" height="1.1" fill="#c4545f"/>
<rect x="6" y="14" width="2.10" height="1.1" fill="#b1334f"/>
<rect x="8" y="14" width="1.10" height="1.1" fill="#4a81b7"/>
<rect x="9" y="14" width="1.10" height="1.1" fill="#396cab"/>
<rect x="10" y="14" width="1.10" height="1.1" fill="#4a81b7"/>
<rect x="11" y="14" width="1.10" height="1.1" fill="#9ec5dd"/>
<rect x="12" y="14" width="1.10" height="1.1" fill="#bbd6e7"/>
<rect x="13" y="14" width="1.10" height="1.1" fill="#d7e6f0"/>
<rect x="14" y="14" width="1.10" height="1.1" fill="#bbd6e7"/>
<rect x="15" y="14" width="2.10" height="1.1" fill="#faeae4"/>
<rect x="17" y="14" width="1.10" height="1.1" fill="#f7f6f6"/>
<rect x="18" y="14" width="1.10" height="1.1" fill="#d66a66"/>
<rect x="19" y="14" width="1.10" height="1.1" fill="#e7eff4"/>
<rect x="20" y="14" width="1.10" height="1.1" fill="#4a81b7"/>
<rect x="21" y="14" width="1.10" height="1.1" fill="#5a96c3"/>
<rect x="22" y="14" width="1.10" height="1.1" fill="#f3a996"/>
<rect x="23" y="14" width="1.10" height="1.1" fill="#c4545f"/>
<rect x="24" y="14" width="1.10" height="1.1" fill="#b1334f"/>
<rect x="25" y="14" width="2.10" height="1.1" fill="#d66a66"/>
</g></g></g>
<g stroke="#a8a8a8" stroke-width="0.45" opacity="0.4">
<line x1="186.20" y1="188.90" x2="186.20" y2="259.70"/>
<line x1="199.20" y1="188.90" x2="199.20" y2="259.70"/>
<line x1="212.20" y1="188.90" x2="212.20" y2="259.70"/>
<line x1="225.20" y1="188.90" x2="225.20" y2="259.70"/>
<line x1="238.20" y1="188.90" x2="238.20" y2="259.70"/>
<line x1="251.20" y1="188.90" x2="251.20" y2="259.70"/>
<line x1="264.20" y1="188.90" x2="264.20" y2="259.70"/>
<line x1="277.20" y1="188.90" x2="277.20" y2="259.70"/>
<line x1="290.20" y1="188.90" x2="290.20" y2="259.70"/>
<line x1="303.20" y1="188.90" x2="303.20" y2="259.70"/>
<line x1="316.20" y1="188.90" x2="316.20" y2="259.70"/>
<line x1="185.90" y1="242.00" x2="316.50" y2="242.00"/>
<line x1="185.90" y1="224.30" x2="316.50" y2="224.30"/>
<line x1="185.90" y1="206.60" x2="316.50" y2="206.60"/>
</g>
<g clip-path="url(#c12)" fill="none" stroke-width="1.25">
</g>
<line x1="225.30" y1="188.90" x2="225.30" y2="259.70" stroke="#222" stroke-width="0.7" stroke-dasharray="1.2,1"/>
<line x1="238.40" y1="188.90" x2="238.40" y2="259.70" stroke="#222" stroke-width="0.7" stroke-dasharray="1.2,1"/>
<line x1="277.40" y1="188.90" x2="277.40" y2="259.70" stroke="#222" stroke-width="0.7" stroke-dasharray="1.2,1"/>
<line x1="283.30" y1="188.90" x2="283.30" y2="259.70" stroke="#222" stroke-width="0.7" stroke-dasharray="1.2,1"/>
<rect x="185.90" y="188.90" width="130.60" height="70.80" fill="none" stroke="#555" stroke-width="0.8"/>
<line x1="186.20" y1="259.70" x2="186.20" y2="261.90" stroke="#444" stroke-width="0.7"/>
<line x1="199.20" y1="259.70" x2="199.20" y2="261.90" stroke="#444" stroke-width="0.7"/>
<line x1="212.20" y1="259.70" x2="212.20" y2="261.90" stroke="#444" stroke-width="0.7"/>
<line x1="225.20" y1="259.70" x2="225.20" y2="261.90" stroke="#444" stroke-width="0.7"/>
<line x1="238.20" y1="259.70" x2="238.20" y2="261.90" stroke="#444" stroke-width="0.7"/>
<line x1="251.20" y1="259.70" x2="251.20" y2="261.90" stroke="#444" stroke-width="0.7"/>
<line x1="264.20" y1="259.70" x2="264.20" y2="261.90" stroke="#444" stroke-width="0.7"/>
<line x1="277.20" y1="259.70" x2="277.20" y2="261.90" stroke="#444" stroke-width="0.7"/>
<line x1="290.20" y1="259.70" x2="290.20" y2="261.90" stroke="#444" stroke-width="0.7"/>
<line x1="303.20" y1="259.70" x2="303.20" y2="261.90" stroke="#444" stroke-width="0.7"/>
<line x1="316.20" y1="259.70" x2="316.20" y2="261.90" stroke="#444" stroke-width="0.7"/>
<line x1="183.70" y1="259.70" x2="185.90" y2="259.70" stroke="#444" stroke-width="0.7"/>
<line x1="183.70" y1="242.00" x2="185.90" y2="242.00" stroke="#444" stroke-width="0.7"/>
<line x1="183.70" y1="224.30" x2="185.90" y2="224.30" stroke="#444" stroke-width="0.7"/>
<line x1="183.70" y1="206.60" x2="185.90" y2="206.60" stroke="#444" stroke-width="0.7"/>
<line x1="183.70" y1="188.90" x2="185.90" y2="188.90" stroke="#444" stroke-width="0.7"/>
<g clip-path="url(#c20)"><g filter="url(#blg)"><g transform="translate(344.70,19.60) scale(5.0308,5.0500)">
<rect x="-1" y="-1" width="6.10" height="1.1" fill="#6683c2"/>
<rect x="5" y="-1" width="2.10" height="1.1" fill="#7da0d1"/>
<rect x="7" y="-1" width="2.10" height="1.1" fill="#98b8dd"/>
<rect x="9" y="-1" width="1.10" height="1.1" fill="#b0cfe9"/>
<rect x="10" y="-1" width="1.10" height="1.1" fill="#98b8dd"/>
<rect x="11" y="-1" width="1.10" height="1.1" fill="#7da0d1"/>
<rect x="12" y="-1" width="2.10" height="1.1" fill="#b0cfe9"/>
<rect x="14" y="-1" width="1.10" height="1.1" fill="#e2eff8"/>
<rect x="15" y="-1" width="1.10" height="1.1" fill="#f1f9de"/>
<rect x="16" y="-1" width="1.10" height="1.1" fill="#e2eff8"/>
<rect x="17" y="-1" width="1.10" height="1.1" fill="#b0cfe9"/>
<rect x="18" y="-1" width="2.10" height="1.1" fill="#c9dff0"/>
<rect x="20" y="-1" width="1.10" height="1.1" fill="#b0cfe9"/>
<rect x="21" y="-1" width="4.10" height="1.1" fill="#7da0d1"/>
<rect x="25" y="-1" width="2.10" height="1.1" fill="#6683c2"/>
<rect x="-1" y="0" width="6.10" height="1.1" fill="#6683c2"/>
<rect x="5" y="0" width="2.10" height="1.1" fill="#7da0d1"/>
<rect x="7" y="0" width="2.10" height="1.1" fill="#98b8dd"/>
<rect x="9" y="0" width="1.10" height="1.1" fill="#b0cfe9"/>
<rect x="10" y="0" width="1.10" height="1.1" fill="#98b8dd"/>
<rect x="11" y="0" width="1.10" height="1.1" fill="#7da0d1"/>
<rect x="12" y="0" width="2.10" height="1.1" fill="#b0cfe9"/>
<rect x="14" y="0" width="1.10" height="1.1" fill="#e2eff8"/>
<rect x="15" y="0" width="1.10" height="1.1" fill="#f1f9de"/>
<rect x="16" y="0" width="1.10" height="1.1" fill="#e2eff8"/>
<rect x="17" y="0" width="1.10" height="1.1" fill="#b0cfe9"/>
<rect x="18" y="0" width="2.10" height="1.1" fill="#c9dff0"/>
<rect x="20" y="0" width="1.10" height="1.1" fill="#b0cfe9"/>
<rect x="21" y="0" width="4.10" height="1.1" fill="#7da0d1"/>
<rect x="25" y="0" width="2.10" height="1.1" fill="#6683c2"/>
<rect x="-1" y="1" width="3.10" height="1.1" fill="#6683c2"/>
<rect x="2" y="1" width="1.10" height="1.1" fill="#5066b3"/>
<rect x="3" y="1" width="2.10" height="1.1" fill="#6683c2"/>
<rect x="5" y="1" width="2.10" height="1.1" fill="#7da0d1"/>
<rect x="7" y="1" width="2.10" height="1.1" fill="#98b8dd"/>
<rect x="9" y="1" width="1.10" height="1.1" fill="#b0cfe9"/>
<rect x="10" y="1" width="1.10" height="1.1" fill="#98b8dd"/>
<rect x="11" y="1" width="1.10" height="1.1" fill="#7da0d1"/>
<rect x="12" y="1" width="2.10" height="1.1" fill="#b0cfe9"/>
<rect x="14" y="1" width="1.10" height="1.1" fill="#e2eff8"/>
<rect x="15" y="1" width="1.10" height="1.1" fill="#f1f9de"/>
<rect x="16" y="1" width="1.10" height="1.1" fill="#e2eff8"/>
<rect x="17" y="1" width="1.10" height="1.1" fill="#b0cfe9"/>
<rect x="18" y="1" width="2.10" height="1.1" fill="#c9dff0"/>
<rect x="20" y="1" width="1.10" height="1.1" fill="#b0cfe9"/>
<rect x="21" y="1" width="4.10" height="1.1" fill="#7da0d1"/>
<rect x="25" y="1" width="2.10" height="1.1" fill="#6683c2"/>
<rect x="-1" y="2" width="3.10" height="1.1" fill="#6683c2"/>
<rect x="2" y="2" width="2.10" height="1.1" fill="#5066b3"/>
<rect x="4" y="2" width="1.10" height="1.1" fill="#6683c2"/>
<rect x="5" y="2" width="2.10" height="1.1" fill="#7da0d1"/>
<rect x="7" y="2" width="2.10" height="1.1" fill="#98b8dd"/>
<rect x="9" y="2" width="1.10" height="1.1" fill="#b0cfe9"/>
<rect x="10" y="2" width="1.10" height="1.1" fill="#98b8dd"/>
<rect x="11" y="2" width="1.10" height="1.1" fill="#7da0d1"/>
<rect x="12" y="2" width="1.10" height="1.1" fill="#c9dff0"/>
<rect x="13" y="2" width="1.10" height="1.1" fill="#7da0d1"/>
<rect x="14" y="2" width="1.10" height="1.1" fill="#f1f9de"/>
<rect x="15" y="2" width="1.10" height="1.1" fill="#fffec5"/>
<rect x="16" y="2" width="1.10" height="1.1" fill="#e2eff8"/>
<rect x="17" y="2" width="1.10" height="1.1" fill="#b0cfe9"/>
<rect x="18" y="2" width="2.10" height="1.1" fill="#c9dff0"/>
<rect x="20" y="2" width="1.10" height="1.1" fill="#b0cfe9"/>
<rect x="21" y="2" width="1.10" height="1.1" fill="#98b8dd"/>
<rect x="22" y="2" width="5.10" height="1.1" fill="#7da0d1"/>
<rect x="-1" y="3" width="3.10" height="1.1" fill="#6683c2"/>
<rect x="2" y="3" width="2.10" height="1.1" fill="#5066b3"/>
<rect x="4" y="3" width="2.10" height="1.1" fill="#6683c2"/>
<rect x="6" y="3" width="1.10" height="1.1" fill="#7da0d1"/>
<rect x="7" y="3" width="1.10" height="1.1" fill="#98b8dd"/>
<rect x="8" y="3" width="3.10" height="1.1" fill="#b0cfe9"/>
<rect x="11" y="3" width="1.10" height="1.1" fill="#7da0d1"/>
<rect x="12" y="3" width="1.10" height="1.1" fill="#c9dff0"/>
<rect x="13" y="3" width="1.10" height="1.1" fill="#7da0d1"/>
<rect x="14" y="3" width="1.10" height="1.1" fill="#f1f9de"/>
<rect x="15" y="3" width="1.10" height="1.1" fill="#fffec5"/>
<rect x="16" y="3" width="1.10" height="1.1" fill="#fff1b1"/>
<rect x="17" y="3" width="1.10" height="1.1" fill="#b0cfe9"/>
<rect x="18" y="3" width="2.10" height="1.1" fill="#c9dff0"/>
<rect x="20" y="3" width="1.10" height="1.1" fill="#b0cfe9"/>
<rect x="21" y="3" width="2.10" height="1.1" fill="#98b8dd"/>
<rect x="23" y="3" width="4.10" height="1.1" fill="#7da0d1"/>
<rect x="-1" y="4" width="3.10" height="1.1" fill="#6683c2"/>
<rect x="2" y="4" width="2.10" height="1.1" fill="#5066b3"/>
<rect x="4" y="4" width="2.10" height="1.1" fill="#6683c2"/>
<rect x="6" y="4" width="1.10" height="1.1" fill="#7da0d1"/>
<rect x="7" y="4" width="1.10" height="1.1" fill="#98b8dd"/>
<rect x="8" y="4" width="3.10" height="1.1" fill="#b0cfe9"/>
<rect x="11" y="4" width="2.10" height="1.1" fill="#c9dff0"/>
<rect x="13" y="4" width="1.10" height="1.1" fill="#7da0d1"/>
<rect x="14" y="4" width="1.10" height="1.1" fill="#f1f9de"/>
<rect x="15" y="4" width="1.10" height="1.1" fill="#fffec5"/>
<rect x="16" y="4" width="1.10" height="1.1" fill="#fff1b1"/>
<rect x="17" y="4" width="1.10" height="1.1" fill="#b0cfe9"/>
<rect x="18" y="4" width="1.10" height="1.1" fill="#e2eff8"/>
<rect x="19" y="4" width="1.10" height="1.1" fill="#c9dff0"/>
<rect x="20" y="4" width="1.10" height="1.1" fill="#b0cfe9"/>
<rect x="21" y="4" width="4.10" height="1.1" fill="#98b8dd"/>
<rect x="25" y="4" width="2.10" height="1.1" fill="#7da0d1"/>
<rect x="-1" y="5" width="6.10" height="1.1" fill="#6683c2"/>
<rect x="5" y="5" width="2.10" height="1.1" fill="#7da0d1"/>
<rect x="7" y="5" width="1.10" height="1.1" fill="#98b8dd"/>
<rect x="8" y="5" width="1.10" height="1.1" fill="#c9dff0"/>
<rect x="9" y="5" width="3.10" height="1.1" fill="#e2eff8"/>
<rect x="12" y="5" width="2.10" height="1.1" fill="#c9dff0"/>
<rect x="14" y="5" width="1.10" height="1.1" fill="#fffec5"/>
<rect x="15" y="5" width="2.10" height="1.1" fill="#fff1b1"/>
<rect x="17" y="5" width="3.10" height="1.1" fill="#fffec5"/>
<rect x="20" y="5" width="1.10" height="1.1" fill="#f1f9de"/>
<rect x="21" y="5" width="6.10" height="1.1" fill="#98b8dd"/>
<rect x="-1" y="6" width="6.10" height="1.1" fill="#6683c2"/>
<rect x="5" y="6" width="2.10" height="1.1" fill="#7da0d1"/>
<rect x="7" y="6" width="1.10" height="1.1" fill="#b0cfe9"/>
<rect x="8" y="6" width="5.10" height="1.1" fill="#e2eff8"/>
<rect x="13" y="6" width="1.10" height="1.1" fill="#f1f9de"/>
<rect x="14" y="6" width="1.10" height="1.1" fill="#fffec5"/>
<rect x="15" y="6" width="2.10" height="1.1" fill="#fff1b1"/>
<rect x="17" y="6" width="3.10" height="1.1" fill="#fffec5"/>
<rect x="20" y="6" width="1.10" height="1.1" fill="#f1f9de"/>
<rect x="21" y="6" width="1.10" height="1.1" fill="#b0cfe9"/>
<rect x="22" y="6" width="5.10" height="1.1" fill="#98b8dd"/>
<rect x="-1" y="7" width="4.10" height="1.1" fill="#6683c2"/>
<rect x="3" y="7" width="3.10" height="1.1" fill="#7da0d1"/>
<rect x="6" y="7" width="1.10" height="1.1" fill="#98b8dd"/>
<rect x="7" y="7" width="2.10" height="1.1" fill="#c9dff0"/>
<rect x="9" y="7" width="1.10" height="1.1" fill="#e2eff8"/>
<rect x="10" y="7" width="4.10" height="1.1" fill="#fffec5"/>
<rect x="14" y="7" width="6.10" height="1.1" fill="#fff1b1"/>
<rect x="20" y="7" width="1.10" height="1.1" fill="#fffec5"/>
<rect x="21" y="7" width="1.10" height="1.1" fill="#f1f9de"/>
<rect x="22" y="7" width="1.10" height="1.1" fill="#c9dff0"/>
<rect x="23" y="7" width="2.10" height="1.1" fill="#b0cfe9"/>
<rect x="25" y="7" width="2.10" height="1.1" fill="#c9dff0"/>
<rect x="-1" y="8" width="4.10" height="1.1" fill="#6683c2"/>
<rect x="3" y="8" width="2.10" height="1.1" fill="#7da0d1"/>
<rect x="5" y="8" width="2.10" height="1.1" fill="#98b8dd"/>
<rect x="7" y="8" width="2.10" height="1.1" fill="#c9dff0"/>
<rect x="9" y="8" width="1.10" height="1.1" fill="#e2eff8"/>
<rect x="10" y="8" width="2.10" height="1.1" fill="#fffec5"/>
<rect x="12" y="8" width="3.10" height="1.1" fill="#fff1b1"/>
<rect x="15" y="8" width="5.10" height="1.1" fill="#fee39b"/>
<rect x="20" y="8" width="1.10" height="1.1" fill="#fff1b1"/>
<rect x="21" y="8" width="1.10" height="1.1" fill="#f1f9de"/>
<rect x="22" y="8" width="1.10" height="1.1" fill="#c9dff0"/>
<rect x="23" y="8" width="2.10" height="1.1" fill="#b0cfe9"/>
<rect x="25" y="8" width="2.10" height="1.1" fill="#c9dff0"/>
<rect x="-1" y="9" width="4.10" height="1.1" fill="#6683c2"/>
<rect x="3" y="9" width="2.10" height="1.1" fill="#7da0d1"/>
<rect x="5" y="9" width="2.10" height="1.1" fill="#98b8dd"/>
<rect x="7" y="9" width="1.10" height="1.1" fill="#c9dff0"/>
<rect x="8" y="9" width="2.10" height="1.1" fill="#e2eff8"/>
<rect x="10" y="9" width="1.10" height="1.1" fill="#fffec5"/>
<rect x="11" y="9" width="3.10" height="1.1" fill="#fff1b1"/>
<rect x="14" y="9" width="1.10" height="1.1" fill="#fee39b"/>
<rect x="15" y="9" width="1.10" height="1.1" fill="#fdc485"/>
<rect x="16" y="9" width="3.10" height="1.1" fill="#fda170"/>
<rect x="19" y="9" width="1.10" height="1.1" fill="#fdc485"/>
<rect x="20" y="9" width="1.10" height="1.1" fill="#fff1b1"/>
<rect x="21" y="9" width="1.10" height="1.1" fill="#f1f9de"/>
<rect x="22" y="9" width="2.10" height="1.1" fill="#c9dff0"/>
<rect x="24" y="9" width="1.10" height="1.1" fill="#b0cfe9"/>
<rect x="25" y="9" width="2.10" height="1.1" fill="#c9dff0"/>
<rect x="-1" y="10" width="3.10" height="1.1" fill="#6683c2"/>
<rect x="2" y="10" width="3.10" height="1.1" fill="#7da0d1"/>
<rect x="5" y="10" width="2.10" height="1.1" fill="#98b8dd"/>
<rect x="7" y="10" width="1.10" height="1.1" fill="#c9dff0"/>
<rect x="8" y="10" width="2.10" height="1.1" fill="#e2eff8"/>
<rect x="10" y="10" width="1.10" height="1.1" fill="#fffec5"/>
<rect x="11" y="10" width="3.10" height="1.1" fill="#fff1b1"/>
<rect x="14" y="10" width="1.10" height="1.1" fill="#fee39b"/>
<rect x="15" y="10" width="1.10" height="1.1" fill="#fdc485"/>
<rect x="16" y="10" width="1.10" height="1.1" fill="#fda170"/>
<rect x="17" y="10" width="1.10" height="1.1" fill="#f87862"/>
<rect x="18" y="10" width="1.10" height="1.1" fill="#fda170"/>
<rect x="19" y="10" width="1.10" height="1.1" fill="#fdc485"/>
<rect x="20" y="10" width="1.10" height="1.1" fill="#fff1b1"/>
<rect x="21" y="10" width="1.10" height="1.1" fill="#f1f9de"/>
<rect x="22" y="10" width="2.10" height="1.1" fill="#c9dff0"/>
<rect x="24" y="10" width="1.10" height="1.1" fill="#b0cfe9"/>
<rect x="25" y="10" width="2.10" height="1.1" fill="#e2eff8"/>
<rect x="-1" y="11" width="3.10" height="1.1" fill="#6683c2"/>
<rect x="2" y="11" width="3.10" height="1.1" fill="#7da0d1"/>
<rect x="5" y="11" width="2.10" height="1.1" fill="#98b8dd"/>
<rect x="7" y="11" width="1.10" height="1.1" fill="#c9dff0"/>
<rect x="8" y="11" width="2.10" height="1.1" fill="#e2eff8"/>
<rect x="10" y="11" width="1.10" height="1.1" fill="#f1f9de"/>
<rect x="11" y="11" width="3.10" height="1.1" fill="#fff1b1"/>
<rect x="14" y="11" width="1.10" height="1.1" fill="#fee39b"/>
<rect x="15" y="11" width="1.10" height="1.1" fill="#fdc485"/>
<rect x="16" y="11" width="1.10" height="1.1" fill="#fda170"/>
<rect x="17" y="11" width="1.10" height="1.1" fill="#f87862"/>
<rect x="18" y="11" width="1.10" height="1.1" fill="#fda170"/>
<rect x="19" y="11" width="1.10" height="1.1" fill="#fdc485"/>
<rect x="20" y="11" width="1.10" height="1.1" fill="#f1f9de"/>
<rect x="21" y="11" width="2.10" height="1.1" fill="#c9dff0"/>
<rect x="23" y="11" width="2.10" height="1.1" fill="#b0cfe9"/>
<rect x="25" y="11" width="2.10" height="1.1" fill="#fffec5"/>
<rect x="-1" y="12" width="2.10" height="1.1" fill="#5066b3"/>
<rect x="1" y="12" width="2.10" height="1.1" fill="#6683c2"/>
<rect x="3" y="12" width="3.10" height="1.1" fill="#7da0d1"/>
<rect x="6" y="12" width="1.10" height="1.1" fill="#98b8dd"/>
<rect x="7" y="12" width="2.10" height="1.1" fill="#c9dff0"/>
<rect x="9" y="12" width="1.10" height="1.1" fill="#e2eff8"/>
<rect x="10" y="12" width="1.10" height="1.1" fill="#f1f9de"/>
<rect x="11" y="12" width="1.10" height="1.1" fill="#fffec5"/>
<rect x="12" y="12" width="2.10" height="1.1" fill="#fff1b1"/>
<rect x="14" y="12" width="1.10" height="1.1" fill="#fee39b"/>
<rect x="15" y="12" width="1.10" height="1.1" fill="#fdc485"/>
<rect x="16" y="12" width="1.10" height="1.1" fill="#fda170"/>
<rect x="17" y="12" width="1.10" height="1.1" fill="#f87862"/>
<rect x="18" y="12" width="1.10" height="1.1" fill="#fda170"/>
<rect x="19" y="12" width="1.10" height="1.1" fill="#fdc485"/>
<rect x="20" y="12" width="1.10" height="1.1" fill="#e2eff8"/>
<rect x="21" y="12" width="2.10" height="1.1" fill="#c9dff0"/>
<rect x="23" y="12" width="2.10" height="1.1" fill="#b0cfe9"/>
<rect x="25" y="12" width="2.10" height="1.1" fill="#fffec5"/>
<rect x="-1" y="13" width="2.10" height="1.1" fill="#5066b3"/>
<rect x="1" y="13" width="2.10" height="1.1" fill="#6683c2"/>
<rect x="3" y="13" width="3.10" height="1.1" fill="#7da0d1"/>
<rect x="6" y="13" width="1.10" height="1.1" fill="#98b8dd"/>
<rect x="7" y="13" width="1.10" height="1.1" fill="#b0cfe9"/>
<rect x="8" y="13" width="1.10" height="1.1" fill="#c9dff0"/>
<rect x="9" y="13" width="1.10" height="1.1" fill="#e2eff8"/>
<rect x="10" y="13" width="1.10" height="1.1" fill="#f1f9de"/>
<rect x="11" y="13" width="2.10" height="1.1" fill="#fffec5"/>
<rect x="13" y="13" width="1.10" height="1.1" fill="#fff1b1"/>
<rect x="14" y="13" width="1.10" height="1.1" fill="#fee39b"/>
<rect x="15" y="13" width="1.10" height="1.1" fill="#fdc485"/>
<rect x="16" y="13" width="1.10" height="1.1" fill="#fda170"/>
<rect x="17" y="13" width="1.10" height="1.1" fill="#f87862"/>
<rect x="18" y="13" width="1.10" height="1.1" fill="#fda170"/>
<rect x="19" y="13" width="1.10" height="1.1" fill="#fdc485"/>
<rect x="20" y="13" width="1.10" height="1.1" fill="#e2eff8"/>
<rect x="21" y="13" width="2.10" height="1.1" fill="#c9dff0"/>
<rect x="23" y="13" width="2.10" height="1.1" fill="#b0cfe9"/>
<rect x="25" y="13" width="2.10" height="1.1" fill="#f1f9de"/>
<rect x="-1" y="14" width="2.10" height="1.1" fill="#5066b3"/>
<rect x="1" y="14" width="2.10" height="1.1" fill="#6683c2"/>
<rect x="3" y="14" width="3.10" height="1.1" fill="#7da0d1"/>
<rect x="6" y="14" width="1.10" height="1.1" fill="#98b8dd"/>
<rect x="7" y="14" width="1.10" height="1.1" fill="#b0cfe9"/>
<rect x="8" y="14" width="1.10" height="1.1" fill="#c9dff0"/>
<rect x="9" y="14" width="1.10" height="1.1" fill="#e2eff8"/>
<rect x="10" y="14" width="1.10" height="1.1" fill="#f1f9de"/>
<rect x="11" y="14" width="2.10" height="1.1" fill="#fffec5"/>
<rect x="13" y="14" width="1.10" height="1.1" fill="#fff1b1"/>
<rect x="14" y="14" width="1.10" height="1.1" fill="#fee39b"/>
<rect x="15" y="14" width="1.10" height="1.1" fill="#fdc485"/>
<rect x="16" y="14" width="1.10" height="1.1" fill="#fda170"/>
<rect x="17" y="14" width="1.10" height="1.1" fill="#f87862"/>
<rect x="18" y="14" width="1.10" height="1.1" fill="#fda170"/>
<rect x="19" y="14" width="1.10" height="1.1" fill="#fdc485"/>
<rect x="20" y="14" width="1.10" height="1.1" fill="#e2eff8"/>
<rect x="21" y="14" width="2.10" height="1.1" fill="#c9dff0"/>
<rect x="23" y="14" width="2.10" height="1.1" fill="#b0cfe9"/>
<rect x="25" y="14" width="2.10" height="1.1" fill="#f1f9de"/>
</g></g></g>
<g stroke="#a8a8a8" stroke-width="0.45" opacity="0.4">
<line x1="355.00" y1="19.60" x2="355.00" y2="90.30"/>
<line x1="368.09" y1="19.60" x2="368.09" y2="90.30"/>
<line x1="381.18" y1="19.60" x2="381.18" y2="90.30"/>
<line x1="394.27" y1="19.60" x2="394.27" y2="90.30"/>
<line x1="407.36" y1="19.60" x2="407.36" y2="90.30"/>
<line x1="420.44" y1="19.60" x2="420.44" y2="90.30"/>
<line x1="433.53" y1="19.60" x2="433.53" y2="90.30"/>
<line x1="446.62" y1="19.60" x2="446.62" y2="90.30"/>
<line x1="459.71" y1="19.60" x2="459.71" y2="90.30"/>
<line x1="472.80" y1="19.60" x2="472.80" y2="90.30"/>
<line x1="344.70" y1="72.62" x2="475.50" y2="72.62"/>
<line x1="344.70" y1="54.95" x2="475.50" y2="54.95"/>
<line x1="344.70" y1="37.28" x2="475.50" y2="37.28"/>
</g>
<g clip-path="url(#c20)" fill="none" stroke-width="1.25">
<path d="M369.80,67.40 C371.32,67.40 374.30,72.60 374.30,75.20 C374.30,77.80 371.32,83.00 369.80,83.00 C368.28,83.00 365.20,77.80 365.20,75.20 C365.20,72.60 368.28,67.40 369.80,67.40 Z" stroke="#e5322d" stroke-dasharray="2.2,1.2"/>
<path d="M382.10,91.00 C382.42,88.90 384.00,82.23 384.00,78.40 C384.00,74.57 382.10,71.03 382.10,68.00 C382.10,64.97 383.68,63.38 384.00,60.20 C384.32,57.02 383.57,51.53 384.00,48.90 C384.43,46.27 385.52,45.15 386.60,44.40 C387.68,43.65 389.52,43.43 390.50,44.40 C391.48,45.37 392.17,46.48 392.50,50.20 C392.83,53.92 392.18,63.52 392.50,66.70 C392.82,69.88 393.43,67.35 394.40,69.30 C395.37,71.25 397.22,75.80 398.30,78.40 C399.38,81.00 400.68,82.80 400.90,84.90 C401.12,87.00 399.82,89.98 399.60,91.00" stroke="#e5322d" stroke-dasharray="2.2,1.2"/>
<path d="M386.60,84.90 C386.82,83.60 387.25,79.15 387.90,77.10 C388.55,75.05 389.42,73.03 390.50,72.60 C391.58,72.17 393.32,73.32 394.40,74.50 C395.48,75.68 396.35,77.97 397.00,79.70 C397.65,81.43 398.08,84.03 398.30,84.90" stroke="#e5322d"/>
<path d="M409.00,35.90 C409.17,36.92 410.00,39.83 410.00,42.00 C410.00,44.17 409.17,47.75 409.00,48.90" stroke="#2a2ae6" stroke-dasharray="2.2,1.2"/>
<path d="M414.00,29.60 C414.88,29.60 416.60,35.35 416.60,38.20 C416.60,41.05 414.88,46.70 414.00,46.70 C413.12,46.70 411.30,41.05 411.30,38.20 C411.30,35.35 413.12,29.60 414.00,29.60 Z" stroke="#e5322d" stroke-dasharray="2.2,1.2"/>
<path d="M413.00,46.70 C413.17,48.08 414.07,51.85 414.00,55.00 C413.93,58.15 413.02,62.27 412.60,65.60 C412.18,68.93 411.50,72.37 411.50,75.00 C411.50,77.63 412.42,80.33 412.60,81.40" stroke="#e5322d" stroke-dasharray="2.2,1.2"/>
<path d="M411.00,36.20 C411.17,37.67 412.08,42.82 412.00,45.00 C411.92,47.18 410.75,48.58 410.50,49.30" stroke="#2a2ae6" stroke-dasharray="2.2,1.2"/>
<path d="M423.20,38.80 C423.75,39.33 426.45,41.13 426.50,42.00 C426.55,42.87 423.58,43.22 423.50,44.00 C423.42,44.78 425.58,46.25 426.00,46.70" stroke="#e5322d" stroke-dasharray="2.2,1.2"/>
<path d="M429.80,19.00 C429.15,20.55 428.93,25.20 428.50,29.60 C428.07,34.00 427.20,41.17 427.20,45.40 C427.20,49.63 428.50,52.23 428.50,55.00 C428.50,57.77 426.77,59.37 427.20,62.00 C427.63,64.63 430.45,71.97 431.10,70.80 C431.75,69.63 431.22,59.30 431.10,55.00 C430.98,50.70 430.40,48.37 430.40,45.00 C430.40,41.63 430.77,38.92 431.10,34.80 C431.43,30.68 432.62,22.93 432.40,20.30 C432.18,17.67 430.45,17.45 429.80,19.00 Z" stroke="#2a2ae6" stroke-dasharray="2.2,1.2"/>
<path d="M440.30,19.00 C439.98,20.77 439.17,26.30 438.40,29.60 C437.63,32.90 436.03,35.52 435.70,38.80 C435.37,42.08 436.18,46.60 436.40,49.30 C436.62,52.00 437.00,52.38 437.00,55.00 C437.00,57.62 435.62,62.58 436.40,65.00 C437.18,67.42 440.85,71.17 441.70,69.50 C442.55,67.83 441.50,59.92 441.50,55.00 C441.50,50.08 441.62,45.00 441.70,40.00 C441.78,35.00 441.95,27.50 442.00,25.00" stroke="#2a2ae6" stroke-dasharray="2.2,1.2"/>
<path d="M446.90,29.60 C447.13,30.03 447.97,30.67 448.30,32.20 C448.63,33.73 448.68,37.27 448.90,38.80 C449.12,40.33 449.05,41.18 449.60,41.40 C450.15,41.62 451.65,39.43 452.20,40.10 C452.75,40.77 452.90,42.92 452.90,45.40 C452.90,47.88 452.10,51.20 452.20,55.00 C452.30,58.80 453.28,64.90 453.50,68.20 C453.72,71.50 454.37,73.05 453.50,74.80 C452.63,76.55 449.83,77.60 448.30,78.70 C446.77,79.80 444.08,80.73 444.30,81.40 C444.52,82.07 447.83,82.05 449.60,82.70 C451.37,83.35 454.02,84.87 454.90,85.30" stroke="#e5322d" stroke-dasharray="2.2,1.2"/>
<path d="M448.30,32.20 C448.07,34.40 447.02,41.60 446.90,45.40 C446.78,49.20 446.93,51.20 447.60,55.00 C448.27,58.80 450.35,66.00 450.90,68.20" stroke="#e5322d" stroke-dasharray="2.2,1.2"/>
<path d="M462.80,48.00 C463.45,47.35 465.38,43.88 466.70,44.10 C468.02,44.32 469.38,48.87 470.70,49.30 C472.02,49.73 473.95,47.13 474.60,46.70" stroke="#2a2ae6" stroke-dasharray="2.2,1.2"/>
<path d="M416.60,68.20 C417.47,68.20 419.20,72.22 419.20,74.20 C419.20,76.18 417.47,80.10 416.60,80.10 C415.73,80.10 414.00,76.18 414.00,74.20 C414.00,72.22 415.73,68.20 416.60,68.20 Z" stroke="#2a2ae6" stroke-dasharray="2.2,1.2"/>
<path d="M416.60,55.00 L419.90,61.60" stroke="#2a2ae6" stroke-dasharray="2.2,1.2"/>
<path d="M425.50,77.40 C426.50,77.40 428.50,80.55 428.50,82.10 C428.50,83.65 426.50,86.70 425.50,86.70 C424.50,86.70 422.50,83.65 422.50,82.10 C422.50,80.55 424.50,77.40 425.50,77.40 Z" stroke="#e5322d" stroke-dasharray="2.2,1.2"/>
<path d="M462.80,55.00 C462.68,57.20 462.32,64.02 462.10,68.20 C461.88,72.38 461.60,78.12 461.50,80.10" stroke="#2a2ae6" stroke-dasharray="2.2,1.2"/>
<path d="M468.00,70.00 C467.00,70.67 465.67,73.67 466.00,76.00 C466.33,78.33 468.67,83.33 470.00,84.00 C471.33,84.67 473.67,82.00 474.00,80.00 C474.33,78.00 473.00,73.67 472.00,72.00 C471.00,70.33 469.00,69.33 468.00,70.00 Z" stroke="#2a2ae6" stroke-dasharray="2.2,1.2"/>
<path d="M471.00,68.20 C471.33,69.33 472.40,72.37 473.00,75.00 C473.60,77.63 474.33,82.50 474.60,84.00" stroke="#2a2ae6"/>
<path d="M435.40,82.40 L436.00,83.00" stroke="#e5322d"/>
<path d="M401.90,57.90 C402.63,57.90 404.10,61.42 404.10,63.20 C404.10,64.98 402.63,68.60 401.90,68.60 C401.17,68.60 399.70,64.98 399.70,63.20 C399.70,61.42 401.17,57.90 401.90,57.90 Z" stroke="#2a2ae6" stroke-dasharray="2.2,1.2"/>
<path d="M416.70,68.60 C417.60,68.60 419.40,72.72 419.40,74.80 C419.40,76.88 417.60,81.10 416.70,81.10 C415.80,81.10 414.00,76.88 414.00,74.80 C414.00,72.72 415.80,68.60 416.70,68.60 Z" stroke="#2a2ae6" stroke-dasharray="2.2,1.2"/>
<path d="M410.90,66.00 C411.65,66.00 413.10,70.98 413.10,73.50 C413.10,76.02 411.65,81.10 410.90,81.10 C410.15,81.10 408.60,76.02 408.60,73.50 C408.60,70.98 410.15,66.00 410.90,66.00 Z" stroke="#e5322d" stroke-dasharray="2.2,1.2"/>
<path d="M406.80,49.00 C407.40,49.00 408.60,51.33 408.60,52.50 C408.60,53.67 407.40,56.00 406.80,56.00 C406.20,56.00 405.00,53.67 405.00,52.50 C405.00,51.33 406.20,49.00 406.80,49.00 Z" stroke="#e5322d" stroke-dasharray="2.2,1.2"/>
<path d="M417.60,52.50 C418.20,52.50 419.40,56.10 419.40,57.90 C419.40,59.70 418.20,63.30 417.60,63.30 C417.00,63.30 415.80,59.70 415.80,57.90 C415.80,56.10 417.00,52.50 417.60,52.50 Z" stroke="#2a2ae6" stroke-dasharray="2.2,1.2"/>
<path d="M444.90,56.00 C445.35,56.00 446.20,59.00 446.20,60.50 C446.20,62.00 445.35,65.00 444.90,65.00 C444.45,65.00 443.50,62.00 443.50,60.50 C443.50,59.00 444.45,56.00 444.90,56.00 Z" stroke="#2a2ae6" stroke-dasharray="2.2,1.2"/>
</g>
<line x1="381.60" y1="19.60" x2="381.60" y2="90.30" stroke="#222" stroke-width="0.7" stroke-dasharray="1.2,1"/>
<line x1="394.40" y1="19.60" x2="394.40" y2="90.30" stroke="#222" stroke-width="0.7" stroke-dasharray="1.2,1"/>
<line x1="433.90" y1="19.60" x2="433.90" y2="90.30" stroke="#222" stroke-width="0.7" stroke-dasharray="1.2,1"/>
<line x1="440.80" y1="19.60" x2="440.80" y2="90.30" stroke="#222" stroke-width="0.7" stroke-dasharray="1.2,1"/>
<rect x="344.70" y="19.60" width="130.80" height="70.70" fill="none" stroke="#555" stroke-width="0.8"/>
<line x1="355.00" y1="90.30" x2="355.00" y2="92.50" stroke="#444" stroke-width="0.7"/>
<line x1="368.09" y1="90.30" x2="368.09" y2="92.50" stroke="#444" stroke-width="0.7"/>
<line x1="381.18" y1="90.30" x2="381.18" y2="92.50" stroke="#444" stroke-width="0.7"/>
<line x1="394.27" y1="90.30" x2="394.27" y2="92.50" stroke="#444" stroke-width="0.7"/>
<line x1="407.36" y1="90.30" x2="407.36" y2="92.50" stroke="#444" stroke-width="0.7"/>
<line x1="420.44" y1="90.30" x2="420.44" y2="92.50" stroke="#444" stroke-width="0.7"/>
<line x1="433.53" y1="90.30" x2="433.53" y2="92.50" stroke="#444" stroke-width="0.7"/>
<line x1="446.62" y1="90.30" x2="446.62" y2="92.50" stroke="#444" stroke-width="0.7"/>
<line x1="459.71" y1="90.30" x2="459.71" y2="92.50" stroke="#444" stroke-width="0.7"/>
<line x1="472.80" y1="90.30" x2="472.80" y2="92.50" stroke="#444" stroke-width="0.7"/>
<line x1="342.50" y1="90.30" x2="344.70" y2="90.30" stroke="#444" stroke-width="0.7"/>
<line x1="342.50" y1="72.62" x2="344.70" y2="72.62" stroke="#444" stroke-width="0.7"/>
<line x1="342.50" y1="54.95" x2="344.70" y2="54.95" stroke="#444" stroke-width="0.7"/>
<line x1="342.50" y1="37.28" x2="344.70" y2="37.28" stroke="#444" stroke-width="0.7"/>
<line x1="342.50" y1="19.60" x2="344.70" y2="19.60" stroke="#444" stroke-width="0.7"/>
<g clip-path="url(#c21)"><g filter="url(#blh)"><g transform="translate(344.70,104.20) scale(5.0308,5.0500)">
<rect x="-1" y="-1" width="9.10" height="1.1" fill="#6683c2"/>
<rect x="8" y="-1" width="2.10" height="1.1" fill="#98b8dd"/>
<rect x="10" y="-1" width="4.10" height="1.1" fill="#b0cfe9"/>
<rect x="14" y="-1" width="1.10" height="1.1" fill="#c9dff0"/>
<rect x="15" y="-1" width="2.10" height="1.1" fill="#e2eff8"/>
<rect x="17" y="-1" width="1.10" height="1.1" fill="#b0cfe9"/>
<rect x="18" y="-1" width="1.10" height="1.1" fill="#c9dff0"/>
<rect x="19" y="-1" width="1.10" height="1.1" fill="#98b8dd"/>
<rect x="20" y="-1" width="7.10" height="1.1" fill="#7da0d1"/>
<rect x="-1" y="0" width="9.10" height="1.1" fill="#6683c2"/>
<rect x="8" y="0" width="2.10" height="1.1" fill="#98b8dd"/>
<rect x="10" y="0" width="4.10" height="1.1" fill="#b0cfe9"/>
<rect x="14" y="0" width="1.10" height="1.1" fill="#c9dff0"/>
<rect x="15" y="0" width="2.10" height="1.1" fill="#e2eff8"/>
<rect x="17" y="0" width="1.10" height="1.1" fill="#b0cfe9"/>
<rect x="18" y="0" width="1.10" height="1.1" fill="#c9dff0"/>
<rect x="19" y="0" width="1.10" height="1.1" fill="#98b8dd"/>
<rect x="20" y="0" width="7.10" height="1.1" fill="#7da0d1"/>
<rect x="-1" y="1" width="9.10" height="1.1" fill="#6683c2"/>
<rect x="8" y="1" width="2.10" height="1.1" fill="#98b8dd"/>
<rect x="10" y="1" width="4.10" height="1.1" fill="#b0cfe9"/>
<rect x="14" y="1" width="1.10" height="1.1" fill="#c9dff0"/>
<rect x="15" y="1" width="2.10" height="1.1" fill="#e2eff8"/>
<rect x="17" y="1" width="1.10" height="1.1" fill="#b0cfe9"/>
<rect x="18" y="1" width="1.10" height="1.1" fill="#c9dff0"/>
<rect x="19" y="1" width="1.10" height="1.1" fill="#98b8dd"/>
<rect x="20" y="1" width="7.10" height="1.1" fill="#7da0d1"/>
<rect x="-1" y="2" width="9.10" height="1.1" fill="#6683c2"/>
<rect x="8" y="2" width="2.10" height="1.1" fill="#98b8dd"/>
<rect x="10" y="2" width="4.10" height="1.1" fill="#b0cfe9"/>
<rect x="14" y="2" width="1.10" height="1.1" fill="#c9dff0"/>
<rect x="15" y="2" width="2.10" height="1.1" fill="#e2eff8"/>
<rect x="17" y="2" width="1.10" height="1.1" fill="#b0cfe9"/>
<rect x="18" y="2" width="1.10" height="1.1" fill="#c9dff0"/>
<rect x="19" y="2" width="1.10" height="1.1" fill="#98b8dd"/>
<rect x="20" y="2" width="7.10" height="1.1" fill="#7da0d1"/>
<rect x="-1" y="3" width="9.10" height="1.1" fill="#6683c2"/>
<rect x="8" y="3" width="1.10" height="1.1" fill="#98b8dd"/>
<rect x="9" y="3" width="2.10" height="1.1" fill="#b0cfe9"/>
<rect x="11" y="3" width="2.10" height="1.1" fill="#c9dff0"/>
<rect x="13" y="3" width="1.10" height="1.1" fill="#98b8dd"/>
<rect x="14" y="3" width="1.10" height="1.1" fill="#e2eff8"/>
<rect x="15" y="3" width="1.10" height="1.1" fill="#fff1b1"/>
<rect x="16" y="3" width="1.10" height="1.1" fill="#fffec5"/>
<rect x="17" y="3" width="1.10" height="1.1" fill="#b0cfe9"/>
<rect x="18" y="3" width="1.10" height="1.1" fill="#c9dff0"/>
<rect x="19" y="3" width="2.10" height="1.1" fill="#98b8dd"/>
<rect x="21" y="3" width="6.10" height="1.1" fill="#7da0d1"/>
<rect x="-1" y="4" width="9.10" height="1.1" fill="#6683c2"/>
<rect x="8" y="4" width="2.10" height="1.1" fill="#b0cfe9"/>
<rect x="10" y="4" width="3.10" height="1.1" fill="#c9dff0"/>
<rect x="13" y="4" width="1.10" height="1.1" fill="#98b8dd"/>
<rect x="14" y="4" width="1.10" height="1.1" fill="#e2eff8"/>
<rect x="15" y="4" width="1.10" height="1.1" fill="#fff1b1"/>
<rect x="16" y="4" width="1.10" height="1.1" fill="#fffec5"/>
<rect x="17" y="4" width="1.10" height="1.1" fill="#b0cfe9"/>
<rect x="18" y="4" width="1.10" height="1.1" fill="#c9dff0"/>
<rect x="19" y="4" width="4.10" height="1.1" fill="#98b8dd"/>
<rect x="23" y="4" width="4.10" height="1.1" fill="#7da0d1"/>
<rect x="-1" y="5" width="7.10" height="1.1" fill="#6683c2"/>
<rect x="6" y="5" width="1.10" height="1.1" fill="#7da0d1"/>
<rect x="7" y="5" width="1.10" height="1.1" fill="#98b8dd"/>
<rect x="8" y="5" width="6.10" height="1.1" fill="#c9dff0"/>
<rect x="14" y="5" width="1.10" height="1.1" fill="#e2eff8"/>
<rect x="15" y="5" width="3.10" height="1.1" fill="#fee39b"/>
<rect x="18" y="5" width="2.10" height="1.1" fill="#fff1b1"/>
<rect x="20" y="5" width="3.10" height="1.1" fill="#c9dff0"/>
<rect x="23" y="5" width="4.10" height="1.1" fill="#98b8dd"/>
<rect x="-1" y="6" width="8.10" height="1.1" fill="#7da0d1"/>
<rect x="7" y="6" width="1.10" height="1.1" fill="#98b8dd"/>
<rect x="8" y="6" width="6.10" height="1.1" fill="#c9dff0"/>
<rect x="14" y="6" width="1.10" height="1.1" fill="#e2eff8"/>
<rect x="15" y="6" width="3.10" height="1.1" fill="#fee39b"/>
<rect x="18" y="6" width="2.10" height="1.1" fill="#fff1b1"/>
<rect x="20" y="6" width="3.10" height="1.1" fill="#c9dff0"/>
<rect x="23" y="6" width="4.10" height="1.1" fill="#98b8dd"/>
<rect x="-1" y="7" width="6.10" height="1.1" fill="#7da0d1"/>
<rect x="5" y="7" width="2.10" height="1.1" fill="#98b8dd"/>
<rect x="7" y="7" width="1.10" height="1.1" fill="#b0cfe9"/>
<rect x="8" y="7" width="3.10" height="1.1" fill="#c9dff0"/>
<rect x="11" y="7" width="2.10" height="1.1" fill="#e2eff8"/>
<rect x="13" y="7" width="1.10" height="1.1" fill="#c9dff0"/>
<rect x="14" y="7" width="1.10" height="1.1" fill="#e2eff8"/>
<rect x="15" y="7" width="3.10" height="1.1" fill="#fee39b"/>
<rect x="18" y="7" width="2.10" height="1.1" fill="#fff1b1"/>
<rect x="20" y="7" width="3.10" height="1.1" fill="#c9dff0"/>
<rect x="23" y="7" width="4.10" height="1.1" fill="#98b8dd"/>
<rect x="-1" y="8" width="6.10" height="1.1" fill="#7da0d1"/>
<rect x="5" y="8" width="2.10" height="1.1" fill="#98b8dd"/>
<rect x="7" y="8" width="1.10" height="1.1" fill="#b0cfe9"/>
<rect x="8" y="8" width="2.10" height="1.1" fill="#e2eff8"/>
<rect x="10" y="8" width="5.10" height="1.1" fill="#fffec5"/>
<rect x="15" y="8" width="1.10" height="1.1" fill="#fdc485"/>
<rect x="16" y="8" width="2.10" height="1.1" fill="#fda170"/>
<rect x="18" y="8" width="2.10" height="1.1" fill="#fee39b"/>
<rect x="20" y="8" width="3.10" height="1.1" fill="#c9dff0"/>
<rect x="23" y="8" width="4.10" height="1.1" fill="#b0cfe9"/>
<rect x="-1" y="9" width="6.10" height="1.1" fill="#7da0d1"/>
<rect x="5" y="9" width="2.10" height="1.1" fill="#98b8dd"/>
<rect x="7" y="9" width="1.10" height="1.1" fill="#b0cfe9"/>
<rect x="8" y="9" width="1.10" height="1.1" fill="#e2eff8"/>
<rect x="9" y="9" width="1.10" height="1.1" fill="#f1f9de"/>
<rect x="10" y="9" width="5.10" height="1.1" fill="#fffec5"/>
<rect x="15" y="9" width="3.10" height="1.1" fill="#fda170"/>
<rect x="18" y="9" width="2.10" height="1.1" fill="#fee39b"/>
<rect x="20" y="9" width="3.10" height="1.1" fill="#c9dff0"/>
<rect x="23" y="9" width="4.10" height="1.1" fill="#b0cfe9"/>
<rect x="-1" y="10" width="6.10" height="1.1" fill="#7da0d1"/>
<rect x="5" y="10" width="2.10" height="1.1" fill="#98b8dd"/>
<rect x="7" y="10" width="1.10" height="1.1" fill="#b0cfe9"/>
<rect x="8" y="10" width="1.10" height="1.1" fill="#e2eff8"/>
<rect x="9" y="10" width="1.10" height="1.1" fill="#f1f9de"/>
<rect x="10" y="10" width="2.10" height="1.1" fill="#fffec5"/>
<rect x="12" y="10" width="1.10" height="1.1" fill="#fff1b1"/>
<rect x="13" y="10" width="2.10" height="1.1" fill="#fffec5"/>
<rect x="15" y="10" width="3.10" height="1.1" fill="#fda170"/>
<rect x="18" y="10" width="2.10" height="1.1" fill="#fee39b"/>
<rect x="20" y="10" width="3.10" height="1.1" fill="#c9dff0"/>
<rect x="23" y="10" width="4.10" height="1.1" fill="#b0cfe9"/>
<rect x="-1" y="11" width="6.10" height="1.1" fill="#7da0d1"/>
<rect x="5" y="11" width="2.10" height="1.1" fill="#98b8dd"/>
<rect x="7" y="11" width="1.10" height="1.1" fill="#b0cfe9"/>
<rect x="8" y="11" width="2.10" height="1.1" fill="#f1f9de"/>
<rect x="10" y="11" width="1.10" height="1.1" fill="#fffec5"/>
<rect x="11" y="11" width="2.10" height="1.1" fill="#fff1b1"/>
<rect x="13" y="11" width="2.10" height="1.1" fill="#fee39b"/>
<rect x="15" y="11" width="3.10" height="1.1" fill="#f87862"/>
<rect x="18" y="11" width="2.10" height="1.1" fill="#fdc485"/>
<rect x="20" y="11" width="1.10" height="1.1" fill="#f1f9de"/>
<rect x="21" y="11" width="2.10" height="1.1" fill="#c9dff0"/>
<rect x="23" y="11" width="4.10" height="1.1" fill="#b0cfe9"/>
<rect x="-1" y="12" width="6.10" height="1.1" fill="#7da0d1"/>
<rect x="5" y="12" width="2.10" height="1.1" fill="#98b8dd"/>
<rect x="7" y="12" width="1.10" height="1.1" fill="#b0cfe9"/>
<rect x="8" y="12" width="2.10" height="1.1" fill="#f1f9de"/>
<rect x="10" y="12" width="1.10" height="1.1" fill="#fffec5"/>
<rect x="11" y="12" width="2.10" height="1.1" fill="#fff1b1"/>
<rect x="13" y="12" width="2.10" height="1.1" fill="#fee39b"/>
<rect x="15" y="12" width="3.10" height="1.1" fill="#f87862"/>
<rect x="18" y="12" width="2.10" height="1.1" fill="#fdc485"/>
<rect x="20" y="12" width="1.10" height="1.1" fill="#f1f9de"/>
<rect x="21" y="12" width="2.10" height="1.1" fill="#c9dff0"/>
<rect x="23" y="12" width="4.10" height="1.1" fill="#b0cfe9"/>
<rect x="-1" y="13" width="5.10" height="1.1" fill="#6683c2"/>
<rect x="4" y="13" width="2.10" height="1.1" fill="#7da0d1"/>
<rect x="6" y="13" width="1.10" height="1.1" fill="#98b8dd"/>
<rect x="7" y="13" width="1.10" height="1.1" fill="#b0cfe9"/>
<rect x="8" y="13" width="2.10" height="1.1" fill="#f1f9de"/>
<rect x="10" y="13" width="1.10" height="1.1" fill="#fffec5"/>
<rect x="11" y="13" width="2.10" height="1.1" fill="#fff1b1"/>
<rect x="13" y="13" width="2.10" height="1.1" fill="#fee39b"/>
<rect x="15" y="13" width="3.10" height="1.1" fill="#f87862"/>
<rect x="18" y="13" width="2.10" height="1.1" fill="#fdc485"/>
<rect x="20" y="13" width="1.10" height="1.1" fill="#f1f9de"/>
<rect x="21" y="13" width="2.10" height="1.1" fill="#c9dff0"/>
<rect x="23" y="13" width="4.10" height="1.1" fill="#b0cfe9"/>
<rect x="-1" y="14" width="5.10" height="1.1" fill="#6683c2"/>
<rect x="4" y="14" width="2.10" height="1.1" fill="#7da0d1"/>
<rect x="6" y="14" width="1.10" height="1.1" fill="#98b8dd"/>
<rect x="7" y="14" width="1.10" height="1.1" fill="#b0cfe9"/>
<rect x="8" y="14" width="2.10" height="1.1" fill="#f1f9de"/>
<rect x="10" y="14" width="1.10" height="1.1" fill="#fffec5"/>
<rect x="11" y="14" width="2.10" height="1.1" fill="#fff1b1"/>
<rect x="13" y="14" width="2.10" height="1.1" fill="#fee39b"/>
<rect x="15" y="14" width="3.10" height="1.1" fill="#f87862"/>
<rect x="18" y="14" width="2.10" height="1.1" fill="#fdc485"/>
<rect x="20" y="14" width="1.10" height="1.1" fill="#f1f9de"/>
<rect x="21" y="14" width="2.10" height="1.1" fill="#c9dff0"/>
<rect x="23" y="14" width="4.10" height="1.1" fill="#b0cfe9"/>
</g></g></g>
<g stroke="#a8a8a8" stroke-width="0.45" opacity="0.4">
<line x1="345.00" y1="104.20" x2="345.00" y2="174.90"/>
<line x1="358.00" y1="104.20" x2="358.00" y2="174.90"/>
<line x1="371.00" y1="104.20" x2="371.00" y2="174.90"/>
<line x1="384.00" y1="104.20" x2="384.00" y2="174.90"/>
<line x1="397.00" y1="104.20" x2="397.00" y2="174.90"/>
<line x1="410.00" y1="104.20" x2="410.00" y2="174.90"/>
<line x1="423.00" y1="104.20" x2="423.00" y2="174.90"/>
<line x1="436.00" y1="104.20" x2="436.00" y2="174.90"/>
<line x1="449.00" y1="104.20" x2="449.00" y2="174.90"/>
<line x1="462.00" y1="104.20" x2="462.00" y2="174.90"/>
<line x1="475.00" y1="104.20" x2="475.00" y2="174.90"/>
<line x1="344.70" y1="157.22" x2="475.50" y2="157.22"/>
<line x1="344.70" y1="139.55" x2="475.50" y2="139.55"/>
<line x1="344.70" y1="121.88" x2="475.50" y2="121.88"/>
</g>
<g clip-path="url(#c21)" fill="none" stroke-width="1.25">
<path d="M372.30,151.40 C373.27,150.75 374.78,153.42 376.20,154.60 C377.62,155.78 379.82,156.77 380.80,158.50 C381.78,160.23 382.22,163.15 382.10,165.00 C381.98,166.85 381.30,168.73 380.10,169.60 C378.90,170.47 376.42,170.53 374.90,170.20 C373.38,169.87 371.75,169.55 371.00,167.60 C370.25,165.65 370.18,161.20 370.40,158.50 C370.62,155.80 371.33,152.05 372.30,151.40 Z" stroke="#e5322d" stroke-dasharray="2.2,1.2"/>
<path d="M394.40,153.30 C395.27,153.30 397.00,156.38 397.00,157.90 C397.00,159.42 395.27,162.40 394.40,162.40 C393.53,162.40 391.80,159.42 391.80,157.90 C391.80,156.38 393.53,153.30 394.40,153.30 Z" stroke="#e5322d" stroke-dasharray="2.2,1.2"/>
<path d="M397.60,162.40 C398.68,162.40 400.90,165.38 400.90,166.90 C400.90,168.42 398.68,171.50 397.60,171.50 C396.52,171.50 394.40,168.42 394.40,166.90 C394.40,165.38 396.52,162.40 397.60,162.40 Z" stroke="#e5322d" stroke-dasharray="2.2,1.2"/>
<path d="M406.00,139.00 C405.33,140.00 402.85,143.17 402.00,145.00 C401.15,146.83 400.73,147.97 400.90,150.00 C401.07,152.03 402.13,156.87 403.00,157.20 C403.87,157.53 405.43,154.03 406.10,152.00 C406.77,149.97 406.35,147.17 407.00,145.00 C407.65,142.83 409.50,140.00 410.00,139.00" stroke="#2a2ae6" stroke-dasharray="2.2,1.2"/>
<path d="M398.00,158.00 C399.00,156.33 402.17,151.67 404.00,148.00 C405.83,144.33 407.83,139.00 409.00,136.00 C410.17,133.00 410.67,131.00 411.00,130.00" stroke="#2a2ae6" stroke-dasharray="2.2,1.2"/>
<path d="M416.60,114.60 C417.47,114.60 419.20,120.25 419.20,123.10 C419.20,125.95 417.47,131.70 416.60,131.70 C415.73,131.70 414.00,125.95 414.00,123.10 C414.00,120.25 415.73,114.60 416.60,114.60 Z" stroke="#e5322d" stroke-dasharray="2.2,1.2"/>
<path d="M412.60,126.40 C413.05,126.40 414.00,129.08 414.00,130.40 C414.00,131.72 413.05,134.30 412.60,134.30 C412.15,134.30 411.30,131.72 411.30,130.40 C411.30,129.08 412.15,126.40 412.60,126.40 Z" stroke="#2a2ae6" stroke-dasharray="2.2,1.2"/>
<path d="M426.50,122.50 C427.17,122.50 428.50,126.90 428.50,129.10 C428.50,131.30 427.17,135.70 426.50,135.70 C425.83,135.70 424.50,131.30 424.50,129.10 C424.50,126.90 425.83,122.50 426.50,122.50 Z" stroke="#e5322d" stroke-dasharray="2.2,1.2"/>
<path d="M429.80,104.00 C429.58,106.20 428.50,111.20 428.50,117.20 C428.50,123.20 429.58,134.53 429.80,140.00 C430.02,145.47 429.60,147.33 429.80,150.00 C430.00,152.67 430.35,156.00 431.00,156.00 C431.65,156.00 433.25,152.67 433.70,150.00 C434.15,147.33 433.47,144.37 433.70,140.00 C433.93,135.63 434.98,129.80 435.10,123.80 C435.22,117.80 434.52,107.30 434.40,104.00" stroke="#2a2ae6" stroke-dasharray="2.2,1.2"/>
<path d="M440.30,114.60 C440.58,112.43 441.33,110.27 442.00,112.00 C442.67,113.73 443.92,120.33 444.30,125.00 C444.68,129.67 444.18,135.25 444.30,140.00 C444.42,144.75 445.43,151.83 445.00,153.50 C444.57,155.17 442.25,152.42 441.70,150.00 C441.15,147.58 441.93,143.17 441.70,139.00 C441.47,134.83 440.53,129.07 440.30,125.00 C440.07,120.93 440.02,116.77 440.30,114.60 Z" stroke="#2a2ae6" stroke-dasharray="2.2,1.2"/>
<path d="M448.90,125.10 C449.57,125.10 450.90,131.12 450.90,134.10 C450.90,137.08 449.57,143.00 448.90,143.00 C448.23,143.00 446.90,137.08 446.90,134.10 C446.90,131.12 448.23,125.10 448.90,125.10 Z" stroke="#e5322d" stroke-dasharray="2.2,1.2"/>
<path d="M423.00,139.00 C422.67,140.17 422.00,143.33 421.00,146.00 C420.00,148.67 418.17,152.33 417.00,155.00 C415.83,157.67 414.33,160.05 414.00,162.00 C413.67,163.95 414.17,166.53 415.00,166.70 C415.83,166.87 417.83,164.95 419.00,163.00 C420.17,161.05 421.17,158.00 422.00,155.00 C422.83,152.00 423.67,146.67 424.00,145.00" stroke="#2a2ae6" stroke-dasharray="2.2,1.2"/>
<path d="M425.90,146.90 C426.35,146.90 427.20,149.97 427.20,151.50 C427.20,153.03 426.35,156.10 425.90,156.10 C425.45,156.10 424.50,153.03 424.50,151.50 C424.50,149.97 425.45,146.90 425.90,146.90 Z" stroke="#e5322d" stroke-dasharray="2.2,1.2"/>
<path d="M427.10,162.70 C427.98,162.70 429.80,165.37 429.80,166.70 C429.80,168.03 427.98,170.70 427.10,170.70 C426.22,170.70 424.50,168.03 424.50,166.70 C424.50,165.37 426.22,162.70 427.10,162.70 Z" stroke="#e5322d" stroke-dasharray="2.2,1.2"/>
<path d="M439.00,156.00 L439.20,158.00" stroke="#e5322d"/>
<path d="M447.00,161.40 C447.88,161.40 449.60,164.55 449.60,166.10 C449.60,167.65 447.88,170.70 447.00,170.70 C446.12,170.70 444.30,167.65 444.30,166.10 C444.30,164.55 446.12,161.40 447.00,161.40 Z" stroke="#e5322d" stroke-dasharray="2.2,1.2"/>
<path d="M471.00,149.60 C470.95,151.33 470.53,156.27 470.70,160.00 C470.87,163.73 471.35,171.17 472.00,172.00 C472.65,172.83 474.27,168.67 474.60,165.00 C474.93,161.33 474.10,152.50 474.00,150.00" stroke="#2a2ae6" stroke-dasharray="2.2,1.2"/>
<path d="M472.00,133.00 L474.60,140.00" stroke="#2a2ae6" stroke-dasharray="2.2,1.2"/>
</g>
<line x1="384.10" y1="104.20" x2="384.10" y2="174.90" stroke="#222" stroke-width="0.7" stroke-dasharray="1.2,1"/>
<line x1="397.20" y1="104.20" x2="397.20" y2="174.90" stroke="#222" stroke-width="0.7" stroke-dasharray="1.2,1"/>
<line x1="436.20" y1="104.20" x2="436.20" y2="174.90" stroke="#222" stroke-width="0.7" stroke-dasharray="1.2,1"/>
<line x1="442.10" y1="104.20" x2="442.10" y2="174.90" stroke="#222" stroke-width="0.7" stroke-dasharray="1.2,1"/>
<rect x="344.70" y="104.20" width="130.80" height="70.70" fill="none" stroke="#555" stroke-width="0.8"/>
<line x1="345.00" y1="174.90" x2="345.00" y2="177.10" stroke="#444" stroke-width="0.7"/>
<line x1="358.00" y1="174.90" x2="358.00" y2="177.10" stroke="#444" stroke-width="0.7"/>
<line x1="371.00" y1="174.90" x2="371.00" y2="177.10" stroke="#444" stroke-width="0.7"/>
<line x1="384.00" y1="174.90" x2="384.00" y2="177.10" stroke="#444" stroke-width="0.7"/>
<line x1="397.00" y1="174.90" x2="397.00" y2="177.10" stroke="#444" stroke-width="0.7"/>
<line x1="410.00" y1="174.90" x2="410.00" y2="177.10" stroke="#444" stroke-width="0.7"/>
<line x1="423.00" y1="174.90" x2="423.00" y2="177.10" stroke="#444" stroke-width="0.7"/>
<line x1="436.00" y1="174.90" x2="436.00" y2="177.10" stroke="#444" stroke-width="0.7"/>
<line x1="449.00" y1="174.90" x2="449.00" y2="177.10" stroke="#444" stroke-width="0.7"/>
<line x1="462.00" y1="174.90" x2="462.00" y2="177.10" stroke="#444" stroke-width="0.7"/>
<line x1="475.00" y1="174.90" x2="475.00" y2="177.10" stroke="#444" stroke-width="0.7"/>
<line x1="342.50" y1="174.90" x2="344.70" y2="174.90" stroke="#444" stroke-width="0.7"/>
<line x1="342.50" y1="157.22" x2="344.70" y2="157.22" stroke="#444" stroke-width="0.7"/>
<line x1="342.50" y1="139.55" x2="344.70" y2="139.55" stroke="#444" stroke-width="0.7"/>
<line x1="342.50" y1="121.88" x2="344.70" y2="121.88" stroke="#444" stroke-width="0.7"/>
<line x1="342.50" y1="104.20" x2="344.70" y2="104.20" stroke="#444" stroke-width="0.7"/>
<g clip-path="url(#c22)"><g filter="url(#bli)"><g transform="translate(344.70,188.90) scale(5.0308,5.0571)">
<rect x="-1" y="-1" width="8.10" height="1.1" fill="#f7f6f6"/>
<rect x="7" y="-1" width="4.10" height="1.1" fill="#e7eff4"/>
<rect x="11" y="-1" width="3.10" height="1.1" fill="#f7f6f6"/>
<rect x="14" y="-1" width="1.10" height="1.1" fill="#f3a996"/>
<rect x="15" y="-1" width="2.10" height="1.1" fill="#faeae4"/>
<rect x="17" y="-1" width="1.10" height="1.1" fill="#e7eff4"/>
<rect x="18" y="-1" width="3.10" height="1.1" fill="#faeae4"/>
<rect x="21" y="-1" width="1.10" height="1.1" fill="#d7e6f0"/>
<rect x="22" y="-1" width="5.10" height="1.1" fill="#faeae4"/>
<rect x="-1" y="0" width="8.10" height="1.1" fill="#f7f6f6"/>
<rect x="7" y="0" width="4.10" height="1.1" fill="#e7eff4"/>
<rect x="11" y="0" width="3.10" height="1.1" fill="#f7f6f6"/>
<rect x="14" y="0" width="1.10" height="1.1" fill="#f3a996"/>
<rect x="15" y="0" width="2.10" height="1.1" fill="#faeae4"/>
<rect x="17" y="0" width="1.10" height="1.1" fill="#e7eff4"/>
<rect x="18" y="0" width="3.10" height="1.1" fill="#faeae4"/>
<rect x="21" y="0" width="1.10" height="1.1" fill="#d7e6f0"/>
<rect x="22" y="0" width="5.10" height="1.1" fill="#faeae4"/>
<rect x="-1" y="1" width="8.10" height="1.1" fill="#f7f6f6"/>
<rect x="7" y="1" width="4.10" height="1.1" fill="#e7eff4"/>
<rect x="11" y="1" width="3.10" height="1.1" fill="#f7f6f6"/>
<rect x="14" y="1" width="1.10" height="1.1" fill="#f3a996"/>
<rect x="15" y="1" width="2.10" height="1.1" fill="#faeae4"/>
<rect x="17" y="1" width="1.10" height="1.1" fill="#e7eff4"/>
<rect x="18" y="1" width="3.10" height="1.1" fill="#faeae4"/>
<rect x="21" y="1" width="1.10" height="1.1" fill="#d7e6f0"/>
<rect x="22" y="1" width="5.10" height="1.1" fill="#faeae4"/>
<rect x="-1" y="2" width="8.10" height="1.1" fill="#f7f6f6"/>
<rect x="7" y="2" width="4.10" height="1.1" fill="#e7eff4"/>
<rect x="11" y="2" width="3.10" height="1.1" fill="#f7f6f6"/>
<rect x="14" y="2" width="3.10" height="1.1" fill="#faeae4"/>
<rect x="17" y="2" width="1.10" height="1.1" fill="#e7eff4"/>
<rect x="18" y="2" width="3.10" height="1.1" fill="#faeae4"/>
<rect x="21" y="2" width="1.10" height="1.1" fill="#d7e6f0"/>
<rect x="22" y="2" width="5.10" height="1.1" fill="#faeae4"/>
<rect x="-1" y="3" width="8.10" height="1.1" fill="#f7f6f6"/>
<rect x="7" y="3" width="1.10" height="1.1" fill="#e7eff4"/>
<rect x="8" y="3" width="1.10" height="1.1" fill="#d7e6f0"/>
<rect x="9" y="3" width="2.10" height="1.1" fill="#bbd6e7"/>
<rect x="11" y="3" width="2.10" height="1.1" fill="#f7f6f6"/>
<rect x="13" y="3" width="1.10" height="1.1" fill="#f3a996"/>
<rect x="14" y="3" width="1.10" height="1.1" fill="#f7f6f6"/>
<rect x="15" y="3" width="2.10" height="1.1" fill="#faeae4"/>
<rect x="17" y="3" width="1.10" height="1.1" fill="#e7eff4"/>
<rect x="18" y="3" width="1.10" height="1.1" fill="#d66a66"/>
<rect x="19" y="3" width="2.10" height="1.1" fill="#faeae4"/>
<rect x="21" y="3" width="1.10" height="1.1" fill="#d7e6f0"/>
<rect x="22" y="3" width="5.10" height="1.1" fill="#faeae4"/>
<rect x="-1" y="4" width="8.10" height="1.1" fill="#f7f6f6"/>
<rect x="7" y="4" width="1.10" height="1.1" fill="#e7eff4"/>
<rect x="8" y="4" width="1.10" height="1.1" fill="#d7e6f0"/>
<rect x="9" y="4" width="2.10" height="1.1" fill="#bbd6e7"/>
<rect x="11" y="4" width="1.10" height="1.1" fill="#e7eff4"/>
<rect x="12" y="4" width="1.10" height="1.1" fill="#f7f6f6"/>
<rect x="13" y="4" width="1.10" height="1.1" fill="#9ec5dd"/>
<rect x="14" y="4" width="1.10" height="1.1" fill="#f7f6f6"/>
<rect x="15" y="4" width="2.10" height="1.1" fill="#faeae4"/>
<rect x="17" y="4" width="1.10" height="1.1" fill="#e7eff4"/>
<rect x="18" y="4" width="1.10" height="1.1" fill="#d66a66"/>
<rect x="19" y="4" width="1.10" height="1.1" fill="#9ec5dd"/>
<rect x="20" y="4" width="1.10" height="1.1" fill="#d7e6f0"/>
<rect x="21" y="4" width="1.10" height="1.1" fill="#4a81b7"/>
<rect x="22" y="4" width="1.10" height="1.1" fill="#faeae4"/>
<rect x="23" y="4" width="4.10" height="1.1" fill="#fdddd1"/>
<rect x="-1" y="5" width="8.10" height="1.1" fill="#f7f6f6"/>
<rect x="7" y="5" width="1.10" height="1.1" fill="#faeae4"/>
<rect x="8" y="5" width="1.10" height="1.1" fill="#bbd6e7"/>
<rect x="9" y="5" width="1.10" height="1.1" fill="#9ec5dd"/>
<rect x="10" y="5" width="1.10" height="1.1" fill="#bbd6e7"/>
<rect x="11" y="5" width="1.10" height="1.1" fill="#e7eff4"/>
<rect x="12" y="5" width="1.10" height="1.1" fill="#7eafd1"/>
<rect x="13" y="5" width="1.10" height="1.1" fill="#bbd6e7"/>
<rect x="14" y="5" width="1.10" height="1.1" fill="#f7f6f6"/>
<rect x="15" y="5" width="1.10" height="1.1" fill="#faeae4"/>
<rect x="16" y="5" width="1.10" height="1.1" fill="#d66a66"/>
<rect x="17" y="5" width="1.10" height="1.1" fill="#9ec5dd"/>
<rect x="18" y="5" width="1.10" height="1.1" fill="#d66a66"/>
<rect x="19" y="5" width="1.10" height="1.1" fill="#9ec5dd"/>
<rect x="20" y="5" width="1.10" height="1.1" fill="#d7e6f0"/>
<rect x="21" y="5" width="1.10" height="1.1" fill="#4a81b7"/>
<rect x="22" y="5" width="1.10" height="1.1" fill="#f7f6f6"/>
<rect x="23" y="5" width="4.10" height="1.1" fill="#fdddd1"/>
<rect x="-1" y="6" width="8.10" height="1.1" fill="#f7f6f6"/>
<rect x="7" y="6" width="1.10" height="1.1" fill="#faeae4"/>
<rect x="8" y="6" width="1.10" height="1.1" fill="#bbd6e7"/>
<rect x="9" y="6" width="2.10" height="1.1" fill="#9ec5dd"/>
<rect x="11" y="6" width="1.10" height="1.1" fill="#7eafd1"/>
<rect x="12" y="6" width="1.10" height="1.1" fill="#396cab"/>
<rect x="13" y="6" width="1.10" height="1.1" fill="#9ec5dd"/>
<rect x="14" y="6" width="1.10" height="1.1" fill="#e7eff4"/>
<rect x="15" y="6" width="1.10" height="1.1" fill="#faeae4"/>
<rect x="16" y="6" width="1.10" height="1.1" fill="#d66a66"/>
<rect x="17" y="6" width="1.10" height="1.1" fill="#9ec5dd"/>
<rect x="18" y="6" width="1.10" height="1.1" fill="#c4545f"/>
<rect x="19" y="6" width="1.10" height="1.1" fill="#4a81b7"/>
<rect x="20" y="6" width="1.10" height="1.1" fill="#d66a66"/>
<rect x="21" y="6" width="1.10" height="1.1" fill="#396cab"/>
<rect x="22" y="6" width="1.10" height="1.1" fill="#f7f6f6"/>
<rect x="23" y="6" width="1.10" height="1.1" fill="#f8c3b3"/>
<rect x="24" y="6" width="1.10" height="1.1" fill="#f3a996"/>
<rect x="25" y="6" width="2.10" height="1.1" fill="#d66a66"/>
<rect x="-1" y="7" width="8.10" height="1.1" fill="#f7f6f6"/>
<rect x="7" y="7" width="1.10" height="1.1" fill="#faeae4"/>
<rect x="8" y="7" width="1.10" height="1.1" fill="#bbd6e7"/>
<rect x="9" y="7" width="2.10" height="1.1" fill="#9ec5dd"/>
<rect x="11" y="7" width="1.10" height="1.1" fill="#7eafd1"/>
<rect x="12" y="7" width="1.10" height="1.1" fill="#396cab"/>
<rect x="13" y="7" width="1.10" height="1.1" fill="#9ec5dd"/>
<rect x="14" y="7" width="1.10" height="1.1" fill="#e7eff4"/>
<rect x="15" y="7" width="2.10" height="1.1" fill="#faeae4"/>
<rect x="17" y="7" width="1.10" height="1.1" fill="#9ec5dd"/>
<rect x="18" y="7" width="1.10" height="1.1" fill="#c4545f"/>
<rect x="19" y="7" width="1.10" height="1.1" fill="#4a81b7"/>
<rect x="20" y="7" width="1.10" height="1.1" fill="#d66a66"/>
<rect x="21" y="7" width="1.10" height="1.1" fill="#396cab"/>
<rect x="22" y="7" width="1.10" height="1.1" fill="#f7f6f6"/>
<rect x="23" y="7" width="1.10" height="1.1" fill="#f8c3b3"/>
<rect x="24" y="7" width="1.10" height="1.1" fill="#f3a996"/>
<rect x="25" y="7" width="2.10" height="1.1" fill="#d66a66"/>
<rect x="-1" y="8" width="8.10" height="1.1" fill="#f7f6f6"/>
<rect x="7" y="8" width="1.10" height="1.1" fill="#faeae4"/>
<rect x="8" y="8" width="1.10" height="1.1" fill="#bbd6e7"/>
<rect x="9" y="8" width="2.10" height="1.1" fill="#9ec5dd"/>
<rect x="11" y="8" width="1.10" height="1.1" fill="#7eafd1"/>
<rect x="12" y="8" width="1.10" height="1.1" fill="#396cab"/>
<rect x="13" y="8" width="1.10" height="1.1" fill="#9ec5dd"/>
<rect x="14" y="8" width="1.10" height="1.1" fill="#e7eff4"/>
<rect x="15" y="8" width="2.10" height="1.1" fill="#faeae4"/>
<rect x="17" y="8" width="1.10" height="1.1" fill="#9ec5dd"/>
<rect x="18" y="8" width="1.10" height="1.1" fill="#c4545f"/>
<rect x="19" y="8" width="1.10" height="1.1" fill="#4a81b7"/>
<rect x="20" y="8" width="1.10" height="1.1" fill="#d66a66"/>
<rect x="21" y="8" width="1.10" height="1.1" fill="#396cab"/>
<rect x="22" y="8" width="1.10" height="1.1" fill="#f7f6f6"/>
<rect x="23" y="8" width="1.10" height="1.1" fill="#f8c3b3"/>
<rect x="24" y="8" width="1.10" height="1.1" fill="#f3a996"/>
<rect x="25" y="8" width="2.10" height="1.1" fill="#d66a66"/>
<rect x="-1" y="9" width="8.10" height="1.1" fill="#f7f6f6"/>
<rect x="7" y="9" width="1.10" height="1.1" fill="#faeae4"/>
<rect x="8" y="9" width="1.10" height="1.1" fill="#bbd6e7"/>
<rect x="9" y="9" width="2.10" height="1.1" fill="#9ec5dd"/>
<rect x="11" y="9" width="2.10" height="1.1" fill="#7eafd1"/>
<rect x="13" y="9" width="1.10" height="1.1" fill="#4a81b7"/>
<rect x="14" y="9" width="1.10" height="1.1" fill="#e7eff4"/>
<rect x="15" y="9" width="1.10" height="1.1" fill="#f7f6f6"/>
<rect x="16" y="9" width="1.10" height="1.1" fill="#faeae4"/>
<rect x="17" y="9" width="1.10" height="1.1" fill="#9ec5dd"/>
<rect x="18" y="9" width="1.10" height="1.1" fill="#c4545f"/>
<rect x="19" y="9" width="1.10" height="1.1" fill="#4a81b7"/>
<rect x="20" y="9" width="1.10" height="1.1" fill="#d66a66"/>
<rect x="21" y="9" width="1.10" height="1.1" fill="#396cab"/>
<rect x="22" y="9" width="1.10" height="1.1" fill="#f7f6f6"/>
<rect x="23" y="9" width="4.10" height="1.1" fill="#c4545f"/>
<rect x="-1" y="10" width="6.10" height="1.1" fill="#f7f6f6"/>
<rect x="5" y="10" width="1.10" height="1.1" fill="#fdddd1"/>
<rect x="6" y="10" width="2.10" height="1.1" fill="#f8c3b3"/>
<rect x="8" y="10" width="1.10" height="1.1" fill="#9ec5dd"/>
<rect x="9" y="10" width="1.10" height="1.1" fill="#396cab"/>
<rect x="10" y="10" width="1.10" height="1.1" fill="#4a81b7"/>
<rect x="11" y="10" width="1.10" height="1.1" fill="#9ec5dd"/>
<rect x="12" y="10" width="1.10" height="1.1" fill="#7eafd1"/>
<rect x="13" y="10" width="1.10" height="1.1" fill="#4a81b7"/>
<rect x="14" y="10" width="1.10" height="1.1" fill="#e7eff4"/>
<rect x="15" y="10" width="1.10" height="1.1" fill="#f7f6f6"/>
<rect x="16" y="10" width="1.10" height="1.1" fill="#faeae4"/>
<rect x="17" y="10" width="1.10" height="1.1" fill="#d7e6f0"/>
<rect x="18" y="10" width="1.10" height="1.1" fill="#f3a996"/>
<rect x="19" y="10" width="1.10" height="1.1" fill="#4a81b7"/>
<rect x="20" y="10" width="1.10" height="1.1" fill="#e4887d"/>
<rect x="21" y="10" width="1.10" height="1.1" fill="#396cab"/>
<rect x="22" y="10" width="1.10" height="1.1" fill="#d7e6f0"/>
<rect x="23" y="10" width="4.10" height="1.1" fill="#c4545f"/>
<rect x="-1" y="11" width="6.10" height="1.1" fill="#f7f6f6"/>
<rect x="5" y="11" width="1.10" height="1.1" fill="#fdddd1"/>
<rect x="6" y="11" width="2.10" height="1.1" fill="#f8c3b3"/>
<rect x="8" y="11" width="1.10" height="1.1" fill="#9ec5dd"/>
<rect x="9" y="11" width="1.10" height="1.1" fill="#396cab"/>
<rect x="10" y="11" width="1.10" height="1.1" fill="#4a81b7"/>
<rect x="11" y="11" width="1.10" height="1.1" fill="#9ec5dd"/>
<rect x="12" y="11" width="1.10" height="1.1" fill="#bbd6e7"/>
<rect x="13" y="11" width="1.10" height="1.1" fill="#4a81b7"/>
<rect x="14" y="11" width="1.10" height="1.1" fill="#e7eff4"/>
<rect x="15" y="11" width="1.10" height="1.1" fill="#f7f6f6"/>
<rect x="16" y="11" width="1.10" height="1.1" fill="#faeae4"/>
<rect x="17" y="11" width="1.10" height="1.1" fill="#d7e6f0"/>
<rect x="18" y="11" width="1.10" height="1.1" fill="#e7eff4"/>
<rect x="19" y="11" width="2.10" height="1.1" fill="#4a81b7"/>
<rect x="21" y="11" width="1.10" height="1.1" fill="#396cab"/>
<rect x="22" y="11" width="1.10" height="1.1" fill="#d7e6f0"/>
<rect x="23" y="11" width="2.10" height="1.1" fill="#c4545f"/>
<rect x="25" y="11" width="2.10" height="1.1" fill="#7eafd1"/>
<rect x="-1" y="12" width="6.10" height="1.1" fill="#f7f6f6"/>
<rect x="5" y="12" width="1.10" height="1.1" fill="#fdddd1"/>
<rect x="6" y="12" width="2.10" height="1.1" fill="#f8c3b3"/>
<rect x="8" y="12" width="1.10" height="1.1" fill="#9ec5dd"/>
<rect x="9" y="12" width="1.10" height="1.1" fill="#396cab"/>
<rect x="10" y="12" width="1.10" height="1.1" fill="#4a81b7"/>
<rect x="11" y="12" width="1.10" height="1.1" fill="#9ec5dd"/>
<rect x="12" y="12" width="1.10" height="1.1" fill="#bbd6e7"/>
<rect x="13" y="12" width="1.10" height="1.1" fill="#4a81b7"/>
<rect x="14" y="12" width="1.10" height="1.1" fill="#e7eff4"/>
<rect x="15" y="12" width="2.10" height="1.1" fill="#faeae4"/>
<rect x="17" y="12" width="1.10" height="1.1" fill="#e7eff4"/>
<rect x="18" y="12" width="1.10" height="1.1" fill="#d7e6f0"/>
<rect x="19" y="12" width="2.10" height="1.1" fill="#4a81b7"/>
<rect x="21" y="12" width="1.10" height="1.1" fill="#396cab"/>
<rect x="22" y="12" width="1.10" height="1.1" fill="#d7e6f0"/>
<rect x="23" y="12" width="2.10" height="1.1" fill="#c4545f"/>
<rect x="25" y="12" width="2.10" height="1.1" fill="#7eafd1"/>
<rect x="-1" y="13" width="6.10" height="1.1" fill="#f7f6f6"/>
<rect x="5" y="13" width="1.10" height="1.1" fill="#fdddd1"/>
<rect x="6" y="13" width="1.10" height="1.1" fill="#f8c3b3"/>
<rect x="7" y="13" width="1.10" height="1.1" fill="#faeae4"/>
<rect x="8" y="13" width="1.10" height="1.1" fill="#9ec5dd"/>
<rect x="9" y="13" width="1.10" height="1.1" fill="#396cab"/>
<rect x="10" y="13" width="1.10" height="1.1" fill="#4a81b7"/>
<rect x="11" y="13" width="1.10" height="1.1" fill="#9ec5dd"/>
<rect x="12" y="13" width="2.10" height="1.1" fill="#bbd6e7"/>
<rect x="14" y="13" width="1.10" height="1.1" fill="#e7eff4"/>
<rect x="15" y="13" width="2.10" height="1.1" fill="#faeae4"/>
<rect x="17" y="13" width="1.10" height="1.1" fill="#e7eff4"/>
<rect x="18" y="13" width="1.10" height="1.1" fill="#d7e6f0"/>
<rect x="19" y="13" width="2.10" height="1.1" fill="#4a81b7"/>
<rect x="21" y="13" width="1.10" height="1.1" fill="#396cab"/>
<rect x="22" y="13" width="1.10" height="1.1" fill="#d7e6f0"/>
<rect x="23" y="13" width="2.10" height="1.1" fill="#faeae4"/>
<rect x="25" y="13" width="2.10" height="1.1" fill="#7eafd1"/>
<rect x="-1" y="14" width="6.10" height="1.1" fill="#f7f6f6"/>
<rect x="5" y="14" width="1.10" height="1.1" fill="#fdddd1"/>
<rect x="6" y="14" width="1.10" height="1.1" fill="#f8c3b3"/>
<rect x="7" y="14" width="1.10" height="1.1" fill="#faeae4"/>
<rect x="8" y="14" width="1.10" height="1.1" fill="#9ec5dd"/>
<rect x="9" y="14" width="1.10" height="1.1" fill="#396cab"/>
<rect x="10" y="14" width="1.10" height="1.1" fill="#4a81b7"/>
<rect x="11" y="14" width="1.10" height="1.1" fill="#9ec5dd"/>
<rect x="12" y="14" width="2.10" height="1.1" fill="#bbd6e7"/>
<rect x="14" y="14" width="1.10" height="1.1" fill="#e7eff4"/>
<rect x="15" y="14" width="2.10" height="1.1" fill="#faeae4"/>
<rect x="17" y="14" width="1.10" height="1.1" fill="#e7eff4"/>
<rect x="18" y="14" width="1.10" height="1.1" fill="#d7e6f0"/>
<rect x="19" y="14" width="2.10" height="1.1" fill="#4a81b7"/>
<rect x="21" y="14" width="1.10" height="1.1" fill="#396cab"/>
<rect x="22" y="14" width="1.10" height="1.1" fill="#d7e6f0"/>
<rect x="23" y="14" width="2.10" height="1.1" fill="#faeae4"/>
<rect x="25" y="14" width="2.10" height="1.1" fill="#7eafd1"/>
</g></g></g>
<g stroke="#a8a8a8" stroke-width="0.45" opacity="0.4">
<line x1="345.00" y1="188.90" x2="345.00" y2="259.70"/>
<line x1="358.00" y1="188.90" x2="358.00" y2="259.70"/>
<line x1="371.00" y1="188.90" x2="371.00" y2="259.70"/>
<line x1="384.00" y1="188.90" x2="384.00" y2="259.70"/>
<line x1="397.00" y1="188.90" x2="397.00" y2="259.70"/>
<line x1="410.00" y1="188.90" x2="410.00" y2="259.70"/>
<line x1="423.00" y1="188.90" x2="423.00" y2="259.70"/>
<line x1="436.00" y1="188.90" x2="436.00" y2="259.70"/>
<line x1="449.00" y1="188.90" x2="449.00" y2="259.70"/>
<line x1="462.00" y1="188.90" x2="462.00" y2="259.70"/>
<line x1="475.00" y1="188.90" x2="475.00" y2="259.70"/>
<line x1="344.70" y1="242.00" x2="475.50" y2="242.00"/>
<line x1="344.70" y1="224.30" x2="475.50" y2="224.30"/>
<line x1="344.70" y1="206.60" x2="475.50" y2="206.60"/>
</g>
<g clip-path="url(#c22)" fill="none" stroke-width="1.25">
</g>
<line x1="384.10" y1="188.90" x2="384.10" y2="259.70" stroke="#222" stroke-width="0.7" stroke-dasharray="1.2,1"/>
<line x1="397.20" y1="188.90" x2="397.20" y2="259.70" stroke="#222" stroke-width="0.7" stroke-dasharray="1.2,1"/>
<line x1="436.20" y1="188.90" x2="436.20" y2="259.70" stroke="#222" stroke-width="0.7" stroke-dasharray="1.2,1"/>
<line x1="442.10" y1="188.90" x2="442.10" y2="259.70" stroke="#222" stroke-width="0.7" stroke-dasharray="1.2,1"/>
<rect x="344.70" y="188.90" width="130.80" height="70.80" fill="none" stroke="#555" stroke-width="0.8"/>
<line x1="345.00" y1="259.70" x2="345.00" y2="261.90" stroke="#444" stroke-width="0.7"/>
<line x1="358.00" y1="259.70" x2="358.00" y2="261.90" stroke="#444" stroke-width="0.7"/>
<line x1="371.00" y1="259.70" x2="371.00" y2="261.90" stroke="#444" stroke-width="0.7"/>
<line x1="384.00" y1="259.70" x2="384.00" y2="261.90" stroke="#444" stroke-width="0.7"/>
<line x1="397.00" y1="259.70" x2="397.00" y2="261.90" stroke="#444" stroke-width="0.7"/>
<line x1="410.00" y1="259.70" x2="410.00" y2="261.90" stroke="#444" stroke-width="0.7"/>
<line x1="423.00" y1="259.70" x2="423.00" y2="261.90" stroke="#444" stroke-width="0.7"/>
<line x1="436.00" y1="259.70" x2="436.00" y2="261.90" stroke="#444" stroke-width="0.7"/>
<line x1="449.00" y1="259.70" x2="449.00" y2="261.90" stroke="#444" stroke-width="0.7"/>
<line x1="462.00" y1="259.70" x2="462.00" y2="261.90" stroke="#444" stroke-width="0.7"/>
<line x1="475.00" y1="259.70" x2="475.00" y2="261.90" stroke="#444" stroke-width="0.7"/>
<line x1="342.50" y1="259.70" x2="344.70" y2="259.70" stroke="#444" stroke-width="0.7"/>
<line x1="342.50" y1="242.00" x2="344.70" y2="242.00" stroke="#444" stroke-width="0.7"/>
<line x1="342.50" y1="224.30" x2="344.70" y2="224.30" stroke="#444" stroke-width="0.7"/>
<line x1="342.50" y1="206.60" x2="344.70" y2="206.60" stroke="#444" stroke-width="0.7"/>
<line x1="342.50" y1="188.90" x2="344.70" y2="188.90" stroke="#444" stroke-width="0.7"/>
<text x="67.20" y="9.90" font-size="5.30" text-anchor="start" font-weight="bold" fill="#1e1e1e" textLength="51.00" lengthAdjust="spacingAndGlyphs">Wind Speed (m s<tspan font-size="3.6" dy="-2">&#8722;1</tspan><tspan dy="2">)</tspan></text>
<text x="224.00" y="9.90" font-size="5.30" text-anchor="start" font-weight="bold" fill="#1e1e1e" textLength="55.00" lengthAdjust="spacingAndGlyphs">Air Temperature (&#176;C)</text>
<text x="377.00" y="9.90" font-size="5.30" text-anchor="start" font-weight="bold" fill="#1e1e1e" textLength="67.00" lengthAdjust="spacingAndGlyphs">Specific Humidity (g kg<tspan font-size="3.6" dy="-2">&#8722;1</tspan><tspan dy="2">)</tspan></text>
<text x="27.60" y="17.10" font-size="6.20" text-anchor="start" font-weight="normal" fill="#1e1e1e" textLength="107.50" lengthAdjust="spacingAndGlyphs">(a) Obs.; contours: diff. ICON<tspan font-size="3.8" dy="1">flat</tspan><tspan dy="-1"> &#8722; Obs.</tspan></text>
<text x="27.60" y="101.70" font-size="6.20" text-anchor="start" font-weight="normal" fill="#1e1e1e" textLength="131.80" lengthAdjust="spacingAndGlyphs">(b) ICON_control; contours: diff. ICON<tspan font-size="3.8" dy="1">ctrl</tspan><tspan dy="-1"> &#8722; Obs.</tspan></text>
<text x="27.60" y="186.40" font-size="6.20" text-anchor="start" font-weight="normal" fill="#1e1e1e" textLength="70.50" lengthAdjust="spacingAndGlyphs">(c) diff. ICON<tspan font-size="3.8" dy="1">ctrl</tspan><tspan dy="-1"> &#8722; ICON</tspan><tspan font-size="3.8" dy="1">flat</tspan></text>
<text x="186.20" y="17.10" font-size="6.20" text-anchor="start" font-weight="normal" fill="#1e1e1e">(d)</text>
<text x="186.20" y="101.70" font-size="6.20" text-anchor="start" font-weight="normal" fill="#1e1e1e">(e)</text>
<text x="186.20" y="186.40" font-size="6.20" text-anchor="start" font-weight="normal" fill="#1e1e1e">(f)</text>
<text x="344.90" y="17.10" font-size="6.20" text-anchor="start" font-weight="normal" fill="#1e1e1e">(g)</text>
<text x="344.90" y="101.70" font-size="6.20" text-anchor="start" font-weight="normal" fill="#1e1e1e">(h)</text>
<text x="344.90" y="186.40" font-size="6.20" text-anchor="start" font-weight="normal" fill="#1e1e1e">(i)</text>
<text x="0" y="0" font-size="6.3" fill="#1e1e1e" text-anchor="middle" transform="translate(10.2,54.95) rotate(-90)" textLength="26" lengthAdjust="spacingAndGlyphs">Height (m)</text>
<text x="0" y="0" font-size="6.3" fill="#1e1e1e" text-anchor="middle" transform="translate(10.2,139.55) rotate(-90)" textLength="26" lengthAdjust="spacingAndGlyphs">Height (m)</text>
<text x="0" y="0" font-size="6.3" fill="#1e1e1e" text-anchor="middle" transform="translate(10.2,224.30) rotate(-90)" textLength="26" lengthAdjust="spacingAndGlyphs">Height (m)</text>
<text x="27.20" y="266.60" font-size="5.00" text-anchor="middle" font-weight="normal" fill="#1e1e1e" textLength="13.80" lengthAdjust="spacingAndGlyphs">04-13</text>
<text x="27.20" y="272.30" font-size="5.00" text-anchor="middle" font-weight="normal" fill="#1e1e1e" textLength="13.80" lengthAdjust="spacingAndGlyphs">00:00</text>
<text x="53.15" y="266.60" font-size="5.00" text-anchor="middle" font-weight="normal" fill="#1e1e1e" textLength="13.80" lengthAdjust="spacingAndGlyphs">04-14</text>
<text x="53.15" y="272.30" font-size="5.00" text-anchor="middle" font-weight="normal" fill="#1e1e1e" textLength="13.80" lengthAdjust="spacingAndGlyphs">00:00</text>
<text x="79.10" y="266.60" font-size="5.00" text-anchor="middle" font-weight="normal" fill="#1e1e1e" textLength="13.80" lengthAdjust="spacingAndGlyphs">04-15</text>
<text x="79.10" y="272.30" font-size="5.00" text-anchor="middle" font-weight="normal" fill="#1e1e1e" textLength="13.80" lengthAdjust="spacingAndGlyphs">00:00</text>
<text x="105.05" y="266.60" font-size="5.00" text-anchor="middle" font-weight="normal" fill="#1e1e1e" textLength="13.80" lengthAdjust="spacingAndGlyphs">04-16</text>
<text x="105.05" y="272.30" font-size="5.00" text-anchor="middle" font-weight="normal" fill="#1e1e1e" textLength="13.80" lengthAdjust="spacingAndGlyphs">00:00</text>
<text x="131.00" y="266.60" font-size="5.00" text-anchor="middle" font-weight="normal" fill="#1e1e1e" textLength="13.80" lengthAdjust="spacingAndGlyphs">04-17</text>
<text x="131.00" y="272.30" font-size="5.00" text-anchor="middle" font-weight="normal" fill="#1e1e1e" textLength="13.80" lengthAdjust="spacingAndGlyphs">00:00</text>
<text x="156.95" y="266.60" font-size="5.00" text-anchor="middle" font-weight="normal" fill="#1e1e1e" textLength="13.80" lengthAdjust="spacingAndGlyphs">04-18</text>
<text x="156.95" y="272.30" font-size="5.00" text-anchor="middle" font-weight="normal" fill="#1e1e1e" textLength="13.80" lengthAdjust="spacingAndGlyphs">00:00</text>
<text x="92.40" y="278.80" font-size="5.00" text-anchor="middle" font-weight="normal" fill="#1e1e1e" textLength="25.50" lengthAdjust="spacingAndGlyphs">Time (UTC)</text>
<text x="186.20" y="266.60" font-size="5.00" text-anchor="middle" font-weight="normal" fill="#1e1e1e" textLength="13.80" lengthAdjust="spacingAndGlyphs">04-13</text>
<text x="186.20" y="272.30" font-size="5.00" text-anchor="middle" font-weight="normal" fill="#1e1e1e" textLength="13.80" lengthAdjust="spacingAndGlyphs">00:00</text>
<text x="212.15" y="266.60" font-size="5.00" text-anchor="middle" font-weight="normal" fill="#1e1e1e" textLength="13.80" lengthAdjust="spacingAndGlyphs">04-14</text>
<text x="212.15" y="272.30" font-size="5.00" text-anchor="middle" font-weight="normal" fill="#1e1e1e" textLength="13.80" lengthAdjust="spacingAndGlyphs">00:00</text>
<text x="238.10" y="266.60" font-size="5.00" text-anchor="middle" font-weight="normal" fill="#1e1e1e" textLength="13.80" lengthAdjust="spacingAndGlyphs">04-15</text>
<text x="238.10" y="272.30" font-size="5.00" text-anchor="middle" font-weight="normal" fill="#1e1e1e" textLength="13.80" lengthAdjust="spacingAndGlyphs">00:00</text>
<text x="264.05" y="266.60" font-size="5.00" text-anchor="middle" font-weight="normal" fill="#1e1e1e" textLength="13.80" lengthAdjust="spacingAndGlyphs">04-16</text>
<text x="264.05" y="272.30" font-size="5.00" text-anchor="middle" font-weight="normal" fill="#1e1e1e" textLength="13.80" lengthAdjust="spacingAndGlyphs">00:00</text>
<text x="290.00" y="266.60" font-size="5.00" text-anchor="middle" font-weight="normal" fill="#1e1e1e" textLength="13.80" lengthAdjust="spacingAndGlyphs">04-17</text>
<text x="290.00" y="272.30" font-size="5.00" text-anchor="middle" font-weight="normal" fill="#1e1e1e" textLength="13.80" lengthAdjust="spacingAndGlyphs">00:00</text>
<text x="315.95" y="266.60" font-size="5.00" text-anchor="middle" font-weight="normal" fill="#1e1e1e" textLength="13.80" lengthAdjust="spacingAndGlyphs">04-18</text>
<text x="315.95" y="272.30" font-size="5.00" text-anchor="middle" font-weight="normal" fill="#1e1e1e" textLength="13.80" lengthAdjust="spacingAndGlyphs">00:00</text>
<text x="251.40" y="278.80" font-size="5.00" text-anchor="middle" font-weight="normal" fill="#1e1e1e" textLength="25.50" lengthAdjust="spacingAndGlyphs">Time (UTC)</text>
<text x="345.00" y="266.60" font-size="5.00" text-anchor="middle" font-weight="normal" fill="#1e1e1e" textLength="13.80" lengthAdjust="spacingAndGlyphs">04-13</text>
<text x="345.00" y="272.30" font-size="5.00" text-anchor="middle" font-weight="normal" fill="#1e1e1e" textLength="13.80" lengthAdjust="spacingAndGlyphs">00:00</text>
<text x="370.95" y="266.60" font-size="5.00" text-anchor="middle" font-weight="normal" fill="#1e1e1e" textLength="13.80" lengthAdjust="spacingAndGlyphs">04-14</text>
<text x="370.95" y="272.30" font-size="5.00" text-anchor="middle" font-weight="normal" fill="#1e1e1e" textLength="13.80" lengthAdjust="spacingAndGlyphs">00:00</text>
<text x="396.90" y="266.60" font-size="5.00" text-anchor="middle" font-weight="normal" fill="#1e1e1e" textLength="13.80" lengthAdjust="spacingAndGlyphs">04-15</text>
<text x="396.90" y="272.30" font-size="5.00" text-anchor="middle" font-weight="normal" fill="#1e1e1e" textLength="13.80" lengthAdjust="spacingAndGlyphs">00:00</text>
<text x="422.85" y="266.60" font-size="5.00" text-anchor="middle" font-weight="normal" fill="#1e1e1e" textLength="13.80" lengthAdjust="spacingAndGlyphs">04-16</text>
<text x="422.85" y="272.30" font-size="5.00" text-anchor="middle" font-weight="normal" fill="#1e1e1e" textLength="13.80" lengthAdjust="spacingAndGlyphs">00:00</text>
<text x="448.80" y="266.60" font-size="5.00" text-anchor="middle" font-weight="normal" fill="#1e1e1e" textLength="13.80" lengthAdjust="spacingAndGlyphs">04-17</text>
<text x="448.80" y="272.30" font-size="5.00" text-anchor="middle" font-weight="normal" fill="#1e1e1e" textLength="13.80" lengthAdjust="spacingAndGlyphs">00:00</text>
<text x="474.75" y="266.60" font-size="5.00" text-anchor="middle" font-weight="normal" fill="#1e1e1e" textLength="13.80" lengthAdjust="spacingAndGlyphs">04-18</text>
<text x="474.75" y="272.30" font-size="5.00" text-anchor="middle" font-weight="normal" fill="#1e1e1e" textLength="13.80" lengthAdjust="spacingAndGlyphs">00:00</text>
<text x="410.20" y="278.80" font-size="5.00" text-anchor="middle" font-weight="normal" fill="#1e1e1e" textLength="25.50" lengthAdjust="spacingAndGlyphs">Time (UTC)</text>
<rect x="159.00" y="23.40" width="4.00" height="66.50" fill="url(#gRY)"/>
<polygon points="159.00,23.70 163.00,23.70 161.00,19.90" fill="#a50026"/>
<line x1="163.00" y1="89.80" x2="165.00" y2="89.80" stroke="#444" stroke-width="0.7"/>
<text x="166.20" y="91.60" font-size="5.00" text-anchor="start" font-weight="normal" fill="#1e1e1e">0</text>
<line x1="163.00" y1="69.00" x2="165.00" y2="69.00" stroke="#444" stroke-width="0.7"/>
<text x="166.20" y="70.80" font-size="5.00" text-anchor="start" font-weight="normal" fill="#1e1e1e">10</text>
<line x1="163.00" y1="48.20" x2="165.00" y2="48.20" stroke="#444" stroke-width="0.7"/>
<text x="166.20" y="50.00" font-size="5.00" text-anchor="start" font-weight="normal" fill="#1e1e1e">20</text>
<line x1="163.00" y1="27.30" x2="165.00" y2="27.30" stroke="#444" stroke-width="0.7"/>
<text x="166.20" y="29.10" font-size="5.00" text-anchor="start" font-weight="normal" fill="#1e1e1e">30</text>
<rect x="318.00" y="19.60" width="4.00" height="67.00" fill="url(#gRY)"/>
<polygon points="318.00,86.30 322.00,86.30 320.00,90.10" fill="#313695"/>
<line x1="322.00" y1="19.90" x2="324.00" y2="19.90" stroke="#444" stroke-width="0.7"/>
<text x="325.20" y="21.70" font-size="5.00" text-anchor="start" font-weight="normal" fill="#1e1e1e">0</text>
<line x1="322.00" y1="38.90" x2="324.00" y2="38.90" stroke="#444" stroke-width="0.7"/>
<text x="325.20" y="40.70" font-size="5.00" text-anchor="start" font-weight="normal" fill="#1e1e1e">&#8722;10</text>
<line x1="322.00" y1="58.10" x2="324.00" y2="58.10" stroke="#444" stroke-width="0.7"/>
<text x="325.20" y="59.90" font-size="5.00" text-anchor="start" font-weight="normal" fill="#1e1e1e">&#8722;20</text>
<line x1="322.00" y1="77.20" x2="324.00" y2="77.20" stroke="#444" stroke-width="0.7"/>
<text x="325.20" y="79.00" font-size="5.00" text-anchor="start" font-weight="normal" fill="#1e1e1e">&#8722;30</text>
<rect x="476.80" y="19.60" width="3.80" height="67.40" fill="url(#gRY)"/>
<polygon points="476.80,86.70 480.60,86.70 478.70,90.10" fill="#313695"/>
<line x1="480.60" y1="19.90" x2="482.60" y2="19.90" stroke="#444" stroke-width="0.7"/>
<text x="483.80" y="21.70" font-size="5.00" text-anchor="start" font-weight="normal" fill="#1e1e1e">4</text>
<line x1="480.60" y1="36.80" x2="482.60" y2="36.80" stroke="#444" stroke-width="0.7"/>
<text x="483.80" y="38.60" font-size="5.00" text-anchor="start" font-weight="normal" fill="#1e1e1e">3</text>
<line x1="480.60" y1="52.90" x2="482.60" y2="52.90" stroke="#444" stroke-width="0.7"/>
<text x="483.80" y="54.70" font-size="5.00" text-anchor="start" font-weight="normal" fill="#1e1e1e">2</text>
<line x1="480.60" y1="69.70" x2="482.60" y2="69.70" stroke="#444" stroke-width="0.7"/>
<text x="483.80" y="71.50" font-size="5.00" text-anchor="start" font-weight="normal" fill="#1e1e1e">1</text>
<line x1="480.60" y1="87.00" x2="482.60" y2="87.00" stroke="#444" stroke-width="0.7"/>
<text x="483.80" y="88.80" font-size="5.00" text-anchor="start" font-weight="normal" fill="#1e1e1e">0</text>
<rect x="159.00" y="188.70" width="4.00" height="67.90" fill="url(#gRB)"/>
<polygon points="159.00,256.30 163.00,256.30 161.00,259.30" fill="#053061"/>
<line x1="163.00" y1="189.20" x2="165.00" y2="189.20" stroke="#444" stroke-width="0.7"/>
<text x="166.20" y="191.00" font-size="5.00" text-anchor="start" font-weight="normal" fill="#1e1e1e">6</text>
<line x1="163.00" y1="200.50" x2="165.00" y2="200.50" stroke="#444" stroke-width="0.7"/>
<text x="166.20" y="202.30" font-size="5.00" text-anchor="start" font-weight="normal" fill="#1e1e1e">4</text>
<line x1="163.00" y1="211.30" x2="165.00" y2="211.30" stroke="#444" stroke-width="0.7"/>
<text x="166.20" y="213.10" font-size="5.00" text-anchor="start" font-weight="normal" fill="#1e1e1e">2</text>
<line x1="163.00" y1="222.30" x2="165.00" y2="222.30" stroke="#444" stroke-width="0.7"/>
<text x="166.20" y="224.10" font-size="5.00" text-anchor="start" font-weight="normal" fill="#1e1e1e">0</text>
<line x1="163.00" y1="233.80" x2="165.00" y2="233.80" stroke="#444" stroke-width="0.7"/>
<text x="166.20" y="235.60" font-size="5.00" text-anchor="start" font-weight="normal" fill="#1e1e1e">&#8722;2</text>
<line x1="163.00" y1="245.00" x2="165.00" y2="245.00" stroke="#444" stroke-width="0.7"/>
<text x="166.20" y="246.80" font-size="5.00" text-anchor="start" font-weight="normal" fill="#1e1e1e">&#8722;4</text>
<line x1="163.00" y1="256.30" x2="165.00" y2="256.30" stroke="#444" stroke-width="0.7"/>
<text x="166.20" y="258.10" font-size="5.00" text-anchor="start" font-weight="normal" fill="#1e1e1e">&#8722;6</text>
<rect x="318.00" y="192.20" width="4.00" height="64.30" fill="url(#gRB)"/>
<polygon points="318.00,192.50 322.00,192.50 320.00,188.90" fill="#67001f"/>
<polygon points="318.00,256.20 322.00,256.20 320.00,259.30" fill="#053061"/>
<line x1="322.00" y1="192.40" x2="324.00" y2="192.40" stroke="#444" stroke-width="0.7"/>
<text x="325.20" y="194.20" font-size="5.00" text-anchor="start" font-weight="normal" fill="#1e1e1e">3</text>
<line x1="322.00" y1="203.00" x2="324.00" y2="203.00" stroke="#444" stroke-width="0.7"/>
<text x="325.20" y="204.80" font-size="5.00" text-anchor="start" font-weight="normal" fill="#1e1e1e">2</text>
<line x1="322.00" y1="213.80" x2="324.00" y2="213.80" stroke="#444" stroke-width="0.7"/>
<text x="325.20" y="215.60" font-size="5.00" text-anchor="start" font-weight="normal" fill="#1e1e1e">1</text>
<line x1="322.00" y1="224.50" x2="324.00" y2="224.50" stroke="#444" stroke-width="0.7"/>
<text x="325.20" y="226.30" font-size="5.00" text-anchor="start" font-weight="normal" fill="#1e1e1e">0</text>
<line x1="322.00" y1="235.20" x2="324.00" y2="235.20" stroke="#444" stroke-width="0.7"/>
<text x="325.20" y="237.00" font-size="5.00" text-anchor="start" font-weight="normal" fill="#1e1e1e">&#8722;1</text>
<line x1="322.00" y1="245.80" x2="324.00" y2="245.80" stroke="#444" stroke-width="0.7"/>
<text x="325.20" y="247.60" font-size="5.00" text-anchor="start" font-weight="normal" fill="#1e1e1e">&#8722;2</text>
<line x1="322.00" y1="256.30" x2="324.00" y2="256.30" stroke="#444" stroke-width="0.7"/>
<text x="325.20" y="258.10" font-size="5.00" text-anchor="start" font-weight="normal" fill="#1e1e1e">&#8722;3</text>
<rect x="476.80" y="192.20" width="3.80" height="64.30" fill="url(#gRB)"/>
<polygon points="476.80,192.50 480.60,192.50 478.70,188.90" fill="#67001f"/>
<polygon points="476.80,256.20 480.60,256.20 478.70,259.30" fill="#053061"/>
<line x1="480.60" y1="192.40" x2="482.60" y2="192.40" stroke="#444" stroke-width="0.7"/>
<text x="483.80" y="194.20" font-size="5.00" text-anchor="start" font-weight="normal" fill="#1e1e1e">0.6</text>
<line x1="480.60" y1="203.00" x2="482.60" y2="203.00" stroke="#444" stroke-width="0.7"/>
<text x="483.80" y="204.80" font-size="5.00" text-anchor="start" font-weight="normal" fill="#1e1e1e">0.4</text>
<line x1="480.60" y1="213.80" x2="482.60" y2="213.80" stroke="#444" stroke-width="0.7"/>
<text x="483.80" y="215.60" font-size="5.00" text-anchor="start" font-weight="normal" fill="#1e1e1e">0.2</text>
<line x1="480.60" y1="224.50" x2="482.60" y2="224.50" stroke="#444" stroke-width="0.7"/>
<text x="483.80" y="226.30" font-size="5.00" text-anchor="start" font-weight="normal" fill="#1e1e1e">0.0</text>
<line x1="480.60" y1="235.20" x2="482.60" y2="235.20" stroke="#444" stroke-width="0.7"/>
<text x="483.80" y="237.00" font-size="5.00" text-anchor="start" font-weight="normal" fill="#1e1e1e">&#8722;0.2</text>
<line x1="480.60" y1="245.80" x2="482.60" y2="245.80" stroke="#444" stroke-width="0.7"/>
<text x="483.80" y="247.60" font-size="5.00" text-anchor="start" font-weight="normal" fill="#1e1e1e">&#8722;0.4</text>
<line x1="480.60" y1="256.30" x2="482.60" y2="256.30" stroke="#444" stroke-width="0.7"/>
<text x="483.80" y="258.10" font-size="5.00" text-anchor="start" font-weight="normal" fill="#1e1e1e">&#8722;0.6</text>
<line x1="159.10" y1="154.70" x2="165.40" y2="154.70" stroke="#f08080" stroke-width="0.9"/>
<text x="165.70" y="156.70" font-size="5.80" text-anchor="start" font-weight="normal" fill="#1e1e1e">+6</text>
<line x1="159.10" y1="161.00" x2="165.40" y2="161.00" stroke="#f08080" stroke-width="0.9" stroke-dasharray="1.6,1"/>
<text x="165.70" y="163.00" font-size="5.80" text-anchor="start" font-weight="normal" fill="#1e1e1e">+3</text>
<line x1="159.10" y1="167.60" x2="165.40" y2="167.60" stroke="#5050f0" stroke-width="0.9" stroke-dasharray="1.6,1"/>
<text x="165.70" y="169.60" font-size="5.80" text-anchor="start" font-weight="normal" fill="#1e1e1e">&#8722;3</text>
<line x1="159.10" y1="173.60" x2="165.40" y2="173.60" stroke="#8080f0" stroke-width="0.9"/>
<text x="165.70" y="175.60" font-size="5.80" text-anchor="start" font-weight="normal" fill="#1e1e1e">&#8722;6</text>
<line x1="318.00" y1="154.70" x2="324.30" y2="154.70" stroke="#f08080" stroke-width="0.9"/>
<text x="324.60" y="156.70" font-size="5.80" text-anchor="start" font-weight="normal" fill="#1e1e1e">+3</text>
<line x1="318.00" y1="161.00" x2="324.30" y2="161.00" stroke="#f08080" stroke-width="0.9" stroke-dasharray="1.6,1"/>
<text x="324.60" y="163.00" font-size="5.80" text-anchor="start" font-weight="normal" fill="#1e1e1e">+1.5</text>
<line x1="318.00" y1="167.60" x2="324.30" y2="167.60" stroke="#5050f0" stroke-width="0.9" stroke-dasharray="1.6,1"/>
<text x="324.60" y="169.60" font-size="5.80" text-anchor="start" font-weight="normal" fill="#1e1e1e">&#8722;1.5</text>
<line x1="318.00" y1="173.60" x2="324.30" y2="173.60" stroke="#8080f0" stroke-width="0.9"/>
<text x="324.60" y="175.60" font-size="5.80" text-anchor="start" font-weight="normal" fill="#1e1e1e">&#8722;3</text>
<line x1="476.80" y1="154.70" x2="483.10" y2="154.70" stroke="#f08080" stroke-width="0.9"/>
<text x="483.40" y="156.70" font-size="5.80" text-anchor="start" font-weight="normal" fill="#1e1e1e">+0.6</text>
<line x1="476.80" y1="161.00" x2="483.10" y2="161.00" stroke="#f08080" stroke-width="0.9" stroke-dasharray="1.6,1"/>
<text x="483.40" y="163.00" font-size="5.80" text-anchor="start" font-weight="normal" fill="#1e1e1e">+0.3</text>
<line x1="476.80" y1="167.60" x2="483.10" y2="167.60" stroke="#5050f0" stroke-width="0.9" stroke-dasharray="1.6,1"/>
<text x="483.40" y="169.60" font-size="5.80" text-anchor="start" font-weight="normal" fill="#1e1e1e">&#8722;0.3</text>
<line x1="476.80" y1="173.60" x2="483.10" y2="173.60" stroke="#8080f0" stroke-width="0.9"/>
<text x="483.40" y="175.60" font-size="5.80" text-anchor="start" font-weight="normal" fill="#1e1e1e">&#8722;0.6</text>
</svg></body></html>
